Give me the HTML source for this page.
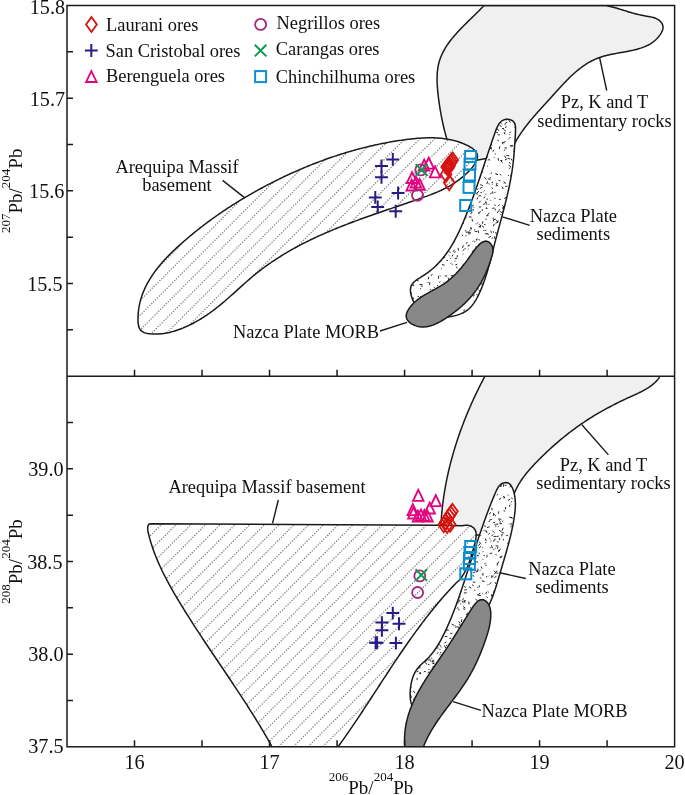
<!DOCTYPE html><html><head><meta charset="utf-8"><style>html,body{margin:0;padding:0;background:#fff;width:685px;height:795px;overflow:hidden}svg{display:block;will-change:transform}</style></head><body><svg width="685" height="795" viewBox="0 0 685 795">
<defs>
<clipPath id="cpT"><rect x="67.0" y="5.5" width="607.6" height="370.7"/></clipPath>
<clipPath id="cpB"><rect x="67.0" y="376.2" width="607.6" height="370.59999999999997"/></clipPath>
<clipPath id="cnt"><path d="M506.18,119.34 L507.75,119.32 L509.36,119.53 L510.93,119.98 L512.36,120.66 L513.54,121.59 L514.41,122.76 L514.98,124.14 L515.31,125.65 L515.47,127.26 L515.51,128.88 L515.51,130.47 L515.47,132.02 L515.41,133.55 L515.33,135.05 L515.24,136.53 L515.15,138.01 L515.05,139.50 L514.96,140.99 L514.86,142.48 L514.77,143.97 L514.67,145.47 L514.57,146.97 L514.46,148.47 L514.35,149.98 L514.24,151.48 L514.12,152.99 L513.99,154.50 L513.86,156.00 L513.72,157.51 L513.58,159.02 L513.42,160.52 L513.26,162.02 L513.08,163.53 L512.90,165.02 L512.70,166.52 L512.50,168.02 L512.28,169.51 L512.06,171.00 L511.83,172.49 L511.59,173.97 L511.34,175.46 L511.08,176.94 L510.81,178.42 L510.54,179.90 L510.26,181.38 L509.97,182.86 L509.67,184.33 L509.37,185.81 L509.06,187.28 L508.74,188.75 L508.42,190.22 L508.10,191.69 L507.76,193.16 L507.43,194.62 L507.08,196.09 L506.73,197.55 L506.38,199.02 L506.03,200.48 L505.66,201.94 L505.30,203.40 L504.93,204.86 L504.56,206.32 L504.18,207.77 L503.81,209.23 L503.43,210.69 L503.04,212.14 L502.66,213.60 L502.27,215.06 L501.89,216.51 L501.50,217.96 L501.10,219.42 L500.71,220.87 L500.32,222.33 L499.93,223.78 L499.54,225.23 L499.14,226.69 L498.75,228.14 L498.36,229.59 L497.97,231.05 L497.58,232.50 L497.19,233.95 L496.80,235.41 L496.42,236.86 L496.04,238.32 L495.66,239.77 L495.28,241.23 L494.90,242.68 L494.53,244.14 L494.16,245.60 L493.79,247.05 L493.43,248.51 L493.06,249.97 L492.70,251.43 L492.33,252.88 L491.97,254.34 L491.60,255.80 L491.23,257.25 L490.85,258.71 L490.48,260.16 L490.09,261.62 L489.71,263.07 L489.32,264.52 L488.92,265.97 L488.52,267.42 L488.10,268.86 L487.69,270.31 L487.26,271.75 L486.82,273.19 L486.38,274.63 L485.92,276.06 L485.46,277.50 L484.98,278.93 L484.49,280.35 L483.98,281.78 L483.47,283.20 L482.94,284.62 L482.39,286.04 L481.84,287.45 L481.26,288.86 L480.67,290.26 L480.06,291.66 L479.44,293.06 L478.79,294.45 L478.12,295.82 L477.43,297.18 L476.71,298.52 L475.96,299.83 L475.18,301.11 L474.37,302.37 L473.52,303.58 L472.64,304.76 L471.72,305.90 L470.75,306.99 L469.74,308.03 L468.69,309.01 L467.59,309.94 L466.43,310.80 L465.23,311.60 L463.97,312.33 L462.67,313.00 L461.32,313.61 L459.93,314.16 L458.50,314.66 L457.04,315.11 L455.55,315.52 L454.04,315.89 L452.51,316.22 L450.96,316.52 L449.39,316.79 L447.82,317.04 L446.24,317.26 L444.66,317.47 L443.08,317.66 L441.51,317.83 L439.95,317.97 L438.40,318.08 L436.87,318.14 L435.36,318.15 L433.88,318.11 L432.42,318.00 L431.00,317.81 L429.60,317.55 L428.25,317.20 L426.94,316.75 L425.68,316.21 L424.47,315.55 L423.30,314.78 L422.19,313.91 L421.12,312.95 L420.09,311.90 L419.11,310.77 L418.18,309.56 L417.28,308.29 L416.42,306.95 L415.60,305.57 L414.82,304.13 L414.06,302.66 L413.35,301.16 L412.69,299.63 L412.09,298.09 L411.56,296.55 L411.12,295.02 L410.78,293.51 L410.54,292.02 L410.43,290.57 L410.45,289.17 L410.62,287.83 L410.95,286.55 L411.44,285.35 L412.10,284.23 L412.91,283.17 L413.84,282.18 L414.89,281.23 L416.04,280.32 L417.26,279.45 L418.54,278.60 L419.86,277.76 L421.21,276.93 L422.57,276.09 L423.91,275.25 L425.23,274.38 L426.52,273.49 L427.79,272.58 L429.03,271.66 L430.24,270.71 L431.43,269.74 L432.60,268.76 L433.74,267.75 L434.86,266.73 L435.95,265.69 L437.02,264.64 L438.07,263.57 L439.10,262.48 L440.11,261.38 L441.10,260.26 L442.06,259.12 L443.01,257.97 L443.94,256.81 L444.85,255.64 L445.74,254.45 L446.61,253.24 L447.47,252.03 L448.31,250.80 L449.13,249.56 L449.94,248.31 L450.73,247.05 L451.51,245.78 L452.27,244.49 L453.02,243.20 L453.75,241.90 L454.47,240.59 L455.18,239.27 L455.88,237.95 L456.57,236.61 L457.24,235.27 L457.91,233.92 L458.56,232.56 L459.21,231.20 L459.84,229.84 L460.47,228.46 L461.09,227.09 L461.70,225.70 L462.30,224.32 L462.90,222.93 L463.49,221.53 L464.08,220.14 L464.66,218.74 L465.23,217.34 L465.80,215.94 L466.37,214.53 L466.93,213.13 L467.49,211.72 L468.04,210.31 L468.59,208.90 L469.13,207.49 L469.67,206.07 L470.21,204.66 L470.75,203.24 L471.28,201.83 L471.80,200.41 L472.33,198.99 L472.85,197.57 L473.36,196.15 L473.88,194.73 L474.39,193.31 L474.89,191.89 L475.40,190.46 L475.90,189.04 L476.40,187.62 L476.90,186.20 L477.39,184.77 L477.88,183.35 L478.37,181.93 L478.86,180.51 L479.35,179.08 L479.83,177.66 L480.31,176.24 L480.79,174.82 L481.27,173.40 L481.75,171.98 L482.22,170.56 L482.70,169.15 L483.17,167.73 L483.64,166.31 L484.11,164.90 L484.58,163.49 L485.05,162.07 L485.52,160.66 L485.98,159.25 L486.45,157.85 L486.92,156.44 L487.38,155.03 L487.85,153.63 L488.32,152.22 L488.79,150.81 L489.26,149.40 L489.73,147.98 L490.21,146.56 L490.69,145.13 L491.18,143.69 L491.67,142.25 L492.17,140.80 L492.67,139.34 L493.18,137.87 L493.69,136.39 L494.22,134.90 L494.75,133.39 L495.29,131.87 L495.85,130.36 L496.44,128.88 L497.06,127.43 L497.74,126.05 L498.48,124.74 L499.29,123.54 L500.18,122.44 L501.16,121.48 L502.24,120.68 L503.43,120.04 L504.74,119.59 L506.18,119.34 Z"/></clipPath>
<clipPath id="cnb"><path d="M507.38,482.76 L508.54,483.23 L509.58,483.94 L510.51,484.88 L511.34,486.00 L512.07,487.28 L512.72,488.69 L513.28,490.20 L513.76,491.77 L514.16,493.38 L514.51,494.99 L514.79,496.58 L515.01,498.16 L515.17,499.73 L515.29,501.28 L515.36,502.81 L515.38,504.34 L515.36,505.85 L515.31,507.35 L515.22,508.85 L515.10,510.34 L514.96,511.82 L514.79,513.30 L514.61,514.77 L514.40,516.24 L514.19,517.71 L513.96,519.18 L513.72,520.65 L513.46,522.11 L513.20,523.58 L512.92,525.04 L512.63,526.51 L512.34,527.97 L512.03,529.43 L511.71,530.89 L511.39,532.34 L511.05,533.80 L510.71,535.26 L510.36,536.71 L510.00,538.17 L509.63,539.62 L509.26,541.07 L508.88,542.53 L508.49,543.98 L508.10,545.43 L507.70,546.88 L507.30,548.33 L506.89,549.78 L506.48,551.23 L506.07,552.68 L505.65,554.13 L505.23,555.58 L504.81,557.03 L504.38,558.48 L503.95,559.92 L503.53,561.37 L503.10,562.82 L502.67,564.27 L502.24,565.72 L501.81,567.17 L501.38,568.62 L500.95,570.07 L500.53,571.52 L500.10,572.97 L499.68,574.42 L499.26,575.87 L498.84,577.32 L498.41,578.77 L497.99,580.22 L497.56,581.66 L497.13,583.11 L496.69,584.55 L496.24,585.99 L495.79,587.43 L495.33,588.86 L494.86,590.29 L494.37,591.71 L493.88,593.13 L493.37,594.55 L492.84,595.95 L492.30,597.36 L491.74,598.75 L491.16,600.14 L490.57,601.53 L489.95,602.90 L489.31,604.27 L488.66,605.62 L487.98,606.97 L487.28,608.30 L486.57,609.63 L485.83,610.94 L485.08,612.24 L484.30,613.52 L483.51,614.79 L482.70,616.04 L481.87,617.27 L481.02,618.49 L480.15,619.69 L479.26,620.87 L478.36,622.03 L477.44,623.17 L476.49,624.29 L475.54,625.39 L474.56,626.46 L473.57,627.51 L472.55,628.53 L471.52,629.53 L470.48,630.50 L469.42,631.44 L468.34,632.36 L467.25,633.27 L466.14,634.15 L465.03,635.03 L463.90,635.89 L462.77,636.75 L461.63,637.61 L460.49,638.47 L459.35,639.34 L458.20,640.22 L457.05,641.11 L455.90,642.01 L454.76,642.94 L453.62,643.88 L452.49,644.86 L451.36,645.86 L450.25,646.90 L449.14,647.98 L448.05,649.10 L446.96,650.26 L445.90,651.48 L444.85,652.74 L443.82,654.06 L442.80,655.44 L441.81,656.88 L440.84,658.39 L439.90,659.96 L438.98,661.61 L438.09,663.33 L437.21,665.10 L436.36,666.92 L435.53,668.79 L434.73,670.69 L433.94,672.63 L433.16,674.58 L432.41,676.55 L431.67,678.52 L430.94,680.49 L430.23,682.46 L429.53,684.41 L428.84,686.33 L428.16,688.23 L427.49,690.09 L426.83,691.90 L426.17,693.66 L425.52,695.36 L424.88,696.99 L424.24,698.55 L423.60,700.02 L422.96,701.41 L422.32,702.69 L421.68,703.88 L421.04,704.95 L420.39,705.90 L419.74,706.72 L419.09,707.41 L418.43,707.96 L417.76,708.36 L417.08,708.60 L416.39,708.67 L415.69,708.58 L414.98,708.31 L414.25,707.85 L413.52,707.20 L412.82,706.38 L412.17,705.40 L411.62,704.29 L411.16,703.05 L410.80,701.71 L410.52,700.28 L410.32,698.77 L410.19,697.20 L410.13,695.58 L410.13,693.93 L410.18,692.26 L410.27,690.60 L410.41,688.95 L410.59,687.32 L410.81,685.72 L411.07,684.14 L411.37,682.59 L411.72,681.07 L412.12,679.58 L412.56,678.12 L413.06,676.70 L413.61,675.30 L414.21,673.95 L414.87,672.63 L415.59,671.35 L416.37,670.11 L417.21,668.90 L418.11,667.74 L419.08,666.63 L420.11,665.55 L421.18,664.50 L422.29,663.47 L423.41,662.45 L424.54,661.44 L425.67,660.41 L426.77,659.37 L427.84,658.31 L428.89,657.22 L429.90,656.11 L430.88,654.98 L431.84,653.82 L432.77,652.65 L433.68,651.46 L434.56,650.25 L435.41,649.02 L436.25,647.78 L437.06,646.52 L437.86,645.25 L438.63,643.97 L439.39,642.67 L440.13,641.36 L440.86,640.04 L441.57,638.72 L442.26,637.38 L442.95,636.04 L443.62,634.69 L444.28,633.34 L444.93,631.98 L445.57,630.62 L446.21,629.26 L446.83,627.89 L447.45,626.52 L448.06,625.15 L448.67,623.77 L449.26,622.39 L449.85,621.01 L450.43,619.63 L451.01,618.24 L451.58,616.85 L452.14,615.46 L452.69,614.06 L453.24,612.66 L453.79,611.27 L454.33,609.86 L454.86,608.46 L455.39,607.05 L455.91,605.64 L456.43,604.23 L456.94,602.82 L457.45,601.41 L457.96,599.99 L458.46,598.58 L458.96,597.16 L459.45,595.74 L459.95,594.32 L460.43,592.89 L460.92,591.47 L461.40,590.04 L461.88,588.62 L462.36,587.19 L462.84,585.76 L463.31,584.33 L463.78,582.90 L464.25,581.47 L464.72,580.03 L465.19,578.60 L465.66,577.17 L466.13,575.73 L466.59,574.30 L467.06,572.86 L467.53,571.43 L467.99,569.99 L468.46,568.56 L468.92,567.12 L469.39,565.69 L469.86,564.25 L470.32,562.82 L470.79,561.38 L471.26,559.95 L471.72,558.51 L472.19,557.08 L472.66,555.64 L473.13,554.21 L473.60,552.77 L474.07,551.34 L474.54,549.91 L475.01,548.48 L475.49,547.05 L475.96,545.62 L476.43,544.19 L476.91,542.76 L477.39,541.33 L477.87,539.91 L478.35,538.48 L478.83,537.06 L479.31,535.63 L479.80,534.21 L480.28,532.79 L480.77,531.37 L481.26,529.96 L481.75,528.54 L482.25,527.13 L482.74,525.71 L483.24,524.30 L483.74,522.89 L484.24,521.48 L484.74,520.08 L485.25,518.68 L485.76,517.27 L486.27,515.87 L486.78,514.48 L487.30,513.08 L487.82,511.69 L488.34,510.29 L488.87,508.90 L489.41,507.50 L489.95,506.10 L490.50,504.70 L491.05,503.29 L491.62,501.88 L492.19,500.46 L492.77,499.03 L493.36,497.60 L493.97,496.15 L494.58,494.70 L495.21,493.24 L495.85,491.77 L496.52,490.31 L497.24,488.90 L498.02,487.55 L498.89,486.31 L499.85,485.21 L500.93,484.26 L502.14,483.50 L503.44,482.96 L504.79,482.64 L506.12,482.57 L507.38,482.76 Z"/></clipPath>
</defs>
<rect width="685" height="795" fill="#fff"/>
<g clip-path="url(#cpT)" stroke-linejoin="round">
<path d="M483.80,5.50 L605.70,5.50 L605.70,5.50 L607.32,5.82 L608.91,6.17 L610.45,6.53 L611.97,6.90 L613.46,7.29 L614.92,7.69 L616.36,8.09 L617.79,8.51 L619.19,8.93 L620.58,9.35 L621.96,9.78 L623.34,10.21 L624.71,10.64 L626.08,11.07 L627.45,11.49 L628.82,11.91 L630.20,12.33 L631.60,12.74 L633.01,13.14 L634.43,13.54 L635.88,13.92 L637.34,14.29 L638.84,14.64 L640.36,14.98 L641.92,15.31 L643.51,15.61 L645.14,15.90 L646.79,16.18 L648.46,16.47 L650.11,16.78 L651.75,17.14 L653.34,17.56 L654.88,18.05 L656.34,18.64 L657.71,19.34 L658.97,20.17 L660.10,21.11 L661.09,22.17 L661.90,23.33 L662.51,24.56 L662.90,25.86 L663.06,27.21 L662.95,28.59 L662.59,30.00 L662.02,31.40 L661.31,32.78 L660.51,34.10 L659.65,35.36 L658.75,36.56 L657.80,37.69 L656.81,38.76 L655.78,39.77 L654.71,40.73 L653.60,41.63 L652.45,42.48 L651.27,43.28 L650.06,44.03 L648.81,44.73 L647.53,45.39 L646.23,46.01 L644.89,46.60 L643.54,47.14 L642.15,47.65 L640.75,48.14 L639.32,48.59 L637.87,49.01 L636.41,49.41 L634.92,49.79 L633.43,50.14 L631.92,50.48 L630.39,50.80 L628.86,51.11 L627.32,51.41 L625.77,51.70 L624.21,51.98 L622.65,52.26 L621.09,52.53 L619.52,52.81 L617.96,53.09 L616.39,53.37 L614.84,53.66 L613.28,53.96 L611.73,54.27 L610.19,54.59 L608.66,54.94 L607.14,55.29 L605.63,55.67 L604.14,56.08 L602.66,56.51 L601.20,56.96 L599.75,57.45 L598.33,57.96 L596.93,58.51 L595.54,59.10 L594.18,59.71 L592.83,60.35 L591.51,61.02 L590.20,61.72 L588.91,62.45 L587.63,63.20 L586.37,63.98 L585.13,64.79 L583.90,65.61 L582.68,66.46 L581.48,67.34 L580.29,68.23 L579.12,69.14 L577.96,70.08 L576.81,71.03 L575.67,72.00 L574.54,72.98 L573.42,73.98 L572.31,75.00 L571.21,76.03 L570.12,77.08 L569.04,78.13 L567.96,79.20 L566.90,80.28 L565.83,81.37 L564.78,82.47 L563.73,83.57 L562.68,84.68 L561.64,85.80 L560.60,86.93 L559.56,88.06 L558.53,89.19 L557.50,90.32 L556.47,91.46 L555.44,92.60 L554.42,93.74 L553.39,94.87 L552.36,96.01 L551.33,97.14 L550.30,98.27 L549.27,99.40 L548.24,100.53 L547.21,101.66 L546.18,102.78 L545.15,103.90 L544.12,105.03 L543.10,106.15 L542.08,107.28 L541.06,108.40 L540.04,109.53 L539.03,110.65 L538.02,111.78 L537.02,112.92 L536.02,114.05 L535.03,115.19 L534.04,116.33 L533.07,117.48 L532.09,118.63 L531.13,119.78 L530.17,120.94 L529.22,122.10 L528.28,123.27 L527.35,124.45 L526.43,125.63 L525.52,126.82 L524.62,128.02 L523.73,129.22 L522.86,130.43 L521.99,131.65 L521.14,132.88 L520.30,134.12 L519.47,135.37 L518.66,136.63 L517.86,137.89 L517.07,139.17 L516.31,140.46 L515.55,141.76 L514.81,143.07 L514.09,144.40 L514.00,146.00 L500.00,152.00 L486.00,158.40 L476.80,160.30 L460.00,150.00 L447.00,139.50 L446.51,137.98 L446.10,136.53 L445.70,135.07 L445.31,133.61 L444.93,132.14 L444.56,130.68 L444.20,129.21 L443.84,127.74 L443.50,126.27 L443.16,124.79 L442.83,123.31 L442.51,121.83 L442.20,120.34 L441.89,118.85 L441.59,117.36 L441.30,115.86 L441.02,114.36 L440.75,112.86 L440.49,111.35 L440.23,109.84 L439.98,108.32 L439.74,106.80 L439.50,105.27 L439.28,103.74 L439.06,102.21 L438.84,100.67 L438.64,99.12 L438.44,97.57 L438.25,96.02 L438.07,94.46 L437.90,92.89 L437.74,91.32 L437.59,89.75 L437.46,88.18 L437.34,86.61 L437.24,85.05 L437.16,83.48 L437.10,81.92 L437.07,80.36 L437.06,78.80 L437.07,77.25 L437.12,75.71 L437.19,74.17 L437.30,72.65 L437.43,71.13 L437.61,69.63 L437.81,68.14 L438.06,66.66 L438.34,65.19 L438.67,63.74 L439.04,62.30 L439.45,60.88 L439.90,59.48 L440.40,58.09 L440.93,56.71 L441.50,55.35 L442.11,54.01 L442.75,52.68 L443.43,51.36 L444.14,50.05 L444.88,48.76 L445.65,47.48 L446.45,46.21 L447.28,44.96 L448.14,43.71 L449.02,42.48 L449.93,41.26 L450.85,40.05 L451.80,38.84 L452.77,37.65 L453.76,36.47 L454.76,35.29 L455.79,34.13 L456.82,32.97 L457.87,31.82 L458.94,30.67 L460.01,29.54 L461.10,28.41 L462.19,27.29 L463.29,26.17 L464.40,25.06 L465.51,23.95 L466.62,22.85 L467.74,21.75 L468.86,20.66 L469.97,19.57 L471.09,18.48 L472.20,17.40 L473.31,16.32 L474.41,15.24 L475.51,14.17 L476.60,13.09 L477.68,12.02 L478.75,10.95 L479.81,9.87 L480.85,8.80 L481.88,7.73 L482.90,6.66 L483.80,5.50 Z" fill="#f0f0f0" stroke="#1a1a1a" stroke-width="1.5"/>
<path d="M137.98,318.18 L138.02,316.61 L138.09,315.06 L138.20,313.52 L138.34,311.99 L138.51,310.48 L138.71,308.98 L138.94,307.49 L139.20,306.01 L139.49,304.54 L139.81,303.09 L140.16,301.65 L140.54,300.22 L140.95,298.80 L141.38,297.39 L141.84,295.99 L142.33,294.61 L142.84,293.23 L143.37,291.87 L143.94,290.52 L144.52,289.17 L145.13,287.84 L145.77,286.52 L146.42,285.21 L147.10,283.91 L147.80,282.61 L148.52,281.33 L149.27,280.06 L150.03,278.80 L150.81,277.55 L151.61,276.30 L152.43,275.07 L153.27,273.84 L154.13,272.63 L155.01,271.42 L155.90,270.22 L156.81,269.03 L157.73,267.85 L158.67,266.68 L159.62,265.52 L160.59,264.36 L161.57,263.21 L162.57,262.07 L163.58,260.94 L164.60,259.81 L165.63,258.70 L166.68,257.59 L167.73,256.48 L168.80,255.39 L169.88,254.30 L170.96,253.22 L172.06,252.15 L173.16,251.08 L174.27,250.02 L175.39,248.96 L176.51,247.91 L177.64,246.87 L178.78,245.84 L179.93,244.81 L181.07,243.78 L182.23,242.76 L183.38,241.75 L184.54,240.74 L185.71,239.74 L186.87,238.74 L188.04,237.75 L189.22,236.77 L190.39,235.79 L191.57,234.81 L192.75,233.84 L193.94,232.88 L195.12,231.92 L196.31,230.96 L197.51,230.01 L198.70,229.07 L199.90,228.13 L201.10,227.19 L202.30,226.27 L203.51,225.34 L204.72,224.42 L205.93,223.51 L207.15,222.60 L208.36,221.70 L209.58,220.80 L210.81,219.90 L212.03,219.01 L213.26,218.13 L214.49,217.25 L215.72,216.38 L216.96,215.51 L218.20,214.64 L219.44,213.78 L220.68,212.93 L221.93,212.08 L223.18,211.23 L224.43,210.39 L225.68,209.56 L226.94,208.73 L228.20,207.90 L229.46,207.08 L230.72,206.26 L231.99,205.45 L233.25,204.64 L234.52,203.84 L235.80,203.04 L237.07,202.25 L238.35,201.46 L239.63,200.67 L240.91,199.89 L242.19,199.12 L243.48,198.34 L244.77,197.58 L246.06,196.82 L247.35,196.06 L248.65,195.30 L249.95,194.55 L251.25,193.81 L252.55,193.07 L253.85,192.33 L255.16,191.60 L256.47,190.87 L257.78,190.15 L259.09,189.43 L260.41,188.72 L261.72,188.01 L263.04,187.30 L264.36,186.60 L265.68,185.90 L267.01,185.20 L268.33,184.51 L269.66,183.83 L270.99,183.15 L272.33,182.47 L273.66,181.80 L275.00,181.13 L276.33,180.46 L277.67,179.80 L279.02,179.14 L280.36,178.49 L281.71,177.84 L283.05,177.19 L284.40,176.55 L285.75,175.91 L287.11,175.28 L288.46,174.65 L289.82,174.03 L291.18,173.40 L292.54,172.79 L293.90,172.18 L295.26,171.57 L296.63,170.96 L298.00,170.36 L299.37,169.77 L300.74,169.18 L302.11,168.59 L303.49,168.01 L304.86,167.43 L306.24,166.86 L307.63,166.29 L309.01,165.72 L310.39,165.16 L311.78,164.61 L313.17,164.06 L314.56,163.51 L315.96,162.97 L317.35,162.43 L318.75,161.90 L320.15,161.38 L321.55,160.85 L322.95,160.33 L324.36,159.82 L325.77,159.31 L327.17,158.81 L328.59,158.31 L330.00,157.82 L331.41,157.33 L332.83,156.85 L334.25,156.37 L335.67,155.89 L337.10,155.42 L338.52,154.96 L339.95,154.50 L341.38,154.05 L342.81,153.60 L344.25,153.16 L345.68,152.72 L347.12,152.29 L348.56,151.86 L350.00,151.44 L351.45,151.02 L352.90,150.61 L354.34,150.20 L355.80,149.80 L357.25,149.40 L358.70,149.01 L360.16,148.63 L361.62,148.25 L363.08,147.87 L364.55,147.51 L366.01,147.14 L367.48,146.79 L368.95,146.43 L370.43,146.09 L371.90,145.75 L373.38,145.41 L374.86,145.08 L376.34,144.76 L377.82,144.44 L379.31,144.13 L380.80,143.82 L382.29,143.52 L383.78,143.23 L385.28,142.94 L386.77,142.66 L388.27,142.38 L389.77,142.11 L391.28,141.85 L392.78,141.59 L394.29,141.33 L395.80,141.09 L397.32,140.85 L398.83,140.61 L400.35,140.38 L401.87,140.16 L403.39,139.94 L404.92,139.73 L406.44,139.53 L407.97,139.34 L409.50,139.15 L411.03,138.97 L412.57,138.80 L414.10,138.65 L415.63,138.50 L417.16,138.36 L418.70,138.24 L420.23,138.13 L421.76,138.04 L423.29,137.95 L424.82,137.89 L426.35,137.84 L427.88,137.80 L429.40,137.78 L430.92,137.78 L432.44,137.80 L433.96,137.84 L435.47,137.90 L436.98,137.98 L438.49,138.07 L439.99,138.19 L441.49,138.34 L442.98,138.50 L444.47,138.69 L445.95,138.90 L447.43,139.14 L448.90,139.41 L450.37,139.70 L451.83,140.02 L453.29,140.36 L454.73,140.73 L456.18,141.14 L457.61,141.57 L459.04,142.03 L460.45,142.53 L461.86,143.05 L463.27,143.61 L464.66,144.20 L466.05,144.82 L467.42,145.48 L468.76,146.18 L470.06,146.91 L471.30,147.67 L472.47,148.48 L473.55,149.32 L474.53,150.20 L475.39,151.12 L476.12,152.09 L476.70,153.09 L477.12,154.14 L477.36,155.22 L477.44,156.35 L477.35,157.51 L477.12,158.70 L476.75,159.91 L476.26,161.15 L475.64,162.40 L474.92,163.65 L474.10,164.92 L473.19,166.18 L472.21,167.45 L471.15,168.70 L470.04,169.94 L468.89,171.16 L467.69,172.36 L466.47,173.53 L465.23,174.67 L463.99,175.78 L462.73,176.85 L461.47,177.88 L460.20,178.88 L458.93,179.85 L457.65,180.79 L456.36,181.69 L455.07,182.57 L453.77,183.42 L452.46,184.25 L451.15,185.04 L449.83,185.82 L448.51,186.56 L447.19,187.29 L445.85,187.99 L444.52,188.68 L443.18,189.34 L441.83,189.99 L440.48,190.61 L439.13,191.22 L437.77,191.82 L436.40,192.40 L435.04,192.97 L433.67,193.53 L432.29,194.07 L430.92,194.60 L429.54,195.13 L428.15,195.65 L426.77,196.16 L425.38,196.66 L423.99,197.16 L422.59,197.66 L421.20,198.15 L419.80,198.64 L418.40,199.14 L417.00,199.63 L415.60,200.11 L414.19,200.60 L412.78,201.09 L411.38,201.58 L409.96,202.06 L408.55,202.55 L407.14,203.03 L405.73,203.52 L404.31,204.00 L402.89,204.48 L401.47,204.97 L400.06,205.45 L398.63,205.93 L397.21,206.42 L395.79,206.90 L394.37,207.39 L392.94,207.87 L391.52,208.36 L390.09,208.84 L388.67,209.33 L387.24,209.82 L385.82,210.30 L384.39,210.79 L382.96,211.28 L381.53,211.77 L380.11,212.27 L378.68,212.76 L377.25,213.25 L375.82,213.75 L374.39,214.25 L372.97,214.75 L371.54,215.25 L370.11,215.75 L368.68,216.25 L367.26,216.76 L365.83,217.27 L364.40,217.78 L362.98,218.29 L361.56,218.80 L360.13,219.32 L358.71,219.84 L357.29,220.36 L355.87,220.88 L354.45,221.41 L353.03,221.94 L351.61,222.47 L350.19,223.01 L348.78,223.55 L347.36,224.09 L345.95,224.63 L344.54,225.18 L343.13,225.73 L341.72,226.28 L340.31,226.84 L338.91,227.40 L337.51,227.97 L336.11,228.54 L334.71,229.11 L333.31,229.68 L331.91,230.26 L330.52,230.85 L329.13,231.44 L327.74,232.03 L326.35,232.63 L324.97,233.23 L323.59,233.83 L322.21,234.44 L320.83,235.06 L319.46,235.68 L318.09,236.30 L316.72,236.93 L315.35,237.57 L313.99,238.21 L312.63,238.85 L311.27,239.50 L309.92,240.16 L308.57,240.82 L307.22,241.48 L305.88,242.15 L304.54,242.83 L303.20,243.51 L301.87,244.20 L300.54,244.90 L299.21,245.59 L297.89,246.30 L296.57,247.01 L295.26,247.73 L293.95,248.45 L292.64,249.18 L291.34,249.92 L290.04,250.66 L288.74,251.40 L287.45,252.15 L286.17,252.91 L284.89,253.68 L283.61,254.45 L282.34,255.23 L281.08,256.01 L279.81,256.80 L278.56,257.59 L277.31,258.39 L276.06,259.20 L274.82,260.02 L273.58,260.84 L272.35,261.66 L271.13,262.50 L269.91,263.34 L268.69,264.18 L267.49,265.04 L266.28,265.89 L265.09,266.76 L263.90,267.63 L262.71,268.51 L261.53,269.40 L260.36,270.29 L259.19,271.19 L258.03,272.09 L256.88,273.00 L255.73,273.92 L254.59,274.85 L253.46,275.78 L252.33,276.72 L251.21,277.67 L250.09,278.62 L248.98,279.57 L247.88,280.54 L246.77,281.50 L245.67,282.47 L244.57,283.45 L243.48,284.43 L242.38,285.41 L241.29,286.39 L240.20,287.38 L239.11,288.37 L238.01,289.36 L236.92,290.35 L235.82,291.34 L234.73,292.33 L233.63,293.33 L232.52,294.32 L231.42,295.31 L230.30,296.30 L229.19,297.29 L228.07,298.28 L226.94,299.26 L225.81,300.24 L224.67,301.22 L223.52,302.20 L222.36,303.17 L221.20,304.14 L220.03,305.10 L218.85,306.06 L217.65,307.02 L216.45,307.96 L215.24,308.91 L214.01,309.84 L212.78,310.77 L211.53,311.69 L210.26,312.60 L208.99,313.51 L207.70,314.41 L206.39,315.29 L205.08,316.17 L203.75,317.04 L202.41,317.89 L201.05,318.74 L199.69,319.56 L198.32,320.38 L196.94,321.18 L195.55,321.96 L194.15,322.73 L192.74,323.47 L191.32,324.21 L189.90,324.92 L188.47,325.61 L187.04,326.28 L185.60,326.93 L184.15,327.55 L182.70,328.16 L181.25,328.73 L179.79,329.29 L178.33,329.82 L176.86,330.32 L175.40,330.79 L173.93,331.24 L172.47,331.65 L171.00,332.04 L169.53,332.40 L168.06,332.72 L166.60,333.01 L165.13,333.27 L163.67,333.50 L162.21,333.69 L160.76,333.84 L159.31,333.96 L157.86,334.04 L156.41,334.09 L154.98,334.09 L153.54,334.05 L152.12,333.98 L150.70,333.86 L149.29,333.70 L147.89,333.50 L146.52,333.23 L145.20,332.89 L143.96,332.45 L142.80,331.90 L141.75,331.23 L140.84,330.43 L140.07,329.46 L139.44,328.35 L138.95,327.12 L138.58,325.78 L138.31,324.35 L138.13,322.86 L138.02,321.32 L137.98,319.75 L137.98,318.18 Z" fill="#fff" stroke="none"/>
<clipPath id="cat"><path d="M137.98,318.18 L138.02,316.61 L138.09,315.06 L138.20,313.52 L138.34,311.99 L138.51,310.48 L138.71,308.98 L138.94,307.49 L139.20,306.01 L139.49,304.54 L139.81,303.09 L140.16,301.65 L140.54,300.22 L140.95,298.80 L141.38,297.39 L141.84,295.99 L142.33,294.61 L142.84,293.23 L143.37,291.87 L143.94,290.52 L144.52,289.17 L145.13,287.84 L145.77,286.52 L146.42,285.21 L147.10,283.91 L147.80,282.61 L148.52,281.33 L149.27,280.06 L150.03,278.80 L150.81,277.55 L151.61,276.30 L152.43,275.07 L153.27,273.84 L154.13,272.63 L155.01,271.42 L155.90,270.22 L156.81,269.03 L157.73,267.85 L158.67,266.68 L159.62,265.52 L160.59,264.36 L161.57,263.21 L162.57,262.07 L163.58,260.94 L164.60,259.81 L165.63,258.70 L166.68,257.59 L167.73,256.48 L168.80,255.39 L169.88,254.30 L170.96,253.22 L172.06,252.15 L173.16,251.08 L174.27,250.02 L175.39,248.96 L176.51,247.91 L177.64,246.87 L178.78,245.84 L179.93,244.81 L181.07,243.78 L182.23,242.76 L183.38,241.75 L184.54,240.74 L185.71,239.74 L186.87,238.74 L188.04,237.75 L189.22,236.77 L190.39,235.79 L191.57,234.81 L192.75,233.84 L193.94,232.88 L195.12,231.92 L196.31,230.96 L197.51,230.01 L198.70,229.07 L199.90,228.13 L201.10,227.19 L202.30,226.27 L203.51,225.34 L204.72,224.42 L205.93,223.51 L207.15,222.60 L208.36,221.70 L209.58,220.80 L210.81,219.90 L212.03,219.01 L213.26,218.13 L214.49,217.25 L215.72,216.38 L216.96,215.51 L218.20,214.64 L219.44,213.78 L220.68,212.93 L221.93,212.08 L223.18,211.23 L224.43,210.39 L225.68,209.56 L226.94,208.73 L228.20,207.90 L229.46,207.08 L230.72,206.26 L231.99,205.45 L233.25,204.64 L234.52,203.84 L235.80,203.04 L237.07,202.25 L238.35,201.46 L239.63,200.67 L240.91,199.89 L242.19,199.12 L243.48,198.34 L244.77,197.58 L246.06,196.82 L247.35,196.06 L248.65,195.30 L249.95,194.55 L251.25,193.81 L252.55,193.07 L253.85,192.33 L255.16,191.60 L256.47,190.87 L257.78,190.15 L259.09,189.43 L260.41,188.72 L261.72,188.01 L263.04,187.30 L264.36,186.60 L265.68,185.90 L267.01,185.20 L268.33,184.51 L269.66,183.83 L270.99,183.15 L272.33,182.47 L273.66,181.80 L275.00,181.13 L276.33,180.46 L277.67,179.80 L279.02,179.14 L280.36,178.49 L281.71,177.84 L283.05,177.19 L284.40,176.55 L285.75,175.91 L287.11,175.28 L288.46,174.65 L289.82,174.03 L291.18,173.40 L292.54,172.79 L293.90,172.18 L295.26,171.57 L296.63,170.96 L298.00,170.36 L299.37,169.77 L300.74,169.18 L302.11,168.59 L303.49,168.01 L304.86,167.43 L306.24,166.86 L307.63,166.29 L309.01,165.72 L310.39,165.16 L311.78,164.61 L313.17,164.06 L314.56,163.51 L315.96,162.97 L317.35,162.43 L318.75,161.90 L320.15,161.38 L321.55,160.85 L322.95,160.33 L324.36,159.82 L325.77,159.31 L327.17,158.81 L328.59,158.31 L330.00,157.82 L331.41,157.33 L332.83,156.85 L334.25,156.37 L335.67,155.89 L337.10,155.42 L338.52,154.96 L339.95,154.50 L341.38,154.05 L342.81,153.60 L344.25,153.16 L345.68,152.72 L347.12,152.29 L348.56,151.86 L350.00,151.44 L351.45,151.02 L352.90,150.61 L354.34,150.20 L355.80,149.80 L357.25,149.40 L358.70,149.01 L360.16,148.63 L361.62,148.25 L363.08,147.87 L364.55,147.51 L366.01,147.14 L367.48,146.79 L368.95,146.43 L370.43,146.09 L371.90,145.75 L373.38,145.41 L374.86,145.08 L376.34,144.76 L377.82,144.44 L379.31,144.13 L380.80,143.82 L382.29,143.52 L383.78,143.23 L385.28,142.94 L386.77,142.66 L388.27,142.38 L389.77,142.11 L391.28,141.85 L392.78,141.59 L394.29,141.33 L395.80,141.09 L397.32,140.85 L398.83,140.61 L400.35,140.38 L401.87,140.16 L403.39,139.94 L404.92,139.73 L406.44,139.53 L407.97,139.34 L409.50,139.15 L411.03,138.97 L412.57,138.80 L414.10,138.65 L415.63,138.50 L417.16,138.36 L418.70,138.24 L420.23,138.13 L421.76,138.04 L423.29,137.95 L424.82,137.89 L426.35,137.84 L427.88,137.80 L429.40,137.78 L430.92,137.78 L432.44,137.80 L433.96,137.84 L435.47,137.90 L436.98,137.98 L438.49,138.07 L439.99,138.19 L441.49,138.34 L442.98,138.50 L444.47,138.69 L445.95,138.90 L447.43,139.14 L448.90,139.41 L450.37,139.70 L451.83,140.02 L453.29,140.36 L454.73,140.73 L456.18,141.14 L457.61,141.57 L459.04,142.03 L460.45,142.53 L461.86,143.05 L463.27,143.61 L464.66,144.20 L466.05,144.82 L467.42,145.48 L468.76,146.18 L470.06,146.91 L471.30,147.67 L472.47,148.48 L473.55,149.32 L474.53,150.20 L475.39,151.12 L476.12,152.09 L476.70,153.09 L477.12,154.14 L477.36,155.22 L477.44,156.35 L477.35,157.51 L477.12,158.70 L476.75,159.91 L476.26,161.15 L475.64,162.40 L474.92,163.65 L474.10,164.92 L473.19,166.18 L472.21,167.45 L471.15,168.70 L470.04,169.94 L468.89,171.16 L467.69,172.36 L466.47,173.53 L465.23,174.67 L463.99,175.78 L462.73,176.85 L461.47,177.88 L460.20,178.88 L458.93,179.85 L457.65,180.79 L456.36,181.69 L455.07,182.57 L453.77,183.42 L452.46,184.25 L451.15,185.04 L449.83,185.82 L448.51,186.56 L447.19,187.29 L445.85,187.99 L444.52,188.68 L443.18,189.34 L441.83,189.99 L440.48,190.61 L439.13,191.22 L437.77,191.82 L436.40,192.40 L435.04,192.97 L433.67,193.53 L432.29,194.07 L430.92,194.60 L429.54,195.13 L428.15,195.65 L426.77,196.16 L425.38,196.66 L423.99,197.16 L422.59,197.66 L421.20,198.15 L419.80,198.64 L418.40,199.14 L417.00,199.63 L415.60,200.11 L414.19,200.60 L412.78,201.09 L411.38,201.58 L409.96,202.06 L408.55,202.55 L407.14,203.03 L405.73,203.52 L404.31,204.00 L402.89,204.48 L401.47,204.97 L400.06,205.45 L398.63,205.93 L397.21,206.42 L395.79,206.90 L394.37,207.39 L392.94,207.87 L391.52,208.36 L390.09,208.84 L388.67,209.33 L387.24,209.82 L385.82,210.30 L384.39,210.79 L382.96,211.28 L381.53,211.77 L380.11,212.27 L378.68,212.76 L377.25,213.25 L375.82,213.75 L374.39,214.25 L372.97,214.75 L371.54,215.25 L370.11,215.75 L368.68,216.25 L367.26,216.76 L365.83,217.27 L364.40,217.78 L362.98,218.29 L361.56,218.80 L360.13,219.32 L358.71,219.84 L357.29,220.36 L355.87,220.88 L354.45,221.41 L353.03,221.94 L351.61,222.47 L350.19,223.01 L348.78,223.55 L347.36,224.09 L345.95,224.63 L344.54,225.18 L343.13,225.73 L341.72,226.28 L340.31,226.84 L338.91,227.40 L337.51,227.97 L336.11,228.54 L334.71,229.11 L333.31,229.68 L331.91,230.26 L330.52,230.85 L329.13,231.44 L327.74,232.03 L326.35,232.63 L324.97,233.23 L323.59,233.83 L322.21,234.44 L320.83,235.06 L319.46,235.68 L318.09,236.30 L316.72,236.93 L315.35,237.57 L313.99,238.21 L312.63,238.85 L311.27,239.50 L309.92,240.16 L308.57,240.82 L307.22,241.48 L305.88,242.15 L304.54,242.83 L303.20,243.51 L301.87,244.20 L300.54,244.90 L299.21,245.59 L297.89,246.30 L296.57,247.01 L295.26,247.73 L293.95,248.45 L292.64,249.18 L291.34,249.92 L290.04,250.66 L288.74,251.40 L287.45,252.15 L286.17,252.91 L284.89,253.68 L283.61,254.45 L282.34,255.23 L281.08,256.01 L279.81,256.80 L278.56,257.59 L277.31,258.39 L276.06,259.20 L274.82,260.02 L273.58,260.84 L272.35,261.66 L271.13,262.50 L269.91,263.34 L268.69,264.18 L267.49,265.04 L266.28,265.89 L265.09,266.76 L263.90,267.63 L262.71,268.51 L261.53,269.40 L260.36,270.29 L259.19,271.19 L258.03,272.09 L256.88,273.00 L255.73,273.92 L254.59,274.85 L253.46,275.78 L252.33,276.72 L251.21,277.67 L250.09,278.62 L248.98,279.57 L247.88,280.54 L246.77,281.50 L245.67,282.47 L244.57,283.45 L243.48,284.43 L242.38,285.41 L241.29,286.39 L240.20,287.38 L239.11,288.37 L238.01,289.36 L236.92,290.35 L235.82,291.34 L234.73,292.33 L233.63,293.33 L232.52,294.32 L231.42,295.31 L230.30,296.30 L229.19,297.29 L228.07,298.28 L226.94,299.26 L225.81,300.24 L224.67,301.22 L223.52,302.20 L222.36,303.17 L221.20,304.14 L220.03,305.10 L218.85,306.06 L217.65,307.02 L216.45,307.96 L215.24,308.91 L214.01,309.84 L212.78,310.77 L211.53,311.69 L210.26,312.60 L208.99,313.51 L207.70,314.41 L206.39,315.29 L205.08,316.17 L203.75,317.04 L202.41,317.89 L201.05,318.74 L199.69,319.56 L198.32,320.38 L196.94,321.18 L195.55,321.96 L194.15,322.73 L192.74,323.47 L191.32,324.21 L189.90,324.92 L188.47,325.61 L187.04,326.28 L185.60,326.93 L184.15,327.55 L182.70,328.16 L181.25,328.73 L179.79,329.29 L178.33,329.82 L176.86,330.32 L175.40,330.79 L173.93,331.24 L172.47,331.65 L171.00,332.04 L169.53,332.40 L168.06,332.72 L166.60,333.01 L165.13,333.27 L163.67,333.50 L162.21,333.69 L160.76,333.84 L159.31,333.96 L157.86,334.04 L156.41,334.09 L154.98,334.09 L153.54,334.05 L152.12,333.98 L150.70,333.86 L149.29,333.70 L147.89,333.50 L146.52,333.23 L145.20,332.89 L143.96,332.45 L142.80,331.90 L141.75,331.23 L140.84,330.43 L140.07,329.46 L139.44,328.35 L138.95,327.12 L138.58,325.78 L138.31,324.35 L138.13,322.86 L138.02,321.32 L137.98,319.75 L137.98,318.18 Z"/></clipPath>
<path d="M-91.20,340.00L113.80,135.00M-76.45,340.00L128.55,135.00M-61.70,340.00L143.30,135.00M-46.95,340.00L158.05,135.00M-32.20,340.00L172.80,135.00M-17.45,340.00L187.55,135.00M-2.70,340.00L202.30,135.00M12.05,340.00L217.05,135.00M26.80,340.00L231.80,135.00M41.55,340.00L246.55,135.00M56.30,340.00L261.30,135.00M71.05,340.00L276.05,135.00M85.80,340.00L290.80,135.00M100.55,340.00L305.55,135.00M115.30,340.00L320.30,135.00M130.05,340.00L335.05,135.00M144.80,340.00L349.80,135.00M159.55,340.00L364.55,135.00M174.30,340.00L379.30,135.00M189.05,340.00L394.05,135.00M203.80,340.00L408.80,135.00M218.55,340.00L423.55,135.00M233.30,340.00L438.30,135.00M248.05,340.00L453.05,135.00M262.80,340.00L467.80,135.00M277.55,340.00L482.55,135.00M292.30,340.00L497.30,135.00M307.05,340.00L512.05,135.00M321.80,340.00L526.80,135.00M336.55,340.00L541.55,135.00M351.30,340.00L556.30,135.00M366.05,340.00L571.05,135.00M380.80,340.00L585.80,135.00M395.55,340.00L600.55,135.00M410.30,340.00L615.30,135.00M425.05,340.00L630.05,135.00M439.80,340.00L644.80,135.00M454.55,340.00L659.55,135.00M469.30,340.00L674.30,135.00M484.05,340.00L689.05,135.00M498.80,340.00L703.80,135.00" stroke="#868686" stroke-width="1.45" stroke-linecap="round" stroke-dasharray="0.01 2.7" clip-path="url(#cat)"/>
<path d="M137.98,318.18 L138.02,316.61 L138.09,315.06 L138.20,313.52 L138.34,311.99 L138.51,310.48 L138.71,308.98 L138.94,307.49 L139.20,306.01 L139.49,304.54 L139.81,303.09 L140.16,301.65 L140.54,300.22 L140.95,298.80 L141.38,297.39 L141.84,295.99 L142.33,294.61 L142.84,293.23 L143.37,291.87 L143.94,290.52 L144.52,289.17 L145.13,287.84 L145.77,286.52 L146.42,285.21 L147.10,283.91 L147.80,282.61 L148.52,281.33 L149.27,280.06 L150.03,278.80 L150.81,277.55 L151.61,276.30 L152.43,275.07 L153.27,273.84 L154.13,272.63 L155.01,271.42 L155.90,270.22 L156.81,269.03 L157.73,267.85 L158.67,266.68 L159.62,265.52 L160.59,264.36 L161.57,263.21 L162.57,262.07 L163.58,260.94 L164.60,259.81 L165.63,258.70 L166.68,257.59 L167.73,256.48 L168.80,255.39 L169.88,254.30 L170.96,253.22 L172.06,252.15 L173.16,251.08 L174.27,250.02 L175.39,248.96 L176.51,247.91 L177.64,246.87 L178.78,245.84 L179.93,244.81 L181.07,243.78 L182.23,242.76 L183.38,241.75 L184.54,240.74 L185.71,239.74 L186.87,238.74 L188.04,237.75 L189.22,236.77 L190.39,235.79 L191.57,234.81 L192.75,233.84 L193.94,232.88 L195.12,231.92 L196.31,230.96 L197.51,230.01 L198.70,229.07 L199.90,228.13 L201.10,227.19 L202.30,226.27 L203.51,225.34 L204.72,224.42 L205.93,223.51 L207.15,222.60 L208.36,221.70 L209.58,220.80 L210.81,219.90 L212.03,219.01 L213.26,218.13 L214.49,217.25 L215.72,216.38 L216.96,215.51 L218.20,214.64 L219.44,213.78 L220.68,212.93 L221.93,212.08 L223.18,211.23 L224.43,210.39 L225.68,209.56 L226.94,208.73 L228.20,207.90 L229.46,207.08 L230.72,206.26 L231.99,205.45 L233.25,204.64 L234.52,203.84 L235.80,203.04 L237.07,202.25 L238.35,201.46 L239.63,200.67 L240.91,199.89 L242.19,199.12 L243.48,198.34 L244.77,197.58 L246.06,196.82 L247.35,196.06 L248.65,195.30 L249.95,194.55 L251.25,193.81 L252.55,193.07 L253.85,192.33 L255.16,191.60 L256.47,190.87 L257.78,190.15 L259.09,189.43 L260.41,188.72 L261.72,188.01 L263.04,187.30 L264.36,186.60 L265.68,185.90 L267.01,185.20 L268.33,184.51 L269.66,183.83 L270.99,183.15 L272.33,182.47 L273.66,181.80 L275.00,181.13 L276.33,180.46 L277.67,179.80 L279.02,179.14 L280.36,178.49 L281.71,177.84 L283.05,177.19 L284.40,176.55 L285.75,175.91 L287.11,175.28 L288.46,174.65 L289.82,174.03 L291.18,173.40 L292.54,172.79 L293.90,172.18 L295.26,171.57 L296.63,170.96 L298.00,170.36 L299.37,169.77 L300.74,169.18 L302.11,168.59 L303.49,168.01 L304.86,167.43 L306.24,166.86 L307.63,166.29 L309.01,165.72 L310.39,165.16 L311.78,164.61 L313.17,164.06 L314.56,163.51 L315.96,162.97 L317.35,162.43 L318.75,161.90 L320.15,161.38 L321.55,160.85 L322.95,160.33 L324.36,159.82 L325.77,159.31 L327.17,158.81 L328.59,158.31 L330.00,157.82 L331.41,157.33 L332.83,156.85 L334.25,156.37 L335.67,155.89 L337.10,155.42 L338.52,154.96 L339.95,154.50 L341.38,154.05 L342.81,153.60 L344.25,153.16 L345.68,152.72 L347.12,152.29 L348.56,151.86 L350.00,151.44 L351.45,151.02 L352.90,150.61 L354.34,150.20 L355.80,149.80 L357.25,149.40 L358.70,149.01 L360.16,148.63 L361.62,148.25 L363.08,147.87 L364.55,147.51 L366.01,147.14 L367.48,146.79 L368.95,146.43 L370.43,146.09 L371.90,145.75 L373.38,145.41 L374.86,145.08 L376.34,144.76 L377.82,144.44 L379.31,144.13 L380.80,143.82 L382.29,143.52 L383.78,143.23 L385.28,142.94 L386.77,142.66 L388.27,142.38 L389.77,142.11 L391.28,141.85 L392.78,141.59 L394.29,141.33 L395.80,141.09 L397.32,140.85 L398.83,140.61 L400.35,140.38 L401.87,140.16 L403.39,139.94 L404.92,139.73 L406.44,139.53 L407.97,139.34 L409.50,139.15 L411.03,138.97 L412.57,138.80 L414.10,138.65 L415.63,138.50 L417.16,138.36 L418.70,138.24 L420.23,138.13 L421.76,138.04 L423.29,137.95 L424.82,137.89 L426.35,137.84 L427.88,137.80 L429.40,137.78 L430.92,137.78 L432.44,137.80 L433.96,137.84 L435.47,137.90 L436.98,137.98 L438.49,138.07 L439.99,138.19 L441.49,138.34 L442.98,138.50 L444.47,138.69 L445.95,138.90 L447.43,139.14 L448.90,139.41 L450.37,139.70 L451.83,140.02 L453.29,140.36 L454.73,140.73 L456.18,141.14 L457.61,141.57 L459.04,142.03 L460.45,142.53 L461.86,143.05 L463.27,143.61 L464.66,144.20 L466.05,144.82 L467.42,145.48 L468.76,146.18 L470.06,146.91 L471.30,147.67 L472.47,148.48 L473.55,149.32 L474.53,150.20 L475.39,151.12 L476.12,152.09 L476.70,153.09 L477.12,154.14 L477.36,155.22 L477.44,156.35 L477.35,157.51 L477.12,158.70 L476.75,159.91 L476.26,161.15 L475.64,162.40 L474.92,163.65 L474.10,164.92 L473.19,166.18 L472.21,167.45 L471.15,168.70 L470.04,169.94 L468.89,171.16 L467.69,172.36 L466.47,173.53 L465.23,174.67 L463.99,175.78 L462.73,176.85 L461.47,177.88 L460.20,178.88 L458.93,179.85 L457.65,180.79 L456.36,181.69 L455.07,182.57 L453.77,183.42 L452.46,184.25 L451.15,185.04 L449.83,185.82 L448.51,186.56 L447.19,187.29 L445.85,187.99 L444.52,188.68 L443.18,189.34 L441.83,189.99 L440.48,190.61 L439.13,191.22 L437.77,191.82 L436.40,192.40 L435.04,192.97 L433.67,193.53 L432.29,194.07 L430.92,194.60 L429.54,195.13 L428.15,195.65 L426.77,196.16 L425.38,196.66 L423.99,197.16 L422.59,197.66 L421.20,198.15 L419.80,198.64 L418.40,199.14 L417.00,199.63 L415.60,200.11 L414.19,200.60 L412.78,201.09 L411.38,201.58 L409.96,202.06 L408.55,202.55 L407.14,203.03 L405.73,203.52 L404.31,204.00 L402.89,204.48 L401.47,204.97 L400.06,205.45 L398.63,205.93 L397.21,206.42 L395.79,206.90 L394.37,207.39 L392.94,207.87 L391.52,208.36 L390.09,208.84 L388.67,209.33 L387.24,209.82 L385.82,210.30 L384.39,210.79 L382.96,211.28 L381.53,211.77 L380.11,212.27 L378.68,212.76 L377.25,213.25 L375.82,213.75 L374.39,214.25 L372.97,214.75 L371.54,215.25 L370.11,215.75 L368.68,216.25 L367.26,216.76 L365.83,217.27 L364.40,217.78 L362.98,218.29 L361.56,218.80 L360.13,219.32 L358.71,219.84 L357.29,220.36 L355.87,220.88 L354.45,221.41 L353.03,221.94 L351.61,222.47 L350.19,223.01 L348.78,223.55 L347.36,224.09 L345.95,224.63 L344.54,225.18 L343.13,225.73 L341.72,226.28 L340.31,226.84 L338.91,227.40 L337.51,227.97 L336.11,228.54 L334.71,229.11 L333.31,229.68 L331.91,230.26 L330.52,230.85 L329.13,231.44 L327.74,232.03 L326.35,232.63 L324.97,233.23 L323.59,233.83 L322.21,234.44 L320.83,235.06 L319.46,235.68 L318.09,236.30 L316.72,236.93 L315.35,237.57 L313.99,238.21 L312.63,238.85 L311.27,239.50 L309.92,240.16 L308.57,240.82 L307.22,241.48 L305.88,242.15 L304.54,242.83 L303.20,243.51 L301.87,244.20 L300.54,244.90 L299.21,245.59 L297.89,246.30 L296.57,247.01 L295.26,247.73 L293.95,248.45 L292.64,249.18 L291.34,249.92 L290.04,250.66 L288.74,251.40 L287.45,252.15 L286.17,252.91 L284.89,253.68 L283.61,254.45 L282.34,255.23 L281.08,256.01 L279.81,256.80 L278.56,257.59 L277.31,258.39 L276.06,259.20 L274.82,260.02 L273.58,260.84 L272.35,261.66 L271.13,262.50 L269.91,263.34 L268.69,264.18 L267.49,265.04 L266.28,265.89 L265.09,266.76 L263.90,267.63 L262.71,268.51 L261.53,269.40 L260.36,270.29 L259.19,271.19 L258.03,272.09 L256.88,273.00 L255.73,273.92 L254.59,274.85 L253.46,275.78 L252.33,276.72 L251.21,277.67 L250.09,278.62 L248.98,279.57 L247.88,280.54 L246.77,281.50 L245.67,282.47 L244.57,283.45 L243.48,284.43 L242.38,285.41 L241.29,286.39 L240.20,287.38 L239.11,288.37 L238.01,289.36 L236.92,290.35 L235.82,291.34 L234.73,292.33 L233.63,293.33 L232.52,294.32 L231.42,295.31 L230.30,296.30 L229.19,297.29 L228.07,298.28 L226.94,299.26 L225.81,300.24 L224.67,301.22 L223.52,302.20 L222.36,303.17 L221.20,304.14 L220.03,305.10 L218.85,306.06 L217.65,307.02 L216.45,307.96 L215.24,308.91 L214.01,309.84 L212.78,310.77 L211.53,311.69 L210.26,312.60 L208.99,313.51 L207.70,314.41 L206.39,315.29 L205.08,316.17 L203.75,317.04 L202.41,317.89 L201.05,318.74 L199.69,319.56 L198.32,320.38 L196.94,321.18 L195.55,321.96 L194.15,322.73 L192.74,323.47 L191.32,324.21 L189.90,324.92 L188.47,325.61 L187.04,326.28 L185.60,326.93 L184.15,327.55 L182.70,328.16 L181.25,328.73 L179.79,329.29 L178.33,329.82 L176.86,330.32 L175.40,330.79 L173.93,331.24 L172.47,331.65 L171.00,332.04 L169.53,332.40 L168.06,332.72 L166.60,333.01 L165.13,333.27 L163.67,333.50 L162.21,333.69 L160.76,333.84 L159.31,333.96 L157.86,334.04 L156.41,334.09 L154.98,334.09 L153.54,334.05 L152.12,333.98 L150.70,333.86 L149.29,333.70 L147.89,333.50 L146.52,333.23 L145.20,332.89 L143.96,332.45 L142.80,331.90 L141.75,331.23 L140.84,330.43 L140.07,329.46 L139.44,328.35 L138.95,327.12 L138.58,325.78 L138.31,324.35 L138.13,322.86 L138.02,321.32 L137.98,319.75 L137.98,318.18 Z" fill="none" stroke="#1a1a1a" stroke-width="1.5"/>
<path d="M506.18,119.34 L507.75,119.32 L509.36,119.53 L510.93,119.98 L512.36,120.66 L513.54,121.59 L514.41,122.76 L514.98,124.14 L515.31,125.65 L515.47,127.26 L515.51,128.88 L515.51,130.47 L515.47,132.02 L515.41,133.55 L515.33,135.05 L515.24,136.53 L515.15,138.01 L515.05,139.50 L514.96,140.99 L514.86,142.48 L514.77,143.97 L514.67,145.47 L514.57,146.97 L514.46,148.47 L514.35,149.98 L514.24,151.48 L514.12,152.99 L513.99,154.50 L513.86,156.00 L513.72,157.51 L513.58,159.02 L513.42,160.52 L513.26,162.02 L513.08,163.53 L512.90,165.02 L512.70,166.52 L512.50,168.02 L512.28,169.51 L512.06,171.00 L511.83,172.49 L511.59,173.97 L511.34,175.46 L511.08,176.94 L510.81,178.42 L510.54,179.90 L510.26,181.38 L509.97,182.86 L509.67,184.33 L509.37,185.81 L509.06,187.28 L508.74,188.75 L508.42,190.22 L508.10,191.69 L507.76,193.16 L507.43,194.62 L507.08,196.09 L506.73,197.55 L506.38,199.02 L506.03,200.48 L505.66,201.94 L505.30,203.40 L504.93,204.86 L504.56,206.32 L504.18,207.77 L503.81,209.23 L503.43,210.69 L503.04,212.14 L502.66,213.60 L502.27,215.06 L501.89,216.51 L501.50,217.96 L501.10,219.42 L500.71,220.87 L500.32,222.33 L499.93,223.78 L499.54,225.23 L499.14,226.69 L498.75,228.14 L498.36,229.59 L497.97,231.05 L497.58,232.50 L497.19,233.95 L496.80,235.41 L496.42,236.86 L496.04,238.32 L495.66,239.77 L495.28,241.23 L494.90,242.68 L494.53,244.14 L494.16,245.60 L493.79,247.05 L493.43,248.51 L493.06,249.97 L492.70,251.43 L492.33,252.88 L491.97,254.34 L491.60,255.80 L491.23,257.25 L490.85,258.71 L490.48,260.16 L490.09,261.62 L489.71,263.07 L489.32,264.52 L488.92,265.97 L488.52,267.42 L488.10,268.86 L487.69,270.31 L487.26,271.75 L486.82,273.19 L486.38,274.63 L485.92,276.06 L485.46,277.50 L484.98,278.93 L484.49,280.35 L483.98,281.78 L483.47,283.20 L482.94,284.62 L482.39,286.04 L481.84,287.45 L481.26,288.86 L480.67,290.26 L480.06,291.66 L479.44,293.06 L478.79,294.45 L478.12,295.82 L477.43,297.18 L476.71,298.52 L475.96,299.83 L475.18,301.11 L474.37,302.37 L473.52,303.58 L472.64,304.76 L471.72,305.90 L470.75,306.99 L469.74,308.03 L468.69,309.01 L467.59,309.94 L466.43,310.80 L465.23,311.60 L463.97,312.33 L462.67,313.00 L461.32,313.61 L459.93,314.16 L458.50,314.66 L457.04,315.11 L455.55,315.52 L454.04,315.89 L452.51,316.22 L450.96,316.52 L449.39,316.79 L447.82,317.04 L446.24,317.26 L444.66,317.47 L443.08,317.66 L441.51,317.83 L439.95,317.97 L438.40,318.08 L436.87,318.14 L435.36,318.15 L433.88,318.11 L432.42,318.00 L431.00,317.81 L429.60,317.55 L428.25,317.20 L426.94,316.75 L425.68,316.21 L424.47,315.55 L423.30,314.78 L422.19,313.91 L421.12,312.95 L420.09,311.90 L419.11,310.77 L418.18,309.56 L417.28,308.29 L416.42,306.95 L415.60,305.57 L414.82,304.13 L414.06,302.66 L413.35,301.16 L412.69,299.63 L412.09,298.09 L411.56,296.55 L411.12,295.02 L410.78,293.51 L410.54,292.02 L410.43,290.57 L410.45,289.17 L410.62,287.83 L410.95,286.55 L411.44,285.35 L412.10,284.23 L412.91,283.17 L413.84,282.18 L414.89,281.23 L416.04,280.32 L417.26,279.45 L418.54,278.60 L419.86,277.76 L421.21,276.93 L422.57,276.09 L423.91,275.25 L425.23,274.38 L426.52,273.49 L427.79,272.58 L429.03,271.66 L430.24,270.71 L431.43,269.74 L432.60,268.76 L433.74,267.75 L434.86,266.73 L435.95,265.69 L437.02,264.64 L438.07,263.57 L439.10,262.48 L440.11,261.38 L441.10,260.26 L442.06,259.12 L443.01,257.97 L443.94,256.81 L444.85,255.64 L445.74,254.45 L446.61,253.24 L447.47,252.03 L448.31,250.80 L449.13,249.56 L449.94,248.31 L450.73,247.05 L451.51,245.78 L452.27,244.49 L453.02,243.20 L453.75,241.90 L454.47,240.59 L455.18,239.27 L455.88,237.95 L456.57,236.61 L457.24,235.27 L457.91,233.92 L458.56,232.56 L459.21,231.20 L459.84,229.84 L460.47,228.46 L461.09,227.09 L461.70,225.70 L462.30,224.32 L462.90,222.93 L463.49,221.53 L464.08,220.14 L464.66,218.74 L465.23,217.34 L465.80,215.94 L466.37,214.53 L466.93,213.13 L467.49,211.72 L468.04,210.31 L468.59,208.90 L469.13,207.49 L469.67,206.07 L470.21,204.66 L470.75,203.24 L471.28,201.83 L471.80,200.41 L472.33,198.99 L472.85,197.57 L473.36,196.15 L473.88,194.73 L474.39,193.31 L474.89,191.89 L475.40,190.46 L475.90,189.04 L476.40,187.62 L476.90,186.20 L477.39,184.77 L477.88,183.35 L478.37,181.93 L478.86,180.51 L479.35,179.08 L479.83,177.66 L480.31,176.24 L480.79,174.82 L481.27,173.40 L481.75,171.98 L482.22,170.56 L482.70,169.15 L483.17,167.73 L483.64,166.31 L484.11,164.90 L484.58,163.49 L485.05,162.07 L485.52,160.66 L485.98,159.25 L486.45,157.85 L486.92,156.44 L487.38,155.03 L487.85,153.63 L488.32,152.22 L488.79,150.81 L489.26,149.40 L489.73,147.98 L490.21,146.56 L490.69,145.13 L491.18,143.69 L491.67,142.25 L492.17,140.80 L492.67,139.34 L493.18,137.87 L493.69,136.39 L494.22,134.90 L494.75,133.39 L495.29,131.87 L495.85,130.36 L496.44,128.88 L497.06,127.43 L497.74,126.05 L498.48,124.74 L499.29,123.54 L500.18,122.44 L501.16,121.48 L502.24,120.68 L503.43,120.04 L504.74,119.59 L506.18,119.34 Z" fill="#fff" stroke="none"/>
<path d="M421.0,288.3L420.0,289.2M462.6,206.0L461.4,208.3M416.6,120.4L415.0,121.2M492.5,114.3L492.9,116.6M431.7,308.6L430.9,308.9M408.7,225.8L407.1,226.1M429.3,201.5L430.6,201.6M454.9,216.2L455.8,217.1M429.9,208.9L430.4,209.6M501.6,228.5L501.1,229.6M518.4,291.0L519.9,291.6M488.8,260.6L487.1,261.0M499.8,251.6L501.1,253.3M506.5,287.4L506.5,289.5M409.7,164.3L408.3,165.3M425.6,226.6L424.2,228.4M448.1,203.7L448.1,206.2M464.9,195.2L464.9,196.0M411.1,259.1L409.0,259.2M450.3,148.4L450.3,151.4M494.2,225.3L493.0,225.9M464.3,309.4L463.9,311.1M436.4,227.3L435.6,227.4M496.3,282.8L494.0,283.6M498.2,220.5L497.9,222.2M411.6,292.7L411.3,294.0M462.7,213.7L463.4,215.1M467.2,242.0L466.6,243.7M407.3,161.5L409.1,162.6M505.1,277.9L503.0,279.5M434.6,287.1L434.1,288.0M407.4,117.5L406.4,118.5M417.4,242.7L417.8,243.5M422.8,222.8L424.0,223.5M486.3,207.4L487.3,209.0M407.6,193.7L407.9,194.8M417.5,298.8L417.5,300.1M474.2,282.5L475.1,282.5M420.8,261.8L422.9,262.9M481.9,225.7L484.1,227.6M495.9,220.2L497.6,221.6M449.8,232.1L451.0,234.0M413.1,176.1L410.4,176.4M439.4,289.8L441.0,292.2M490.3,200.0L490.8,200.6M507.3,122.0L504.8,123.6M471.9,149.6L469.2,150.8M485.7,218.6L486.3,220.0M428.5,252.6L428.8,253.8M416.4,250.8L417.6,252.3M442.8,293.6L442.0,293.8M429.4,182.1L426.8,182.2M444.7,157.5L443.3,159.8M513.3,185.1L511.1,185.9M459.8,316.2L461.6,317.8M415.3,149.6L414.1,150.0M493.0,237.7L491.6,238.4M445.1,174.3L443.2,175.1M513.8,296.5L515.7,297.3M415.7,122.7L418.3,123.3M495.1,283.9L496.1,285.8M495.1,191.9L494.8,193.1M415.4,169.3L413.4,170.0M510.6,207.9L512.2,209.8M500.4,117.1L499.9,118.0M417.6,296.4L418.9,296.5M518.1,201.1L519.2,201.5M431.4,267.1L434.1,268.0M449.2,313.7L447.8,314.1M433.1,212.4L435.2,213.1M410.3,117.1L408.8,117.2M473.3,206.8L473.9,207.6M510.6,313.8L509.5,313.9M430.7,241.6L428.8,241.7M483.5,250.0L484.8,251.4M439.7,165.3L441.0,165.7M518.6,205.8L517.6,207.8M512.8,194.4L513.6,195.7M442.1,288.4L440.7,288.9M443.7,225.5L443.2,227.6M432.8,118.8L433.5,119.5M467.3,129.3L469.5,129.8M438.4,276.0L438.5,278.7M423.1,217.5L422.3,218.1M515.3,149.6L513.0,151.5M498.6,180.2L500.4,180.9M511.3,175.0L510.2,175.3M508.9,120.3L510.5,122.7M498.5,300.4L496.4,301.6M484.2,151.0L484.4,152.1M486.9,251.6L487.5,252.2M515.9,279.7L515.6,281.7M502.7,207.2L503.1,208.7M435.0,119.2L434.3,120.8M470.4,127.3L470.9,128.3M420.1,167.7L418.7,168.5M450.8,240.3L451.4,240.8M466.2,216.9L465.4,218.5M483.3,264.3L484.6,265.6M459.8,160.2L460.3,162.1M508.6,302.3L510.0,304.0M410.6,128.3L410.5,131.0M424.0,271.8L422.6,272.3M484.2,288.0L485.1,290.1M490.9,236.3L488.4,237.5M514.8,231.7L516.0,232.5M430.4,231.4L429.7,232.1M482.9,261.2L483.8,262.9M422.5,264.4L425.4,264.8M497.0,242.8L498.9,244.9M516.3,142.7L514.3,144.4M480.6,257.2L481.1,260.0M517.4,192.9L516.0,193.9M422.7,181.2L425.2,182.3M515.6,138.6L515.1,140.2M417.7,174.7L419.5,176.4M405.4,153.5L405.5,154.3M477.7,238.8L476.6,239.5M437.1,225.4L438.4,227.0M434.9,254.3L432.8,255.9M516.9,225.5L517.0,228.1M493.2,231.3L493.7,232.6M416.3,280.1L418.6,281.0M468.8,311.8L466.6,313.8M420.9,216.9L420.5,218.3M462.9,187.7L462.8,188.5M455.4,206.5L456.3,207.8M495.0,254.0L495.1,256.2M447.7,156.8L449.1,156.8M474.6,295.2L473.0,296.2M519.2,209.2L517.8,210.0M490.3,317.0L491.0,317.9M476.1,223.5L476.5,224.2M449.4,201.0L450.1,203.6M473.4,265.0L471.0,265.8M462.1,266.9L461.2,268.9M477.8,197.4L477.0,199.4M513.9,274.8L511.7,276.0M498.4,238.5L499.1,239.7M486.5,293.6L486.3,294.7M500.7,213.9L500.8,214.8M463.5,266.9L463.9,268.4M480.6,117.6L480.5,120.5M485.0,196.5L483.8,198.3M429.7,157.3L428.4,157.8M413.7,284.5L413.6,286.1M462.9,265.5L464.8,266.6M486.3,281.3L487.8,282.9M430.6,229.4L432.8,230.7M503.6,181.6L505.8,183.5M484.9,287.8L487.7,288.1M476.3,178.7L476.8,181.1M495.5,153.4L495.1,154.5M518.1,205.6L515.7,206.3M474.8,168.2L474.7,169.3M420.4,260.6L421.4,262.8M433.1,261.7L432.2,262.8M417.2,195.9L417.2,196.9M426.9,125.0L426.1,127.7M430.7,121.1L429.1,123.2M515.2,239.5L516.5,241.9M417.8,256.7L419.4,257.2M461.4,192.1L462.5,192.8M499.5,209.2L499.2,210.4M487.6,181.3L486.8,184.0M520.4,123.7L518.3,125.3M442.1,192.2L441.4,194.9M451.4,295.0L450.6,295.8M509.1,117.6L511.1,118.6M410.7,192.4L412.4,193.2M501.1,300.7L502.1,300.8M501.3,123.4L502.0,124.2M416.0,119.6L415.0,121.8M484.4,287.6L483.6,289.1M477.9,313.2L477.3,314.4M412.1,306.0L411.7,307.5M474.6,229.4L474.6,230.3M444.5,198.8L446.7,200.4M454.5,249.8L453.0,251.7M486.9,268.2L489.0,270.3M423.6,302.7L421.2,303.9M411.8,133.2L410.3,134.2M446.6,316.7L448.6,317.0M455.6,140.2L456.4,142.4M506.5,119.5L506.4,120.5M496.2,132.5L497.9,132.7M488.1,178.7L490.4,179.7M497.3,289.7L498.3,291.2M432.8,228.6L433.6,229.9M495.3,310.5L495.0,311.5M481.2,206.9L478.9,207.0M501.2,257.4L500.8,260.1M499.9,174.3L501.3,175.1M464.4,134.0L465.4,135.9M410.4,281.4L409.7,282.7M438.7,186.2L439.9,188.3M461.4,222.2L463.9,223.5M441.0,181.8L443.9,182.5M461.6,301.8L458.7,302.5M500.0,304.4L497.6,305.0M420.8,220.9L420.1,223.8M495.7,258.5L494.6,259.7M513.1,246.0L513.6,247.8M517.2,223.8L518.2,224.4M484.6,230.2L483.5,230.5M451.8,264.2L452.8,264.3M467.1,169.2L468.4,169.7M477.2,222.8L478.2,223.0M501.7,246.2L504.0,247.6M408.6,189.9L406.5,191.0M438.0,296.4L437.2,299.0M508.2,201.4L507.1,203.1M514.5,277.6L512.8,279.6M518.8,166.9L520.8,168.3M493.6,219.6L493.6,221.3M506.6,277.8L506.4,278.7M502.3,208.6L503.5,209.4M483.8,115.9L485.2,116.4M508.0,268.0L506.0,268.2M470.9,227.0L470.7,229.0M498.8,309.4L499.4,311.5M440.4,175.8L440.4,177.9M467.3,314.7L469.2,315.7M519.5,265.1L519.2,266.7M452.3,306.6L450.2,307.4M509.1,304.3L507.6,305.0M457.9,277.0L458.9,279.3M460.3,183.5L460.4,184.5M445.2,200.1L446.4,200.1M435.1,290.2L434.7,291.6M519.8,166.7L519.7,169.1M485.2,203.3L483.8,204.5M488.5,215.6L486.1,215.8M416.2,141.5L414.9,141.6M407.9,165.5L408.1,168.4M451.3,263.1L450.5,263.6M475.5,318.2L475.2,320.1M445.4,308.9L444.4,309.0M468.8,200.6L468.3,201.5M435.4,170.9L435.6,173.4M503.9,275.8L503.4,276.6M449.2,251.3L450.4,252.8M509.5,138.6L508.6,139.0M448.6,300.0L450.2,301.2M453.6,297.0L452.2,297.0M461.7,297.8L461.5,299.1M492.3,183.7L492.4,184.5M520.2,249.4L517.3,250.1M435.5,224.6L436.0,227.0M501.1,161.0L502.6,162.7M451.5,141.1L453.2,142.3M473.9,310.8L473.7,312.9M421.4,198.9L422.9,200.7M435.3,158.1L436.1,159.8M442.8,238.4L445.1,239.9M484.1,224.5L485.6,224.8M485.5,246.5L483.2,248.0M441.0,215.7L441.5,216.7M420.2,167.3L422.1,167.8M486.2,229.9L485.5,231.0M428.7,231.0L427.1,231.7M404.9,118.2L406.1,120.0M415.5,159.8L413.9,162.3M444.2,237.8L444.2,238.7M442.1,142.7L443.8,144.5M482.2,123.1L484.5,123.7M416.6,179.6L417.2,180.3M408.1,142.1L409.0,144.9M478.8,164.0L478.0,165.2M465.0,180.8L463.5,181.1M498.3,245.9L496.5,246.9M505.7,197.1L504.5,199.0M465.8,229.9L465.6,231.5M508.4,244.3L508.2,245.2M462.8,150.4L464.2,151.5M467.1,165.6L468.4,167.1M458.7,197.4L460.2,197.9M480.4,225.2L480.1,227.9M487.4,255.3L488.9,255.4M484.0,146.8L482.9,147.1M507.3,158.7L504.9,160.0M442.4,296.5L444.7,297.8M447.9,204.8L449.9,205.5M436.9,251.1L435.2,252.3M407.0,310.0L404.9,310.5M449.5,229.9L447.8,230.5M494.3,236.3L495.0,239.1M451.1,239.0L452.9,239.3M408.9,259.3L409.7,259.3M417.8,142.8L417.8,144.4M437.2,316.3L435.1,317.0M496.3,282.1L498.2,283.9M432.3,229.8L432.8,230.8M493.6,301.7L495.1,304.0M446.1,249.8L443.6,249.8M411.1,203.5L411.7,204.8M499.5,204.5L498.2,206.3M465.4,125.3L464.0,127.7M424.8,246.0L424.8,247.5M485.3,314.8L488.1,315.0M448.1,285.3L450.1,286.6M417.6,183.7L415.3,183.9M495.1,208.6L495.3,210.5M493.2,262.8L494.6,263.8M468.6,231.8L466.0,232.4M421.8,192.0L422.6,192.2M414.4,151.7L412.7,153.3M495.5,173.5L498.1,174.8M499.2,309.0L500.8,309.1M478.8,265.6L476.9,266.2M451.1,115.2L448.7,116.9M509.0,250.2L509.6,251.3M494.7,306.7L493.5,306.8M472.0,218.9L472.6,221.4M513.3,262.6L511.9,264.5M479.3,224.2L481.1,225.9M418.3,246.0L419.0,247.9M479.4,213.1L478.1,213.2M406.0,310.2L406.8,311.4M454.0,236.9L451.6,237.0M441.5,223.7L441.8,225.6M452.8,148.6L453.3,150.1M427.8,282.0L428.3,283.0M471.0,287.5L469.4,288.9M488.5,183.6L489.7,184.2M445.1,171.7L445.2,172.8M418.9,166.1L421.0,167.6M466.5,154.3L467.1,157.0M471.2,228.0L471.6,229.1M477.3,130.5L476.6,131.1M491.4,192.6L490.3,194.3M419.2,225.2L420.5,225.5M449.6,172.3L448.2,174.9M445.1,286.1L446.9,287.7M443.7,224.4L446.2,225.1M428.2,209.0L429.8,211.0M473.6,240.6L472.7,241.6M411.0,283.8L412.4,285.9M513.7,243.6L516.3,244.4M477.1,164.8L478.6,166.0M419.8,299.7L418.2,301.8M448.1,303.8L450.2,304.7M433.7,115.5L434.9,116.0M492.7,191.4L492.8,193.6M436.5,244.7L435.1,247.1M464.1,290.2L461.6,290.5M452.2,170.4L454.7,171.2M419.8,229.3L420.0,230.1M429.8,282.3L429.5,285.1M509.7,133.9L509.2,134.7M454.7,205.4L452.6,205.7M426.9,218.9L426.8,220.1M447.6,294.8L445.1,295.0M412.2,299.4L412.6,302.0M426.0,145.1L424.6,145.5M411.3,217.7L408.6,217.8M451.6,317.8L449.5,319.4M480.2,195.6L478.4,196.1M513.4,227.9L511.6,228.5M453.8,235.2L454.4,236.2M471.9,288.4L473.6,290.5M495.1,272.6L495.9,275.5M495.0,232.6L496.9,233.4M406.3,299.3L407.0,300.7M468.6,244.8L468.1,246.6M477.8,287.7L478.1,289.6M497.5,115.3L498.9,116.1M429.1,298.4L430.1,298.9M442.7,218.5L440.2,220.1M502.5,239.8L503.4,239.9M476.5,282.0L478.5,284.2M468.5,232.2L468.1,233.1M424.3,306.6L424.9,307.3M437.1,263.4L437.9,264.3M437.4,212.9L436.4,214.0M505.9,314.8L505.0,315.3M441.8,304.6L440.8,305.0M456.2,189.3L455.6,189.9M441.7,268.6L440.9,268.9M473.5,250.7L471.9,251.4M516.4,155.3L517.4,155.7M472.1,139.6L472.9,140.6M410.6,311.0L412.1,313.6M488.6,160.0L487.8,160.1M517.2,120.9L518.6,122.3M404.8,271.4L407.3,272.1M408.5,222.8L409.6,223.7M461.0,190.1L461.8,192.2M427.9,151.6L427.1,152.8M512.3,202.0L512.3,202.8M407.8,135.4L406.9,137.5M515.0,203.0L514.0,204.3M414.3,200.1L412.8,202.2M514.7,284.6L514.3,286.6M463.2,212.0L462.1,213.8M503.5,206.0L503.7,208.6M483.0,221.3L482.4,223.8M474.3,167.2L475.4,169.0M410.9,208.6L409.7,209.0M457.2,258.1L454.9,258.7M476.8,192.6L477.2,194.8M444.8,275.9L447.2,275.9M489.6,177.8L491.1,177.9M473.3,276.1L472.2,276.6M415.5,139.5L413.3,139.6M420.8,256.5L418.7,256.7M432.1,311.8L431.4,312.8M493.3,217.6L492.9,219.1M438.9,200.3L438.7,202.1M503.5,129.4L505.8,131.0M475.2,241.0L474.6,242.2M449.1,157.4L451.7,158.8M489.4,295.2L491.7,295.2M440.6,216.7L440.1,217.4M448.5,228.2L446.7,228.9M441.7,238.1L441.3,239.5M467.3,171.6L468.8,171.6M414.9,214.5L414.9,217.2M491.7,268.6L490.3,268.6M446.9,162.0L448.8,162.6M465.2,141.2L462.4,141.9M411.7,115.4L414.0,115.9M502.0,128.5L504.0,128.6M442.6,118.8L443.9,118.9M428.1,174.9L427.9,176.2M432.5,158.0L431.2,158.4M468.4,207.1L469.3,208.5M407.4,151.8L406.3,154.1M430.6,151.0L429.6,151.3M495.2,294.4L497.6,295.6M421.8,123.2L422.7,124.4M473.7,205.0L471.9,206.4M419.1,156.1L418.3,156.9M514.0,280.9L515.1,281.8M433.7,201.4L434.3,202.0M433.5,154.1L434.4,155.7M506.0,248.9L505.1,251.5M448.5,201.4L450.4,203.3M506.1,301.2L505.7,302.2M414.2,278.1L412.4,278.8M511.5,305.2L510.3,306.4M457.2,186.3L457.8,188.0M406.1,140.6L407.9,141.6M504.4,260.4L506.0,261.2M476.1,142.4L478.2,143.0M430.9,246.5L433.2,247.9M440.8,201.5L440.4,204.2M510.6,287.8L510.1,288.6M427.7,224.5L425.3,224.7M428.0,187.9L426.1,188.1M505.9,290.2L504.2,291.6M480.2,184.6L482.9,185.7M409.3,169.2L408.2,171.9M429.8,165.3L428.5,166.0M449.9,188.5L452.8,189.0M484.7,116.2L485.8,116.6M446.8,297.2L448.0,297.8M441.8,219.4L439.9,220.0M508.6,224.8L509.2,227.4M471.8,211.6L471.8,213.2M453.8,129.5L455.8,130.9M419.7,157.3L421.1,158.1M411.1,187.8L410.3,189.9M505.0,132.3L504.5,133.4M445.4,232.3L443.4,233.5M517.8,117.9L518.8,119.5M408.8,124.8L409.6,126.7M419.9,128.0L421.2,130.0M470.7,318.0L469.8,320.6M470.8,213.1L471.0,214.1M412.6,249.8L411.9,250.2M425.0,181.0L426.5,183.2M434.0,176.3L434.1,179.2M438.0,244.8L439.7,245.0M511.1,158.6L512.1,160.6M470.4,232.0L469.7,234.2M441.8,186.2L442.4,188.0M469.9,293.3L470.5,295.0M499.9,313.2L501.6,314.9M432.5,266.8L434.4,267.0M471.8,258.1L469.3,258.7M468.7,216.9L470.8,217.0M468.7,266.6L470.6,267.7M411.7,263.3L410.2,264.3M483.8,250.4L484.4,251.2M491.4,187.8L492.9,188.6M501.1,309.2L500.5,312.0M424.3,215.5L425.6,215.6M506.3,126.3L505.4,128.0M517.9,318.4L519.2,318.9M517.8,181.9L520.2,183.4M476.1,177.3L475.8,179.0M456.7,227.6L458.6,228.7M515.4,235.9L514.3,236.8M423.3,116.3L422.2,116.4M449.4,248.4L448.0,250.0M455.3,280.8L455.8,283.4M410.4,262.8L412.0,263.3M455.8,151.0L456.2,153.6M410.1,154.7L408.3,154.8M450.3,301.7L449.4,302.5M474.5,151.3L473.0,152.6M497.5,128.2L496.2,128.5M503.2,205.4L502.2,205.7M412.1,210.8L410.3,211.2M463.5,147.8L463.2,149.5M507.1,266.3L507.1,267.5M422.0,313.5L421.6,314.7M498.1,158.0L498.5,160.7M416.3,136.0L417.5,136.2M447.8,180.6L448.3,181.3M461.5,205.8L460.5,206.8M472.3,178.8L471.4,179.6M461.1,205.4L461.4,207.4M467.9,179.1L465.4,180.6M469.8,244.7L468.8,245.9M473.1,209.0L473.2,210.7M466.2,159.3L467.1,160.1M474.4,164.4L472.3,166.2M493.1,182.2L491.6,182.4M447.0,236.3L446.2,237.8M495.1,289.5L495.9,290.5M451.0,257.7L450.4,258.7M450.8,299.7L448.6,300.0M494.4,286.9L495.1,287.5M475.8,193.3L474.9,194.4M454.1,280.5L455.7,280.9M423.6,223.3L421.6,225.5M491.5,143.6L491.8,145.5M479.8,258.6L476.9,258.8M429.6,147.4L428.4,147.5M516.5,139.0L516.2,140.1M421.3,182.7L419.5,184.1M441.2,142.6L441.7,143.6M432.0,215.5L432.1,218.3M415.4,223.7L415.2,224.8M447.2,143.0L445.7,143.5M412.6,211.0L412.3,213.8M488.1,157.1L487.3,157.4M485.7,123.3L484.7,124.0M497.1,281.4L496.3,282.1M452.0,135.3L450.1,137.6M465.4,248.2L464.8,249.1M448.3,185.9L447.1,187.1M446.9,227.3L447.7,227.8M432.8,118.5L431.9,120.1M474.6,231.2L477.2,231.6M498.9,115.3L499.4,117.8M453.4,290.3L452.1,292.2M509.3,274.3L509.0,275.1M457.3,255.2L457.2,257.2M444.4,286.7L446.0,288.2M454.7,145.5L455.8,145.5M437.7,211.8L438.6,211.9M496.4,315.1L496.8,316.8M474.4,133.7L474.2,136.0M513.7,246.0L513.5,247.7M509.8,221.1L509.9,223.5M455.7,127.5L455.0,130.1M446.2,134.3L448.8,135.2M416.8,248.8L418.7,249.4M509.2,162.2L510.4,163.9M470.8,229.5L471.1,230.3M473.8,170.9L473.1,172.6M435.1,317.9L436.7,320.4M459.5,224.0L460.3,224.9M486.4,207.8L486.0,209.0M464.5,249.3L462.8,250.8M452.9,254.6L452.3,256.4M476.9,177.7L478.0,177.9M517.4,297.7L516.3,298.4M501.6,276.1L501.4,277.6M418.6,319.5L415.9,319.6M457.2,264.3L455.3,264.9M419.5,313.9L419.2,316.4M476.5,127.9L476.6,128.7M436.2,311.3L435.0,313.0M418.2,254.4L417.5,256.5M484.0,304.2L484.3,306.3M466.2,235.2L465.6,236.3M410.4,138.7L412.4,139.0M439.6,275.6L440.6,276.1M504.0,132.3L505.1,134.4M468.8,169.3L470.7,170.1M432.6,289.4L434.5,291.6M406.9,239.5L408.1,241.0M454.2,280.2L456.2,281.6M409.7,245.1L408.2,246.0M502.0,186.5L503.3,189.0M517.8,275.8L520.0,277.7M446.7,292.3L447.4,293.4M435.6,256.6L433.7,256.7M418.5,255.0L416.1,255.8M406.1,178.2L404.3,179.8M520.5,298.4L518.6,299.8M449.4,121.6L448.1,122.8M505.5,141.5L503.5,142.5M506.7,257.8L507.1,259.7M416.5,164.1L416.2,165.3M446.6,245.5L445.8,248.2M454.5,227.3L455.1,229.7M476.5,308.6L477.4,309.0M438.9,240.8L438.4,241.9M435.3,236.1L437.1,238.0M416.2,274.9L418.3,276.0M495.3,308.3L494.5,308.5M481.7,301.0L480.3,302.2M492.0,172.7L490.6,173.7M516.8,120.2L516.5,121.2M493.1,312.6L493.1,315.3M432.5,120.3L431.1,121.3M415.1,252.8L414.2,253.1M474.8,186.2L475.7,186.3M409.7,177.1L410.8,178.7M476.9,289.1L475.9,289.6M476.4,294.0L477.9,295.5M519.1,244.5L518.2,245.6M518.8,284.8L519.5,286.1M406.7,213.1L404.4,214.1M421.4,164.2L422.6,164.9M428.5,147.4L428.1,150.2M502.5,241.2L504.0,243.5M428.3,122.1L430.3,123.7M484.7,178.0L486.4,179.4M463.7,277.3L463.9,278.3M413.2,161.2L413.0,163.5M469.8,116.9L468.1,117.1M466.7,154.0L467.6,154.8M474.2,300.7L475.3,301.9M436.8,120.9L439.3,121.0M516.5,123.5L518.3,123.9M440.5,165.3L439.4,165.8M427.8,299.7L427.0,301.8M482.3,120.3L481.4,120.3M432.4,211.7L429.9,213.1M405.5,143.3L406.6,143.4M510.2,131.8L510.0,133.0M405.2,171.6L406.6,173.1M505.6,223.0L505.4,224.4M425.2,211.9L426.1,214.6M428.2,120.1L429.7,120.4M431.3,195.9L429.1,196.8M473.7,285.4L472.8,285.7M484.0,141.1L484.5,142.7M435.3,123.4L437.2,124.8M514.1,301.4L516.1,301.5M427.0,221.2L426.9,222.4M413.8,213.3L416.4,213.7M508.3,117.3L506.1,118.8M409.5,234.8L409.6,236.0M500.3,230.3L498.0,231.9M517.0,250.7L516.1,251.0M443.9,211.5L443.8,213.1M499.7,234.0L498.2,234.8M514.3,187.9L512.3,188.0M447.3,241.9L449.5,242.6M473.1,279.9L474.8,280.3M473.4,126.5L471.4,128.4M477.8,271.5L476.1,271.8M464.2,296.5L463.5,297.7M473.3,272.1L472.3,272.6M425.0,255.0L423.5,256.9M461.9,193.6L460.6,193.7M436.9,119.8L439.0,120.4M481.6,159.4L480.8,160.3M448.5,245.0L447.1,246.1M498.6,210.6L497.3,212.9M470.1,230.2L469.3,230.4M406.6,121.6L407.7,123.3M474.7,254.6L477.4,254.8M431.7,312.1L432.9,314.5M487.0,118.9L486.9,120.5M519.0,162.0L519.4,163.1M405.8,224.8L405.3,225.9M502.4,160.3L500.2,160.8M517.6,204.2L515.8,205.3M487.2,198.5L487.2,199.9M442.5,304.4L445.0,305.1M491.0,146.9L491.5,149.5M463.5,218.5L463.5,219.7M518.4,267.8L519.4,269.0M486.5,292.7L486.3,294.1M447.4,226.3L445.2,227.1M431.3,118.5L430.6,119.7M507.1,147.9L504.5,147.9M434.5,117.9L433.6,118.5M422.1,193.5L422.9,194.1M468.5,248.9L467.8,249.5M411.3,211.4L410.5,212.3M474.8,137.2L472.2,138.1M511.4,194.4L513.9,195.1M455.5,185.5L456.0,187.8M488.3,203.9L489.1,204.8M411.5,312.2L410.6,312.3M473.5,313.1L472.8,315.9M422.2,262.2L421.2,262.7M427.7,308.3L429.3,309.8M510.4,260.3L509.3,261.3M502.4,142.5L503.0,144.2M485.2,121.8L486.7,122.2M422.7,300.4L423.1,302.5M455.4,290.8L452.7,291.5M415.4,239.3L413.3,241.1M468.6,211.1L469.3,211.5M408.3,171.5L407.2,172.8M468.7,170.5L465.9,170.7M434.6,193.5L436.2,194.1M432.1,263.0L433.4,264.9M408.4,259.2L407.8,260.5M494.8,291.8L492.6,292.5M456.0,234.4L455.0,235.4M507.3,275.3L505.9,277.3M410.7,280.5L411.1,282.8M480.7,200.8L478.9,202.8M520.6,118.3L518.2,118.9M473.1,270.5L473.9,272.0M410.5,304.8L408.9,305.9M474.6,283.4L476.3,284.4M488.8,234.4L487.5,234.5M482.6,273.4L483.6,276.1M451.7,144.6L453.1,145.4M519.6,302.2L517.4,302.9M463.4,245.3L462.4,248.1M451.0,194.4L449.3,196.3M490.3,147.1L489.7,148.4M436.0,167.4L437.1,167.4M480.9,277.7L483.6,278.6M458.1,275.3L459.1,275.5M497.6,134.7L499.8,134.9M410.5,199.8L409.6,200.4M503.0,301.5L500.8,301.7M499.8,146.3L499.1,149.0M505.3,149.7L503.8,150.6M464.3,277.8L463.6,279.1M503.8,305.6L503.1,306.1M406.3,232.8L407.2,233.1M504.7,124.2L505.7,125.3M512.9,308.5L511.5,309.6M417.6,311.9L419.3,313.3M495.9,219.0L493.2,220.0M446.3,260.2L447.9,260.7M481.8,170.2L482.8,172.5M428.7,303.8L429.9,304.4M476.4,161.8L475.0,162.5M419.4,251.1L419.9,253.2M417.3,125.1L418.5,126.6M428.5,157.4L427.3,158.0M446.2,293.6L443.7,293.6M419.9,271.4L422.4,272.1M436.6,159.4L436.9,160.5M482.3,282.6L481.1,284.8M424.2,170.5L422.9,171.2M490.3,230.9L491.5,231.5M511.3,299.5L511.1,300.3M407.9,306.5L406.0,307.9M433.7,301.0L436.0,301.5M484.6,190.6L483.6,191.3M515.3,305.6L516.0,306.9M496.7,184.2L496.1,186.4M513.2,269.0L514.2,270.2M414.2,279.6L413.1,280.2M459.0,185.6L459.6,186.3M472.3,309.2L474.4,310.5M494.7,224.4L493.1,225.2M475.5,128.5L477.4,129.4M502.8,212.0L500.9,212.4M453.5,275.3L450.8,276.0M480.3,158.2L481.4,159.9M409.7,175.8L408.6,176.7M478.8,177.0L480.2,177.6M441.1,170.8L442.7,173.1M470.6,216.4L471.6,217.5M496.2,183.1L497.7,183.8M483.3,307.4L481.6,308.3M423.3,296.5L425.4,296.8M516.8,179.2L516.7,180.7M453.2,136.2L452.4,138.4M419.3,116.6L420.4,117.7M455.0,260.6L454.9,261.5M406.1,205.3L408.3,206.6M491.0,279.3L490.6,280.4M495.7,174.1L496.5,174.5M450.5,309.8L449.3,311.7M450.1,204.0L447.3,204.8M443.3,234.9L443.4,236.1M464.5,132.7L463.1,133.7M479.2,274.0L481.3,275.9M517.4,214.2L519.6,214.7M483.6,159.3L482.5,160.2M435.4,131.3L434.5,133.6M484.6,177.3L485.1,178.0M424.8,166.9L425.5,167.4M450.9,116.6L450.9,117.4M447.9,134.3L449.9,135.4M413.9,274.1L412.8,275.9M465.4,262.5L466.7,263.6M406.8,114.8L407.3,116.9M514.6,286.7L517.4,287.2M450.1,199.7L451.0,200.2M458.0,226.1L456.0,227.1M427.6,236.8L426.5,237.5M439.2,167.8L438.1,167.9M478.3,188.4L477.1,189.9M430.2,290.8L430.1,291.7M429.8,149.1L430.4,150.1M479.0,239.1L479.4,240.4M479.1,191.1L477.0,192.9M487.0,306.4L488.5,308.6M451.9,290.2L451.4,291.5M437.2,290.1L437.3,291.3M471.0,143.9L472.4,144.1M494.5,157.5L493.7,157.9M444.4,115.0L443.2,116.8M496.0,282.0L494.4,282.4M447.1,239.1L447.2,240.4M455.2,195.1L454.3,195.4M489.6,259.5L487.6,260.0M486.5,140.1L485.7,140.4M474.1,137.3L475.8,138.9M448.7,255.3L449.5,256.0M446.0,217.9L443.8,219.4M448.6,307.7L448.4,308.8M463.3,254.0L462.5,254.7M516.1,229.2L517.6,229.2M500.1,125.2L501.3,127.1M419.8,261.5L419.5,262.8M497.2,129.2L499.2,130.7M473.8,158.1L474.7,160.7M424.9,127.6L424.9,128.8M482.6,164.5L484.4,165.7M516.8,227.2L513.9,227.6M491.2,232.2L491.6,233.1M465.9,150.9L465.6,152.6M469.3,231.6L468.8,234.4M469.8,138.7L467.6,139.5M447.4,205.2L447.1,206.8M480.6,319.4L483.4,319.8M518.7,290.8L519.0,293.0M458.1,191.2L459.2,191.8M459.0,172.2L460.7,173.5M436.9,285.4L438.1,285.8M454.6,158.4L453.0,159.4M412.5,156.2L411.7,157.4M438.2,158.2L440.7,158.3M441.5,164.7L443.3,165.3M490.4,309.1L489.5,309.2M462.2,213.6L461.9,215.3M511.4,235.3L512.0,238.2M465.1,115.3L464.0,118.0M480.5,155.7L479.7,156.2M502.9,142.4L501.9,142.9M421.8,165.4L421.8,167.7M465.2,129.3L462.6,129.8M446.8,121.3L447.6,124.1M513.5,148.8L515.9,150.5M445.2,257.4L442.7,258.0M498.0,240.2L497.0,241.0M507.8,158.2L510.1,159.1M519.2,270.1L518.8,271.1M465.9,150.8L465.6,152.4M422.1,225.8L420.2,227.2M421.9,306.8L420.3,307.1M517.0,152.8L517.9,155.3M414.2,195.8L415.5,195.9M446.1,285.5L445.8,286.4M496.3,270.1L496.9,271.1M488.9,306.7L490.1,307.7M442.8,313.2L443.6,313.3M426.4,209.7L425.5,209.8M498.1,222.2L495.4,223.2M488.0,166.1L487.2,166.3M517.7,198.7L519.5,200.8M461.8,193.4L462.8,194.8M433.4,220.5L433.7,221.9M406.6,145.3L404.8,146.8M512.6,145.3L509.9,145.9M446.6,310.6L443.9,310.7M468.6,293.3L469.5,293.8M421.6,257.3L420.4,257.5M421.2,296.3L420.2,296.7M408.6,171.7L409.1,172.3M420.8,286.0L422.6,286.4M487.1,260.9L487.7,261.8M453.9,188.1L454.1,189.5M459.0,314.7L460.3,314.8M503.0,217.1L502.3,217.7M519.4,115.1L518.3,115.9M487.8,278.9L485.9,281.0M430.8,289.1L430.4,290.2M430.8,133.3L429.4,133.8M445.7,139.4L444.1,140.6M428.7,276.8L428.4,279.3M485.6,202.2L486.8,204.7M426.9,135.3L424.8,136.3M512.3,240.2L510.6,240.2M411.7,250.9L412.9,252.1M447.4,180.8L447.3,183.0M412.6,297.0L413.7,299.2M444.5,138.9L445.2,140.0M440.3,251.5L439.7,252.5M485.2,240.8L487.0,241.8M410.8,249.6L412.3,251.2M513.0,258.8L512.7,260.8M432.6,210.9L434.4,211.2M517.3,217.1L515.4,219.1M471.0,141.6L469.1,141.6M455.1,126.8L453.4,128.9M466.6,152.5L465.8,153.4M445.0,162.8L444.8,165.1M468.7,148.4L469.7,149.3M464.3,311.4L463.1,313.7M415.5,119.4L415.3,120.7M441.9,264.5L444.6,265.2M452.0,236.7L452.9,236.8M482.7,122.1L482.1,123.4M440.2,310.6L438.9,311.2M447.9,174.9L450.6,175.9M479.7,260.9L480.0,262.1M478.9,165.0L476.2,165.7M515.5,158.0L517.1,160.1M458.9,229.0L458.1,229.9M456.8,132.0L459.7,132.3M487.5,242.0L488.6,242.9M511.4,317.5L510.1,320.0M450.8,287.5L450.0,288.5M510.4,117.2L511.6,118.6M511.8,186.8L514.0,187.6M482.5,138.9L481.6,140.3M454.7,307.1L452.2,308.6M485.5,193.7L486.0,194.7M411.9,219.4L413.7,220.4M430.3,217.8L428.5,218.4M510.3,176.2L512.4,177.2M455.1,251.2L454.7,252.9M447.4,159.6L446.2,159.7M459.3,297.1L456.8,298.7M477.1,173.1L476.3,173.5M514.1,205.6L512.6,207.9M465.5,282.7L463.8,283.6M508.7,165.3L510.8,166.5M498.9,199.3L500.6,199.5M430.0,129.2L431.8,130.3M447.8,277.7L449.5,279.0M434.8,172.6L436.9,173.7M438.0,251.6L436.8,253.3M480.0,254.4L482.3,255.2M464.2,281.8L465.0,282.1M480.1,178.0L478.6,178.0M457.0,184.9L456.8,186.2M516.9,170.8L514.0,171.5M444.3,282.3L443.5,282.6M516.0,192.5L517.3,194.8M424.7,120.6L423.8,120.6M478.0,230.4L478.7,232.9M499.4,118.7L498.4,121.2M449.8,140.1L449.7,140.9M448.3,216.7L449.9,218.0M500.3,211.2L500.1,212.4M405.2,211.0L406.7,212.5M416.6,206.5L416.5,209.0M409.7,296.6L412.2,297.9M498.8,297.4L497.9,297.6M446.0,235.5L447.2,237.4M504.3,155.6L505.8,157.9M443.5,131.2L442.5,132.2M472.3,127.2L471.8,129.8M456.9,189.0L455.4,190.3M460.3,149.6L458.9,151.9M405.3,177.7L404.8,178.7M503.1,141.9L504.4,143.2M420.9,299.8L420.9,301.5M475.4,267.1L475.1,269.3M483.0,204.0L483.7,204.8M481.9,192.4L480.5,192.6M494.3,204.8L495.7,205.6M476.9,252.5L477.5,253.6M423.7,235.3L422.2,237.7M462.2,182.2L460.4,183.5M489.1,127.8L487.7,128.7M481.7,130.0L482.6,130.0M414.5,132.5L412.7,133.3M411.8,318.6L412.3,320.9M482.4,187.1L479.9,188.6M451.8,186.4L452.4,188.9M461.6,135.8L463.9,135.9M422.2,271.6L421.8,272.8M411.5,251.6L414.1,253.0M465.0,181.4L463.2,182.7M480.7,276.3L480.8,277.2M423.5,317.8L423.2,318.6M421.2,136.1L422.8,137.7M511.6,230.8L511.6,233.6M420.3,298.6L419.8,299.8M493.5,150.0L493.0,151.7M416.7,306.7L418.0,307.6M477.5,170.2L478.9,170.6M448.5,279.0L448.1,281.8M422.5,284.5L419.5,284.6M440.1,135.0L438.8,136.2M479.4,135.0L477.8,135.1M515.5,115.8L516.6,117.3M448.4,157.8L446.4,158.0M513.6,220.7L511.9,222.1M421.7,257.3L420.0,259.0M462.8,124.2L460.2,125.7M412.4,122.6L412.9,124.9M457.7,282.4L455.7,283.1M475.6,246.4L476.1,247.6M510.5,167.7L508.9,168.7M491.3,276.0L488.8,276.9M443.7,285.6L441.7,286.5M428.5,316.5L427.2,317.4M440.2,281.3L439.5,282.7M510.0,316.8L508.6,319.1M474.6,176.8L472.7,178.2M507.5,186.1L505.2,186.5M491.1,286.4L491.5,289.0M507.6,313.6L507.3,314.5M432.0,155.1L433.5,155.8M471.2,317.5L474.0,318.3M468.6,278.8L467.2,279.6M485.1,266.3L486.5,268.7M507.2,116.9L505.7,117.6M516.0,126.5L514.3,127.4M437.5,215.4L436.0,216.2M458.0,295.9L456.8,296.5M463.3,196.8L464.3,197.5M417.7,148.6L418.0,149.9M487.3,133.0L489.5,135.0M471.0,152.5L470.3,152.9M439.9,142.5L440.4,144.3M511.7,216.1L509.0,217.0M410.7,136.3L409.5,137.1M458.0,247.9L458.6,250.6M407.4,168.7L408.7,168.9M518.5,120.2L518.3,121.5M490.9,147.9L489.6,149.3M515.8,129.9L515.6,132.7M466.2,202.0L463.6,202.6M494.5,197.7L495.3,198.9M516.0,130.5L518.0,131.4M507.0,314.4L506.1,317.0M447.3,220.3L446.4,221.1M485.0,201.9L486.6,202.2M490.9,277.9L489.6,279.9M447.3,177.7L447.8,179.4M442.8,296.1L442.2,297.0M420.8,211.9L419.8,214.0M454.4,232.7L453.9,234.1M497.1,185.4L498.1,185.9M480.8,211.6L478.3,212.9M432.3,274.1L431.2,275.8M519.3,149.0L519.7,150.7M436.9,241.1L435.2,241.9M414.9,168.2L413.7,169.6M410.3,166.1L410.2,167.6M427.4,192.7L430.0,193.6M442.0,210.3L441.9,212.0M511.0,146.1L511.0,147.2M411.4,258.4L412.6,260.5M460.7,122.5L461.5,122.7M470.7,197.4L471.6,198.6M455.9,291.9L453.4,292.8M490.3,138.5L491.3,140.9M427.2,263.3L429.6,264.1M435.2,167.8L434.2,167.9M508.1,175.0L508.8,175.9M411.5,191.9L411.8,193.4M406.8,297.2L404.8,298.2M420.7,145.2L420.7,146.3M438.2,159.2L436.5,160.7M429.3,308.1L428.5,310.6M482.1,209.1L482.3,210.9M412.6,307.8L413.1,308.6M417.6,192.9L416.4,194.4M442.4,300.6L443.7,300.9M506.6,210.6L506.7,211.5M474.1,264.0L473.2,264.5M471.2,282.1L470.2,282.4M421.3,299.9L421.9,301.5M488.4,159.3L490.2,160.2M475.0,306.4L477.1,307.0M419.7,233.7L418.9,235.3M451.5,199.1L449.2,200.5M456.7,266.7L457.1,268.4M476.5,238.8L476.7,240.6M504.3,182.6L503.9,183.6M517.9,123.6L517.0,124.3M480.6,115.5L481.0,116.3M452.5,241.9L454.5,242.0M451.1,293.5L451.3,294.3M432.6,293.5L432.7,295.2M440.2,173.7L442.0,174.6M420.5,143.7L421.7,144.3M506.4,155.5L509.3,155.8M462.0,313.3L460.6,314.4M454.1,114.5L454.4,115.7M449.1,289.6L448.1,292.3M492.5,289.6L494.3,290.2M500.3,273.8L498.9,274.7M420.1,220.6L419.6,223.0M448.4,298.5L446.1,299.4M489.9,317.7L491.4,318.1M456.3,200.7L455.4,202.2M447.4,120.6L449.2,120.9M441.6,162.3L442.6,162.4M425.0,211.8L426.3,213.0M490.7,129.4L489.8,131.6M508.7,318.5L509.4,319.0M480.6,226.2L478.6,226.8M499.5,116.7L499.6,117.9M426.7,129.6L425.1,129.9M497.3,273.3L496.1,274.1M494.4,208.0L492.2,208.4M507.9,309.7L508.6,311.2M405.5,285.2L405.1,286.2M478.0,307.9L475.1,308.6M443.2,166.4L444.3,166.4M433.2,243.5L436.0,243.5M478.9,290.0L480.2,291.6M509.6,137.4L510.7,137.6M427.8,151.5L428.9,151.6M455.4,179.8L455.8,181.7M487.8,233.5L484.9,233.8M507.7,221.4L509.0,222.6M462.7,220.1L460.4,220.6M512.9,145.3L512.4,146.6M406.9,115.3L407.3,116.4M442.0,123.6L443.3,123.7M489.3,212.8L487.5,214.9M461.8,234.9L463.1,235.8M490.5,275.9L491.6,276.4M458.6,205.6L457.6,208.1M432.7,134.3L434.1,134.7M448.2,139.6L446.8,140.4M434.7,172.7L432.7,173.5M497.3,140.1L498.8,141.0M458.0,142.7L458.7,143.3M412.8,146.1L413.9,147.1M474.4,318.9L474.0,320.7M449.9,136.5L449.0,138.1M480.2,195.4L481.4,196.4M422.9,169.9L421.7,170.1M473.5,304.1L474.0,305.5M418.2,142.0L416.5,142.4M442.7,123.4L442.0,124.3M463.5,268.9L461.3,270.5M433.9,146.7L435.3,147.3M443.5,155.0L445.1,155.6M453.8,142.0L452.9,142.5" stroke="#1a1a1a" stroke-width="0.95" clip-path="url(#cnt)"/>
<path d="M506.18,119.34 L507.75,119.32 L509.36,119.53 L510.93,119.98 L512.36,120.66 L513.54,121.59 L514.41,122.76 L514.98,124.14 L515.31,125.65 L515.47,127.26 L515.51,128.88 L515.51,130.47 L515.47,132.02 L515.41,133.55 L515.33,135.05 L515.24,136.53 L515.15,138.01 L515.05,139.50 L514.96,140.99 L514.86,142.48 L514.77,143.97 L514.67,145.47 L514.57,146.97 L514.46,148.47 L514.35,149.98 L514.24,151.48 L514.12,152.99 L513.99,154.50 L513.86,156.00 L513.72,157.51 L513.58,159.02 L513.42,160.52 L513.26,162.02 L513.08,163.53 L512.90,165.02 L512.70,166.52 L512.50,168.02 L512.28,169.51 L512.06,171.00 L511.83,172.49 L511.59,173.97 L511.34,175.46 L511.08,176.94 L510.81,178.42 L510.54,179.90 L510.26,181.38 L509.97,182.86 L509.67,184.33 L509.37,185.81 L509.06,187.28 L508.74,188.75 L508.42,190.22 L508.10,191.69 L507.76,193.16 L507.43,194.62 L507.08,196.09 L506.73,197.55 L506.38,199.02 L506.03,200.48 L505.66,201.94 L505.30,203.40 L504.93,204.86 L504.56,206.32 L504.18,207.77 L503.81,209.23 L503.43,210.69 L503.04,212.14 L502.66,213.60 L502.27,215.06 L501.89,216.51 L501.50,217.96 L501.10,219.42 L500.71,220.87 L500.32,222.33 L499.93,223.78 L499.54,225.23 L499.14,226.69 L498.75,228.14 L498.36,229.59 L497.97,231.05 L497.58,232.50 L497.19,233.95 L496.80,235.41 L496.42,236.86 L496.04,238.32 L495.66,239.77 L495.28,241.23 L494.90,242.68 L494.53,244.14 L494.16,245.60 L493.79,247.05 L493.43,248.51 L493.06,249.97 L492.70,251.43 L492.33,252.88 L491.97,254.34 L491.60,255.80 L491.23,257.25 L490.85,258.71 L490.48,260.16 L490.09,261.62 L489.71,263.07 L489.32,264.52 L488.92,265.97 L488.52,267.42 L488.10,268.86 L487.69,270.31 L487.26,271.75 L486.82,273.19 L486.38,274.63 L485.92,276.06 L485.46,277.50 L484.98,278.93 L484.49,280.35 L483.98,281.78 L483.47,283.20 L482.94,284.62 L482.39,286.04 L481.84,287.45 L481.26,288.86 L480.67,290.26 L480.06,291.66 L479.44,293.06 L478.79,294.45 L478.12,295.82 L477.43,297.18 L476.71,298.52 L475.96,299.83 L475.18,301.11 L474.37,302.37 L473.52,303.58 L472.64,304.76 L471.72,305.90 L470.75,306.99 L469.74,308.03 L468.69,309.01 L467.59,309.94 L466.43,310.80 L465.23,311.60 L463.97,312.33 L462.67,313.00 L461.32,313.61 L459.93,314.16 L458.50,314.66 L457.04,315.11 L455.55,315.52 L454.04,315.89 L452.51,316.22 L450.96,316.52 L449.39,316.79 L447.82,317.04 L446.24,317.26 L444.66,317.47 L443.08,317.66 L441.51,317.83 L439.95,317.97 L438.40,318.08 L436.87,318.14 L435.36,318.15 L433.88,318.11 L432.42,318.00 L431.00,317.81 L429.60,317.55 L428.25,317.20 L426.94,316.75 L425.68,316.21 L424.47,315.55 L423.30,314.78 L422.19,313.91 L421.12,312.95 L420.09,311.90 L419.11,310.77 L418.18,309.56 L417.28,308.29 L416.42,306.95 L415.60,305.57 L414.82,304.13 L414.06,302.66 L413.35,301.16 L412.69,299.63 L412.09,298.09 L411.56,296.55 L411.12,295.02 L410.78,293.51 L410.54,292.02 L410.43,290.57 L410.45,289.17 L410.62,287.83 L410.95,286.55 L411.44,285.35 L412.10,284.23 L412.91,283.17 L413.84,282.18 L414.89,281.23 L416.04,280.32 L417.26,279.45 L418.54,278.60 L419.86,277.76 L421.21,276.93 L422.57,276.09 L423.91,275.25 L425.23,274.38 L426.52,273.49 L427.79,272.58 L429.03,271.66 L430.24,270.71 L431.43,269.74 L432.60,268.76 L433.74,267.75 L434.86,266.73 L435.95,265.69 L437.02,264.64 L438.07,263.57 L439.10,262.48 L440.11,261.38 L441.10,260.26 L442.06,259.12 L443.01,257.97 L443.94,256.81 L444.85,255.64 L445.74,254.45 L446.61,253.24 L447.47,252.03 L448.31,250.80 L449.13,249.56 L449.94,248.31 L450.73,247.05 L451.51,245.78 L452.27,244.49 L453.02,243.20 L453.75,241.90 L454.47,240.59 L455.18,239.27 L455.88,237.95 L456.57,236.61 L457.24,235.27 L457.91,233.92 L458.56,232.56 L459.21,231.20 L459.84,229.84 L460.47,228.46 L461.09,227.09 L461.70,225.70 L462.30,224.32 L462.90,222.93 L463.49,221.53 L464.08,220.14 L464.66,218.74 L465.23,217.34 L465.80,215.94 L466.37,214.53 L466.93,213.13 L467.49,211.72 L468.04,210.31 L468.59,208.90 L469.13,207.49 L469.67,206.07 L470.21,204.66 L470.75,203.24 L471.28,201.83 L471.80,200.41 L472.33,198.99 L472.85,197.57 L473.36,196.15 L473.88,194.73 L474.39,193.31 L474.89,191.89 L475.40,190.46 L475.90,189.04 L476.40,187.62 L476.90,186.20 L477.39,184.77 L477.88,183.35 L478.37,181.93 L478.86,180.51 L479.35,179.08 L479.83,177.66 L480.31,176.24 L480.79,174.82 L481.27,173.40 L481.75,171.98 L482.22,170.56 L482.70,169.15 L483.17,167.73 L483.64,166.31 L484.11,164.90 L484.58,163.49 L485.05,162.07 L485.52,160.66 L485.98,159.25 L486.45,157.85 L486.92,156.44 L487.38,155.03 L487.85,153.63 L488.32,152.22 L488.79,150.81 L489.26,149.40 L489.73,147.98 L490.21,146.56 L490.69,145.13 L491.18,143.69 L491.67,142.25 L492.17,140.80 L492.67,139.34 L493.18,137.87 L493.69,136.39 L494.22,134.90 L494.75,133.39 L495.29,131.87 L495.85,130.36 L496.44,128.88 L497.06,127.43 L497.74,126.05 L498.48,124.74 L499.29,123.54 L500.18,122.44 L501.16,121.48 L502.24,120.68 L503.43,120.04 L504.74,119.59 L506.18,119.34 Z" fill="none" stroke="#1a1a1a" stroke-width="1.5"/>
<path d="M486.51,241.25 L487.71,241.53 L488.83,242.09 L489.87,242.89 L490.80,243.90 L491.59,245.08 L492.22,246.39 L492.67,247.79 L492.91,249.24 L492.94,250.73 L492.81,252.23 L492.53,253.75 L492.16,255.27 L491.73,256.79 L491.27,258.31 L490.80,259.82 L490.31,261.32 L489.81,262.82 L489.29,264.30 L488.76,265.77 L488.21,267.24 L487.64,268.69 L487.06,270.13 L486.46,271.57 L485.84,272.99 L485.20,274.39 L484.55,275.79 L483.88,277.17 L483.20,278.53 L482.50,279.89 L481.77,281.22 L481.04,282.55 L480.28,283.85 L479.51,285.14 L478.71,286.42 L477.90,287.67 L477.07,288.91 L476.23,290.13 L475.36,291.33 L474.47,292.52 L473.57,293.68 L472.65,294.83 L471.71,295.97 L470.75,297.08 L469.78,298.19 L468.79,299.27 L467.77,300.35 L466.75,301.40 L465.70,302.45 L464.64,303.48 L463.56,304.50 L462.46,305.51 L461.34,306.50 L460.21,307.48 L459.06,308.46 L457.90,309.42 L456.72,310.37 L455.52,311.31 L454.30,312.24 L453.07,313.17 L451.82,314.08 L450.56,314.99 L449.28,315.89 L447.99,316.79 L446.68,317.67 L445.35,318.55 L444.01,319.41 L442.66,320.24 L441.29,321.05 L439.91,321.83 L438.52,322.57 L437.12,323.28 L435.71,323.93 L434.29,324.54 L432.86,325.09 L431.43,325.58 L429.99,326.01 L428.54,326.36 L427.08,326.64 L425.62,326.85 L424.16,326.96 L422.70,326.99 L421.23,326.93 L419.76,326.76 L418.29,326.50 L416.82,326.12 L415.35,325.63 L413.89,325.03 L412.48,324.32 L411.14,323.52 L409.91,322.62 L408.80,321.64 L407.85,320.58 L407.09,319.45 L406.55,318.25 L406.25,317.00 L406.20,315.70 L406.38,314.36 L406.75,313.01 L407.30,311.64 L408.01,310.27 L408.83,308.92 L409.76,307.60 L410.75,306.32 L411.80,305.09 L412.88,303.92 L414.00,302.80 L415.15,301.73 L416.33,300.71 L417.53,299.73 L418.77,298.79 L420.02,297.88 L421.30,297.01 L422.59,296.17 L423.89,295.36 L425.21,294.56 L426.54,293.79 L427.88,293.04 L429.23,292.30 L430.57,291.57 L431.92,290.84 L433.26,290.12 L434.60,289.40 L435.93,288.68 L437.25,287.95 L438.56,287.21 L439.86,286.46 L441.14,285.70 L442.40,284.91 L443.64,284.11 L444.85,283.28 L446.04,282.42 L447.21,281.54 L448.36,280.64 L449.50,279.72 L450.61,278.77 L451.70,277.80 L452.78,276.81 L453.85,275.80 L454.89,274.76 L455.93,273.71 L456.95,272.63 L457.96,271.54 L458.96,270.42 L459.95,269.29 L460.94,268.14 L461.91,266.97 L462.88,265.78 L463.84,264.58 L464.80,263.35 L465.75,262.12 L466.70,260.86 L467.65,259.59 L468.60,258.30 L469.54,257.00 L470.49,255.68 L471.44,254.35 L472.40,253.00 L473.36,251.65 L474.32,250.31 L475.30,249.00 L476.30,247.73 L477.32,246.52 L478.36,245.40 L479.42,244.37 L480.52,243.45 L481.65,242.67 L482.82,242.03 L484.03,241.56 L485.27,241.28 L486.51,241.25 Z" fill="#888888" stroke="#1a1a1a" stroke-width="1.5"/>
</g>
<g clip-path="url(#cpB)" stroke-linejoin="round">
<path d="M485.00,376.20 L659.50,376.20 L659.50,376.20 L659.09,377.93 L658.14,379.13 L657.14,380.28 L656.11,381.38 L655.04,382.43 L653.94,383.44 L652.81,384.40 L651.65,385.33 L650.46,386.21 L649.24,387.07 L648.00,387.89 L646.73,388.68 L645.44,389.44 L644.14,390.18 L642.82,390.90 L641.48,391.60 L640.13,392.27 L638.77,392.94 L637.40,393.59 L636.02,394.23 L634.63,394.87 L633.24,395.50 L631.85,396.13 L630.46,396.75 L629.07,397.39 L627.68,398.02 L626.30,398.66 L624.92,399.31 L623.54,399.96 L622.16,400.61 L620.79,401.27 L619.43,401.94 L618.06,402.61 L616.70,403.29 L615.34,403.97 L613.99,404.66 L612.64,405.35 L611.29,406.05 L609.95,406.76 L608.61,407.47 L607.27,408.19 L605.94,408.91 L604.61,409.64 L603.29,410.38 L601.96,411.12 L600.65,411.87 L599.33,412.63 L598.02,413.39 L596.72,414.16 L595.42,414.94 L594.12,415.72 L592.82,416.51 L591.53,417.31 L590.25,418.12 L588.96,418.93 L587.69,419.75 L586.41,420.57 L585.14,421.41 L583.88,422.25 L582.61,423.10 L581.36,423.96 L580.10,424.83 L578.86,425.70 L577.61,426.58 L576.37,427.47 L575.14,428.37 L573.91,429.27 L572.68,430.18 L571.46,431.10 L570.24,432.02 L569.03,432.95 L567.82,433.89 L566.62,434.84 L565.42,435.79 L564.23,436.75 L563.04,437.71 L561.86,438.68 L560.68,439.66 L559.50,440.64 L558.34,441.63 L557.17,442.63 L556.01,443.63 L554.86,444.63 L553.71,445.64 L552.57,446.66 L551.44,447.68 L550.30,448.71 L549.18,449.74 L548.06,450.78 L546.94,451.82 L545.83,452.87 L544.73,453.92 L543.63,454.98 L542.54,456.04 L541.45,457.11 L540.37,458.18 L539.30,459.25 L538.23,460.33 L537.16,461.41 L536.11,462.50 L535.06,463.59 L534.01,464.68 L532.98,465.79 L531.95,466.89 L530.94,468.01 L529.94,469.14 L528.95,470.27 L527.97,471.41 L527.01,472.57 L526.06,473.74 L525.13,474.92 L524.21,476.11 L523.32,477.32 L522.44,478.55 L521.58,479.79 L520.75,481.04 L519.93,482.32 L519.14,483.61 L518.37,484.92 L517.63,486.26 L516.92,487.61 L516.23,488.99 L515.56,490.39 L514.93,491.81 L514.40,493.30 L505.00,500.00 L490.00,535.00 L460.00,535.00 L441.00,524.00 L441.00,524.00 L441.09,522.48 L441.19,520.96 L441.29,519.43 L441.40,517.91 L441.51,516.39 L441.64,514.86 L441.77,513.34 L441.91,511.82 L442.06,510.31 L442.22,508.79 L442.38,507.27 L442.56,505.76 L442.73,504.24 L442.92,502.73 L443.12,501.22 L443.32,499.71 L443.53,498.20 L443.75,496.69 L443.97,495.19 L444.20,493.68 L444.44,492.18 L444.69,490.67 L444.95,489.17 L445.21,487.67 L445.48,486.17 L445.75,484.67 L446.03,483.18 L446.33,481.68 L446.62,480.19 L446.93,478.70 L447.24,477.21 L447.56,475.72 L447.88,474.23 L448.21,472.74 L448.55,471.26 L448.90,469.78 L449.25,468.29 L449.61,466.81 L449.98,465.34 L450.35,463.86 L450.73,462.38 L451.11,460.91 L451.51,459.44 L451.91,457.97 L452.31,456.50 L452.72,455.03 L453.14,453.57 L453.57,452.10 L454.00,450.64 L454.44,449.18 L454.88,447.73 L455.33,446.27 L455.78,444.81 L456.25,443.36 L456.72,441.91 L457.19,440.46 L457.67,439.02 L458.16,437.57 L458.65,436.13 L459.15,434.69 L459.65,433.25 L460.16,431.81 L460.68,430.38 L461.20,428.94 L461.73,427.51 L462.26,426.08 L462.80,424.66 L463.34,423.23 L463.89,421.81 L464.45,420.39 L465.01,418.97 L465.57,417.56 L466.15,416.14 L466.72,414.73 L467.31,413.32 L467.89,411.91 L468.49,410.51 L469.09,409.11 L469.69,407.71 L470.30,406.31 L470.91,404.91 L471.53,403.52 L472.16,402.13 L472.78,400.74 L473.42,399.35 L474.06,397.97 L474.70,396.59 L475.35,395.21 L476.01,393.83 L476.66,392.46 L477.33,391.09 L478.00,389.72 L478.67,388.35 L479.35,386.99 L480.03,385.63 L480.71,384.27 L481.41,382.92 L482.10,381.56 L482.80,380.21 L483.51,378.86 L484.22,377.52 L485.00,376.20 Z" fill="#f0f0f0" stroke="#1a1a1a" stroke-width="1.5"/>
<path d="M151.00,523.80 L290.00,524.40 L440.00,525.20 L462.00,525.70 L463.59,525.46 L465.49,525.28 L467.26,525.32 L468.90,525.55 L470.39,525.97 L471.73,526.55 L472.90,527.29 L473.90,528.17 L474.71,529.16 L475.32,530.27 L475.76,531.47 L476.04,532.75 L476.17,534.12 L476.17,535.54 L476.06,537.02 L475.86,538.54 L475.58,540.10 L475.23,541.68 L474.85,543.27 L474.43,544.86 L474.01,546.44 L473.58,548.01 L473.15,549.56 L472.72,551.09 L472.29,552.61 L471.85,554.11 L471.40,555.60 L470.94,557.07 L470.46,558.52 L469.97,559.97 L469.47,561.39 L468.94,562.81 L468.40,564.21 L467.83,565.59 L467.24,566.97 L466.62,568.33 L465.97,569.67 L465.29,571.01 L464.58,572.33 L463.84,573.64 L463.05,574.94 L462.23,576.23 L461.37,577.51 L460.47,578.77 L459.52,580.03 L458.30,581.00 L458.30,581.00 L457.14,581.96 L456.08,583.06 L455.02,584.15 L453.97,585.26 L452.92,586.36 L451.88,587.47 L450.84,588.59 L449.80,589.70 L448.78,590.83 L447.75,591.95 L446.74,593.08 L445.72,594.21 L444.71,595.35 L443.71,596.49 L442.71,597.63 L441.71,598.78 L440.72,599.93 L439.73,601.09 L438.75,602.24 L437.77,603.41 L436.80,604.57 L435.83,605.74 L434.87,606.91 L433.90,608.08 L432.95,609.26 L431.99,610.44 L431.04,611.62 L430.10,612.81 L429.15,614.00 L428.22,615.19 L427.28,616.38 L426.35,617.58 L425.42,618.78 L424.50,619.98 L423.57,621.19 L422.66,622.39 L421.74,623.61 L420.83,624.82 L419.92,626.03 L419.02,627.25 L418.11,628.47 L417.21,629.69 L416.32,630.92 L415.42,632.14 L414.53,633.37 L413.64,634.60 L412.76,635.84 L411.87,637.07 L410.99,638.31 L410.12,639.55 L409.24,640.79 L408.37,642.03 L407.49,643.27 L406.63,644.52 L405.76,645.77 L404.89,647.01 L404.03,648.27 L403.17,649.52 L402.31,650.77 L401.45,652.03 L400.60,653.28 L399.75,654.54 L398.89,655.80 L398.04,657.06 L397.20,658.32 L396.35,659.58 L395.50,660.85 L394.66,662.11 L393.82,663.38 L392.97,664.64 L392.13,665.91 L391.29,667.18 L390.46,668.45 L389.62,669.72 L388.78,670.99 L387.95,672.26 L387.11,673.53 L386.28,674.81 L385.45,676.08 L384.61,677.35 L383.78,678.63 L382.95,679.90 L382.12,681.18 L381.29,682.45 L380.46,683.73 L379.63,685.00 L378.80,686.28 L377.97,687.55 L377.14,688.83 L376.31,690.11 L375.48,691.38 L374.65,692.66 L373.82,693.93 L372.99,695.21 L372.16,696.48 L371.33,697.76 L370.50,699.03 L369.67,700.31 L368.84,701.58 L368.01,702.85 L367.18,704.13 L366.34,705.40 L365.51,706.67 L364.68,707.94 L363.84,709.21 L363.00,710.48 L362.17,711.75 L361.33,713.02 L360.49,714.29 L359.65,715.55 L358.81,716.82 L357.96,718.08 L357.12,719.34 L356.27,720.61 L355.43,721.87 L354.58,723.13 L353.73,724.38 L352.87,725.64 L352.02,726.90 L351.17,728.15 L350.31,729.40 L349.45,730.65 L348.59,731.90 L347.73,733.15 L346.86,734.40 L345.99,735.64 L345.12,736.88 L344.25,738.13 L343.38,739.37 L342.50,740.60 L341.62,741.84 L340.74,743.07 L339.86,744.30 L338.97,745.53 L338.10,746.80 L271.60,746.80 L271.60,746.80 L271.26,745.34 L270.52,744.02 L269.77,742.69 L269.02,741.37 L268.27,740.06 L267.52,738.74 L266.76,737.43 L266.00,736.11 L265.23,734.81 L264.47,733.50 L263.70,732.19 L262.93,730.89 L262.15,729.59 L261.38,728.29 L260.60,727.00 L259.82,725.70 L259.03,724.41 L258.25,723.12 L257.46,721.83 L256.67,720.54 L255.88,719.25 L255.08,717.97 L254.28,716.69 L253.48,715.41 L252.68,714.13 L251.88,712.85 L251.07,711.57 L250.27,710.30 L249.46,709.03 L248.65,707.75 L247.83,706.48 L247.02,705.21 L246.20,703.95 L245.39,702.68 L244.57,701.41 L243.75,700.15 L242.93,698.88 L242.10,697.62 L241.28,696.36 L240.45,695.10 L239.63,693.84 L238.80,692.58 L237.97,691.32 L237.14,690.07 L236.31,688.81 L235.47,687.55 L234.64,686.30 L233.81,685.04 L232.97,683.79 L232.13,682.54 L231.30,681.29 L230.46,680.03 L229.62,678.78 L228.78,677.53 L227.94,676.28 L227.10,675.03 L226.26,673.78 L225.42,672.53 L224.58,671.28 L223.74,670.03 L222.90,668.78 L222.06,667.53 L221.21,666.28 L220.37,665.03 L219.53,663.78 L218.69,662.53 L217.84,661.28 L217.00,660.03 L216.16,658.78 L215.32,657.53 L214.48,656.28 L213.63,655.03 L212.79,653.78 L211.95,652.53 L211.11,651.27 L210.27,650.02 L209.43,648.77 L208.59,647.51 L207.75,646.26 L206.92,645.01 L206.08,643.75 L205.24,642.49 L204.41,641.24 L203.57,639.98 L202.74,638.72 L201.91,637.46 L201.07,636.20 L200.24,634.94 L199.41,633.68 L198.59,632.41 L197.76,631.15 L196.93,629.88 L196.11,628.61 L195.28,627.35 L194.46,626.08 L193.64,624.81 L192.82,623.54 L192.00,622.26 L191.19,620.99 L190.37,619.71 L189.56,618.43 L188.75,617.15 L187.94,615.87 L187.13,614.59 L186.32,613.31 L185.52,612.02 L184.72,610.73 L183.92,609.45 L183.12,608.15 L182.32,606.86 L181.53,605.57 L180.74,604.27 L179.95,602.97 L179.16,601.67 L178.38,600.37 L177.60,599.06 L176.82,597.76 L176.04,596.45 L175.27,595.14 L174.51,593.82 L173.74,592.51 L172.98,591.19 L172.23,589.87 L171.48,588.55 L170.74,587.22 L170.00,585.89 L169.27,584.56 L168.54,583.23 L167.82,581.89 L167.10,580.55 L166.39,579.21 L165.69,577.87 L165.00,576.52 L164.31,575.17 L163.63,573.81 L162.96,572.46 L162.30,571.10 L161.64,569.73 L161.00,568.37 L160.36,567.00 L159.73,565.63 L159.11,564.25 L158.50,562.87 L157.90,561.49 L157.31,560.10 L156.73,558.71 L156.16,557.32 L155.60,555.92 L155.05,554.52 L154.51,553.11 L153.99,551.71 L153.48,550.29 L152.97,548.88 L152.48,547.46 L152.01,546.03 L151.54,544.61 L151.09,543.17 L150.65,541.74 L150.23,540.30 L149.82,538.85 L149.42,537.40 L149.04,535.95 L148.67,534.49 L148.32,533.03 L148.02,531.59 L147.80,530.17 L147.68,528.79 L147.71,527.47 L147.91,526.23 L148.32,525.08 L148.96,524.03 L151.00,523.80 Z" fill="#fff" stroke="none"/>
<clipPath id="cab"><path d="M151.00,523.80 L290.00,524.40 L440.00,525.20 L462.00,525.70 L463.59,525.46 L465.49,525.28 L467.26,525.32 L468.90,525.55 L470.39,525.97 L471.73,526.55 L472.90,527.29 L473.90,528.17 L474.71,529.16 L475.32,530.27 L475.76,531.47 L476.04,532.75 L476.17,534.12 L476.17,535.54 L476.06,537.02 L475.86,538.54 L475.58,540.10 L475.23,541.68 L474.85,543.27 L474.43,544.86 L474.01,546.44 L473.58,548.01 L473.15,549.56 L472.72,551.09 L472.29,552.61 L471.85,554.11 L471.40,555.60 L470.94,557.07 L470.46,558.52 L469.97,559.97 L469.47,561.39 L468.94,562.81 L468.40,564.21 L467.83,565.59 L467.24,566.97 L466.62,568.33 L465.97,569.67 L465.29,571.01 L464.58,572.33 L463.84,573.64 L463.05,574.94 L462.23,576.23 L461.37,577.51 L460.47,578.77 L459.52,580.03 L458.30,581.00 L458.30,581.00 L457.14,581.96 L456.08,583.06 L455.02,584.15 L453.97,585.26 L452.92,586.36 L451.88,587.47 L450.84,588.59 L449.80,589.70 L448.78,590.83 L447.75,591.95 L446.74,593.08 L445.72,594.21 L444.71,595.35 L443.71,596.49 L442.71,597.63 L441.71,598.78 L440.72,599.93 L439.73,601.09 L438.75,602.24 L437.77,603.41 L436.80,604.57 L435.83,605.74 L434.87,606.91 L433.90,608.08 L432.95,609.26 L431.99,610.44 L431.04,611.62 L430.10,612.81 L429.15,614.00 L428.22,615.19 L427.28,616.38 L426.35,617.58 L425.42,618.78 L424.50,619.98 L423.57,621.19 L422.66,622.39 L421.74,623.61 L420.83,624.82 L419.92,626.03 L419.02,627.25 L418.11,628.47 L417.21,629.69 L416.32,630.92 L415.42,632.14 L414.53,633.37 L413.64,634.60 L412.76,635.84 L411.87,637.07 L410.99,638.31 L410.12,639.55 L409.24,640.79 L408.37,642.03 L407.49,643.27 L406.63,644.52 L405.76,645.77 L404.89,647.01 L404.03,648.27 L403.17,649.52 L402.31,650.77 L401.45,652.03 L400.60,653.28 L399.75,654.54 L398.89,655.80 L398.04,657.06 L397.20,658.32 L396.35,659.58 L395.50,660.85 L394.66,662.11 L393.82,663.38 L392.97,664.64 L392.13,665.91 L391.29,667.18 L390.46,668.45 L389.62,669.72 L388.78,670.99 L387.95,672.26 L387.11,673.53 L386.28,674.81 L385.45,676.08 L384.61,677.35 L383.78,678.63 L382.95,679.90 L382.12,681.18 L381.29,682.45 L380.46,683.73 L379.63,685.00 L378.80,686.28 L377.97,687.55 L377.14,688.83 L376.31,690.11 L375.48,691.38 L374.65,692.66 L373.82,693.93 L372.99,695.21 L372.16,696.48 L371.33,697.76 L370.50,699.03 L369.67,700.31 L368.84,701.58 L368.01,702.85 L367.18,704.13 L366.34,705.40 L365.51,706.67 L364.68,707.94 L363.84,709.21 L363.00,710.48 L362.17,711.75 L361.33,713.02 L360.49,714.29 L359.65,715.55 L358.81,716.82 L357.96,718.08 L357.12,719.34 L356.27,720.61 L355.43,721.87 L354.58,723.13 L353.73,724.38 L352.87,725.64 L352.02,726.90 L351.17,728.15 L350.31,729.40 L349.45,730.65 L348.59,731.90 L347.73,733.15 L346.86,734.40 L345.99,735.64 L345.12,736.88 L344.25,738.13 L343.38,739.37 L342.50,740.60 L341.62,741.84 L340.74,743.07 L339.86,744.30 L338.97,745.53 L338.10,746.80 L271.60,746.80 L271.60,746.80 L271.26,745.34 L270.52,744.02 L269.77,742.69 L269.02,741.37 L268.27,740.06 L267.52,738.74 L266.76,737.43 L266.00,736.11 L265.23,734.81 L264.47,733.50 L263.70,732.19 L262.93,730.89 L262.15,729.59 L261.38,728.29 L260.60,727.00 L259.82,725.70 L259.03,724.41 L258.25,723.12 L257.46,721.83 L256.67,720.54 L255.88,719.25 L255.08,717.97 L254.28,716.69 L253.48,715.41 L252.68,714.13 L251.88,712.85 L251.07,711.57 L250.27,710.30 L249.46,709.03 L248.65,707.75 L247.83,706.48 L247.02,705.21 L246.20,703.95 L245.39,702.68 L244.57,701.41 L243.75,700.15 L242.93,698.88 L242.10,697.62 L241.28,696.36 L240.45,695.10 L239.63,693.84 L238.80,692.58 L237.97,691.32 L237.14,690.07 L236.31,688.81 L235.47,687.55 L234.64,686.30 L233.81,685.04 L232.97,683.79 L232.13,682.54 L231.30,681.29 L230.46,680.03 L229.62,678.78 L228.78,677.53 L227.94,676.28 L227.10,675.03 L226.26,673.78 L225.42,672.53 L224.58,671.28 L223.74,670.03 L222.90,668.78 L222.06,667.53 L221.21,666.28 L220.37,665.03 L219.53,663.78 L218.69,662.53 L217.84,661.28 L217.00,660.03 L216.16,658.78 L215.32,657.53 L214.48,656.28 L213.63,655.03 L212.79,653.78 L211.95,652.53 L211.11,651.27 L210.27,650.02 L209.43,648.77 L208.59,647.51 L207.75,646.26 L206.92,645.01 L206.08,643.75 L205.24,642.49 L204.41,641.24 L203.57,639.98 L202.74,638.72 L201.91,637.46 L201.07,636.20 L200.24,634.94 L199.41,633.68 L198.59,632.41 L197.76,631.15 L196.93,629.88 L196.11,628.61 L195.28,627.35 L194.46,626.08 L193.64,624.81 L192.82,623.54 L192.00,622.26 L191.19,620.99 L190.37,619.71 L189.56,618.43 L188.75,617.15 L187.94,615.87 L187.13,614.59 L186.32,613.31 L185.52,612.02 L184.72,610.73 L183.92,609.45 L183.12,608.15 L182.32,606.86 L181.53,605.57 L180.74,604.27 L179.95,602.97 L179.16,601.67 L178.38,600.37 L177.60,599.06 L176.82,597.76 L176.04,596.45 L175.27,595.14 L174.51,593.82 L173.74,592.51 L172.98,591.19 L172.23,589.87 L171.48,588.55 L170.74,587.22 L170.00,585.89 L169.27,584.56 L168.54,583.23 L167.82,581.89 L167.10,580.55 L166.39,579.21 L165.69,577.87 L165.00,576.52 L164.31,575.17 L163.63,573.81 L162.96,572.46 L162.30,571.10 L161.64,569.73 L161.00,568.37 L160.36,567.00 L159.73,565.63 L159.11,564.25 L158.50,562.87 L157.90,561.49 L157.31,560.10 L156.73,558.71 L156.16,557.32 L155.60,555.92 L155.05,554.52 L154.51,553.11 L153.99,551.71 L153.48,550.29 L152.97,548.88 L152.48,547.46 L152.01,546.03 L151.54,544.61 L151.09,543.17 L150.65,541.74 L150.23,540.30 L149.82,538.85 L149.42,537.40 L149.04,535.95 L148.67,534.49 L148.32,533.03 L148.02,531.59 L147.80,530.17 L147.68,528.79 L147.71,527.47 L147.91,526.23 L148.32,525.08 L148.96,524.03 L151.00,523.80 Z"/></clipPath>
<path d="M-108.25,750.00L121.75,520.00M-93.50,750.00L136.50,520.00M-78.75,750.00L151.25,520.00M-64.00,750.00L166.00,520.00M-49.25,750.00L180.75,520.00M-34.50,750.00L195.50,520.00M-19.75,750.00L210.25,520.00M-5.00,750.00L225.00,520.00M9.75,750.00L239.75,520.00M24.50,750.00L254.50,520.00M39.25,750.00L269.25,520.00M54.00,750.00L284.00,520.00M68.75,750.00L298.75,520.00M83.50,750.00L313.50,520.00M98.25,750.00L328.25,520.00M113.00,750.00L343.00,520.00M127.75,750.00L357.75,520.00M142.50,750.00L372.50,520.00M157.25,750.00L387.25,520.00M172.00,750.00L402.00,520.00M186.75,750.00L416.75,520.00M201.50,750.00L431.50,520.00M216.25,750.00L446.25,520.00M231.00,750.00L461.00,520.00M245.75,750.00L475.75,520.00M260.50,750.00L490.50,520.00M275.25,750.00L505.25,520.00M290.00,750.00L520.00,520.00M304.75,750.00L534.75,520.00M319.50,750.00L549.50,520.00M334.25,750.00L564.25,520.00M349.00,750.00L579.00,520.00M363.75,750.00L593.75,520.00M378.50,750.00L608.50,520.00M393.25,750.00L623.25,520.00M408.00,750.00L638.00,520.00M422.75,750.00L652.75,520.00M437.50,750.00L667.50,520.00M452.25,750.00L682.25,520.00M467.00,750.00L697.00,520.00M481.75,750.00L711.75,520.00M496.50,750.00L726.50,520.00" stroke="#868686" stroke-width="1.45" stroke-linecap="round" stroke-dasharray="0.01 2.7" clip-path="url(#cab)"/>
<path d="M151.00,523.80 L290.00,524.40 L440.00,525.20 L462.00,525.70 L463.59,525.46 L465.49,525.28 L467.26,525.32 L468.90,525.55 L470.39,525.97 L471.73,526.55 L472.90,527.29 L473.90,528.17 L474.71,529.16 L475.32,530.27 L475.76,531.47 L476.04,532.75 L476.17,534.12 L476.17,535.54 L476.06,537.02 L475.86,538.54 L475.58,540.10 L475.23,541.68 L474.85,543.27 L474.43,544.86 L474.01,546.44 L473.58,548.01 L473.15,549.56 L472.72,551.09 L472.29,552.61 L471.85,554.11 L471.40,555.60 L470.94,557.07 L470.46,558.52 L469.97,559.97 L469.47,561.39 L468.94,562.81 L468.40,564.21 L467.83,565.59 L467.24,566.97 L466.62,568.33 L465.97,569.67 L465.29,571.01 L464.58,572.33 L463.84,573.64 L463.05,574.94 L462.23,576.23 L461.37,577.51 L460.47,578.77 L459.52,580.03 L458.30,581.00 L458.30,581.00 L457.14,581.96 L456.08,583.06 L455.02,584.15 L453.97,585.26 L452.92,586.36 L451.88,587.47 L450.84,588.59 L449.80,589.70 L448.78,590.83 L447.75,591.95 L446.74,593.08 L445.72,594.21 L444.71,595.35 L443.71,596.49 L442.71,597.63 L441.71,598.78 L440.72,599.93 L439.73,601.09 L438.75,602.24 L437.77,603.41 L436.80,604.57 L435.83,605.74 L434.87,606.91 L433.90,608.08 L432.95,609.26 L431.99,610.44 L431.04,611.62 L430.10,612.81 L429.15,614.00 L428.22,615.19 L427.28,616.38 L426.35,617.58 L425.42,618.78 L424.50,619.98 L423.57,621.19 L422.66,622.39 L421.74,623.61 L420.83,624.82 L419.92,626.03 L419.02,627.25 L418.11,628.47 L417.21,629.69 L416.32,630.92 L415.42,632.14 L414.53,633.37 L413.64,634.60 L412.76,635.84 L411.87,637.07 L410.99,638.31 L410.12,639.55 L409.24,640.79 L408.37,642.03 L407.49,643.27 L406.63,644.52 L405.76,645.77 L404.89,647.01 L404.03,648.27 L403.17,649.52 L402.31,650.77 L401.45,652.03 L400.60,653.28 L399.75,654.54 L398.89,655.80 L398.04,657.06 L397.20,658.32 L396.35,659.58 L395.50,660.85 L394.66,662.11 L393.82,663.38 L392.97,664.64 L392.13,665.91 L391.29,667.18 L390.46,668.45 L389.62,669.72 L388.78,670.99 L387.95,672.26 L387.11,673.53 L386.28,674.81 L385.45,676.08 L384.61,677.35 L383.78,678.63 L382.95,679.90 L382.12,681.18 L381.29,682.45 L380.46,683.73 L379.63,685.00 L378.80,686.28 L377.97,687.55 L377.14,688.83 L376.31,690.11 L375.48,691.38 L374.65,692.66 L373.82,693.93 L372.99,695.21 L372.16,696.48 L371.33,697.76 L370.50,699.03 L369.67,700.31 L368.84,701.58 L368.01,702.85 L367.18,704.13 L366.34,705.40 L365.51,706.67 L364.68,707.94 L363.84,709.21 L363.00,710.48 L362.17,711.75 L361.33,713.02 L360.49,714.29 L359.65,715.55 L358.81,716.82 L357.96,718.08 L357.12,719.34 L356.27,720.61 L355.43,721.87 L354.58,723.13 L353.73,724.38 L352.87,725.64 L352.02,726.90 L351.17,728.15 L350.31,729.40 L349.45,730.65 L348.59,731.90 L347.73,733.15 L346.86,734.40 L345.99,735.64 L345.12,736.88 L344.25,738.13 L343.38,739.37 L342.50,740.60 L341.62,741.84 L340.74,743.07 L339.86,744.30 L338.97,745.53 L338.10,746.80 L271.60,746.80 L271.60,746.80 L271.26,745.34 L270.52,744.02 L269.77,742.69 L269.02,741.37 L268.27,740.06 L267.52,738.74 L266.76,737.43 L266.00,736.11 L265.23,734.81 L264.47,733.50 L263.70,732.19 L262.93,730.89 L262.15,729.59 L261.38,728.29 L260.60,727.00 L259.82,725.70 L259.03,724.41 L258.25,723.12 L257.46,721.83 L256.67,720.54 L255.88,719.25 L255.08,717.97 L254.28,716.69 L253.48,715.41 L252.68,714.13 L251.88,712.85 L251.07,711.57 L250.27,710.30 L249.46,709.03 L248.65,707.75 L247.83,706.48 L247.02,705.21 L246.20,703.95 L245.39,702.68 L244.57,701.41 L243.75,700.15 L242.93,698.88 L242.10,697.62 L241.28,696.36 L240.45,695.10 L239.63,693.84 L238.80,692.58 L237.97,691.32 L237.14,690.07 L236.31,688.81 L235.47,687.55 L234.64,686.30 L233.81,685.04 L232.97,683.79 L232.13,682.54 L231.30,681.29 L230.46,680.03 L229.62,678.78 L228.78,677.53 L227.94,676.28 L227.10,675.03 L226.26,673.78 L225.42,672.53 L224.58,671.28 L223.74,670.03 L222.90,668.78 L222.06,667.53 L221.21,666.28 L220.37,665.03 L219.53,663.78 L218.69,662.53 L217.84,661.28 L217.00,660.03 L216.16,658.78 L215.32,657.53 L214.48,656.28 L213.63,655.03 L212.79,653.78 L211.95,652.53 L211.11,651.27 L210.27,650.02 L209.43,648.77 L208.59,647.51 L207.75,646.26 L206.92,645.01 L206.08,643.75 L205.24,642.49 L204.41,641.24 L203.57,639.98 L202.74,638.72 L201.91,637.46 L201.07,636.20 L200.24,634.94 L199.41,633.68 L198.59,632.41 L197.76,631.15 L196.93,629.88 L196.11,628.61 L195.28,627.35 L194.46,626.08 L193.64,624.81 L192.82,623.54 L192.00,622.26 L191.19,620.99 L190.37,619.71 L189.56,618.43 L188.75,617.15 L187.94,615.87 L187.13,614.59 L186.32,613.31 L185.52,612.02 L184.72,610.73 L183.92,609.45 L183.12,608.15 L182.32,606.86 L181.53,605.57 L180.74,604.27 L179.95,602.97 L179.16,601.67 L178.38,600.37 L177.60,599.06 L176.82,597.76 L176.04,596.45 L175.27,595.14 L174.51,593.82 L173.74,592.51 L172.98,591.19 L172.23,589.87 L171.48,588.55 L170.74,587.22 L170.00,585.89 L169.27,584.56 L168.54,583.23 L167.82,581.89 L167.10,580.55 L166.39,579.21 L165.69,577.87 L165.00,576.52 L164.31,575.17 L163.63,573.81 L162.96,572.46 L162.30,571.10 L161.64,569.73 L161.00,568.37 L160.36,567.00 L159.73,565.63 L159.11,564.25 L158.50,562.87 L157.90,561.49 L157.31,560.10 L156.73,558.71 L156.16,557.32 L155.60,555.92 L155.05,554.52 L154.51,553.11 L153.99,551.71 L153.48,550.29 L152.97,548.88 L152.48,547.46 L152.01,546.03 L151.54,544.61 L151.09,543.17 L150.65,541.74 L150.23,540.30 L149.82,538.85 L149.42,537.40 L149.04,535.95 L148.67,534.49 L148.32,533.03 L148.02,531.59 L147.80,530.17 L147.68,528.79 L147.71,527.47 L147.91,526.23 L148.32,525.08 L148.96,524.03 L151.00,523.80 Z" fill="none" stroke="#1a1a1a" stroke-width="1.5"/>
<path d="M507.38,482.76 L508.54,483.23 L509.58,483.94 L510.51,484.88 L511.34,486.00 L512.07,487.28 L512.72,488.69 L513.28,490.20 L513.76,491.77 L514.16,493.38 L514.51,494.99 L514.79,496.58 L515.01,498.16 L515.17,499.73 L515.29,501.28 L515.36,502.81 L515.38,504.34 L515.36,505.85 L515.31,507.35 L515.22,508.85 L515.10,510.34 L514.96,511.82 L514.79,513.30 L514.61,514.77 L514.40,516.24 L514.19,517.71 L513.96,519.18 L513.72,520.65 L513.46,522.11 L513.20,523.58 L512.92,525.04 L512.63,526.51 L512.34,527.97 L512.03,529.43 L511.71,530.89 L511.39,532.34 L511.05,533.80 L510.71,535.26 L510.36,536.71 L510.00,538.17 L509.63,539.62 L509.26,541.07 L508.88,542.53 L508.49,543.98 L508.10,545.43 L507.70,546.88 L507.30,548.33 L506.89,549.78 L506.48,551.23 L506.07,552.68 L505.65,554.13 L505.23,555.58 L504.81,557.03 L504.38,558.48 L503.95,559.92 L503.53,561.37 L503.10,562.82 L502.67,564.27 L502.24,565.72 L501.81,567.17 L501.38,568.62 L500.95,570.07 L500.53,571.52 L500.10,572.97 L499.68,574.42 L499.26,575.87 L498.84,577.32 L498.41,578.77 L497.99,580.22 L497.56,581.66 L497.13,583.11 L496.69,584.55 L496.24,585.99 L495.79,587.43 L495.33,588.86 L494.86,590.29 L494.37,591.71 L493.88,593.13 L493.37,594.55 L492.84,595.95 L492.30,597.36 L491.74,598.75 L491.16,600.14 L490.57,601.53 L489.95,602.90 L489.31,604.27 L488.66,605.62 L487.98,606.97 L487.28,608.30 L486.57,609.63 L485.83,610.94 L485.08,612.24 L484.30,613.52 L483.51,614.79 L482.70,616.04 L481.87,617.27 L481.02,618.49 L480.15,619.69 L479.26,620.87 L478.36,622.03 L477.44,623.17 L476.49,624.29 L475.54,625.39 L474.56,626.46 L473.57,627.51 L472.55,628.53 L471.52,629.53 L470.48,630.50 L469.42,631.44 L468.34,632.36 L467.25,633.27 L466.14,634.15 L465.03,635.03 L463.90,635.89 L462.77,636.75 L461.63,637.61 L460.49,638.47 L459.35,639.34 L458.20,640.22 L457.05,641.11 L455.90,642.01 L454.76,642.94 L453.62,643.88 L452.49,644.86 L451.36,645.86 L450.25,646.90 L449.14,647.98 L448.05,649.10 L446.96,650.26 L445.90,651.48 L444.85,652.74 L443.82,654.06 L442.80,655.44 L441.81,656.88 L440.84,658.39 L439.90,659.96 L438.98,661.61 L438.09,663.33 L437.21,665.10 L436.36,666.92 L435.53,668.79 L434.73,670.69 L433.94,672.63 L433.16,674.58 L432.41,676.55 L431.67,678.52 L430.94,680.49 L430.23,682.46 L429.53,684.41 L428.84,686.33 L428.16,688.23 L427.49,690.09 L426.83,691.90 L426.17,693.66 L425.52,695.36 L424.88,696.99 L424.24,698.55 L423.60,700.02 L422.96,701.41 L422.32,702.69 L421.68,703.88 L421.04,704.95 L420.39,705.90 L419.74,706.72 L419.09,707.41 L418.43,707.96 L417.76,708.36 L417.08,708.60 L416.39,708.67 L415.69,708.58 L414.98,708.31 L414.25,707.85 L413.52,707.20 L412.82,706.38 L412.17,705.40 L411.62,704.29 L411.16,703.05 L410.80,701.71 L410.52,700.28 L410.32,698.77 L410.19,697.20 L410.13,695.58 L410.13,693.93 L410.18,692.26 L410.27,690.60 L410.41,688.95 L410.59,687.32 L410.81,685.72 L411.07,684.14 L411.37,682.59 L411.72,681.07 L412.12,679.58 L412.56,678.12 L413.06,676.70 L413.61,675.30 L414.21,673.95 L414.87,672.63 L415.59,671.35 L416.37,670.11 L417.21,668.90 L418.11,667.74 L419.08,666.63 L420.11,665.55 L421.18,664.50 L422.29,663.47 L423.41,662.45 L424.54,661.44 L425.67,660.41 L426.77,659.37 L427.84,658.31 L428.89,657.22 L429.90,656.11 L430.88,654.98 L431.84,653.82 L432.77,652.65 L433.68,651.46 L434.56,650.25 L435.41,649.02 L436.25,647.78 L437.06,646.52 L437.86,645.25 L438.63,643.97 L439.39,642.67 L440.13,641.36 L440.86,640.04 L441.57,638.72 L442.26,637.38 L442.95,636.04 L443.62,634.69 L444.28,633.34 L444.93,631.98 L445.57,630.62 L446.21,629.26 L446.83,627.89 L447.45,626.52 L448.06,625.15 L448.67,623.77 L449.26,622.39 L449.85,621.01 L450.43,619.63 L451.01,618.24 L451.58,616.85 L452.14,615.46 L452.69,614.06 L453.24,612.66 L453.79,611.27 L454.33,609.86 L454.86,608.46 L455.39,607.05 L455.91,605.64 L456.43,604.23 L456.94,602.82 L457.45,601.41 L457.96,599.99 L458.46,598.58 L458.96,597.16 L459.45,595.74 L459.95,594.32 L460.43,592.89 L460.92,591.47 L461.40,590.04 L461.88,588.62 L462.36,587.19 L462.84,585.76 L463.31,584.33 L463.78,582.90 L464.25,581.47 L464.72,580.03 L465.19,578.60 L465.66,577.17 L466.13,575.73 L466.59,574.30 L467.06,572.86 L467.53,571.43 L467.99,569.99 L468.46,568.56 L468.92,567.12 L469.39,565.69 L469.86,564.25 L470.32,562.82 L470.79,561.38 L471.26,559.95 L471.72,558.51 L472.19,557.08 L472.66,555.64 L473.13,554.21 L473.60,552.77 L474.07,551.34 L474.54,549.91 L475.01,548.48 L475.49,547.05 L475.96,545.62 L476.43,544.19 L476.91,542.76 L477.39,541.33 L477.87,539.91 L478.35,538.48 L478.83,537.06 L479.31,535.63 L479.80,534.21 L480.28,532.79 L480.77,531.37 L481.26,529.96 L481.75,528.54 L482.25,527.13 L482.74,525.71 L483.24,524.30 L483.74,522.89 L484.24,521.48 L484.74,520.08 L485.25,518.68 L485.76,517.27 L486.27,515.87 L486.78,514.48 L487.30,513.08 L487.82,511.69 L488.34,510.29 L488.87,508.90 L489.41,507.50 L489.95,506.10 L490.50,504.70 L491.05,503.29 L491.62,501.88 L492.19,500.46 L492.77,499.03 L493.36,497.60 L493.97,496.15 L494.58,494.70 L495.21,493.24 L495.85,491.77 L496.52,490.31 L497.24,488.90 L498.02,487.55 L498.89,486.31 L499.85,485.21 L500.93,484.26 L502.14,483.50 L503.44,482.96 L504.79,482.64 L506.12,482.57 L507.38,482.76 Z" fill="#fff" stroke="none"/>
<path d="M514.5,697.9L515.4,698.1M501.5,648.6L500.7,649.9M474.8,619.0L474.5,620.1M455.5,569.4L453.6,571.7M514.1,604.5L514.3,605.8M409.0,485.6L409.2,487.1M448.8,684.1L448.6,686.1M431.9,485.0L432.4,486.0M464.0,709.2L463.4,710.2M508.7,662.2L506.8,664.3M492.1,660.3L493.4,663.0M516.5,516.2L514.8,517.9M458.0,600.6L458.1,603.4M462.0,670.0L463.2,672.5M508.8,584.7L508.2,587.4M487.7,591.4L488.8,592.4M486.1,518.0L484.8,518.4M511.0,551.0L508.6,551.4M463.5,598.2L462.5,600.0M440.9,526.4L440.8,529.2M477.7,496.7L475.7,498.0M509.7,523.7L509.1,524.4M479.1,541.9L481.1,543.7M417.8,599.8L416.6,600.4M428.9,681.4L429.5,683.7M407.7,562.8L409.6,563.9M413.3,699.5L415.7,699.6M407.9,538.5L407.0,539.1M426.0,638.6L426.3,639.5M518.1,514.7L519.6,514.9M475.0,650.5L476.5,651.0M409.4,582.4L407.6,584.0M509.8,653.3L507.7,654.3M459.7,531.2L459.0,532.5M417.2,582.8L416.2,583.2M472.3,569.8L472.2,570.9M515.7,538.8L515.1,540.4M406.7,608.1L407.5,608.5M407.8,516.7L409.9,517.4M464.9,705.9L462.0,706.5M431.0,581.5L432.5,583.0M477.2,663.5L476.4,664.6M453.2,601.0L454.1,601.0M452.4,505.1L451.6,506.1M416.0,521.4L417.0,522.2M464.3,585.9L465.5,587.7M430.6,688.4L428.2,688.6M455.0,597.2L454.8,598.1M452.6,600.5L453.5,601.0M497.4,562.8L497.2,565.6M476.0,546.6L474.4,546.6M406.5,637.4L407.9,637.9M500.8,634.6L502.6,634.7M451.4,591.1L453.1,592.4M412.9,544.1L414.0,546.7M413.0,653.1L414.6,654.2M450.7,586.0L449.5,587.1M417.7,507.7L420.3,508.3M479.0,700.4L478.5,701.1M481.4,658.0L480.2,659.5M446.7,584.7L445.6,585.5M466.8,589.7L464.3,590.0M511.8,671.8L512.6,672.8M461.0,538.5L461.5,540.8M511.1,614.5L510.2,615.0M445.2,709.1L446.7,709.9M414.1,499.3L411.3,500.3M479.1,509.0L479.9,510.1M481.9,635.7L482.3,637.6M419.1,604.2L416.7,604.6M416.5,598.3L415.6,599.3M508.4,585.3L507.4,586.7M519.6,659.5L519.3,660.6M456.1,485.4L455.3,488.1M425.7,596.5L425.8,598.2M487.3,694.7L486.1,696.2M516.4,555.3L514.8,556.9M491.8,675.3L493.4,676.7M452.4,633.3L450.2,633.5M407.2,585.8L405.5,587.9M478.3,667.6L481.2,667.8M490.2,619.1L487.6,619.9M417.0,667.2L416.1,668.0M489.5,614.1L491.6,615.6M420.7,620.2L421.0,621.5M468.9,586.6L471.3,588.3M413.3,479.4L413.4,482.0M480.7,652.4L480.8,654.7M443.5,541.0L443.5,541.8M413.1,652.8L415.2,654.0M495.9,572.0L494.5,574.1M503.6,510.6L505.1,511.4M457.4,547.8L459.4,547.8M516.3,563.5L516.1,565.1M455.3,679.3L456.6,681.1M461.1,603.7L460.2,604.0M500.4,548.8L499.2,551.1M480.6,570.1L479.7,570.6M478.0,568.6L477.7,571.3M496.4,624.1L497.1,625.2M456.7,532.3L458.6,534.5M417.6,667.5L418.2,669.0M441.5,497.2L441.7,498.4M457.2,546.7L454.5,547.6M456.6,626.9L455.1,627.3M415.5,534.1L417.4,535.3M448.5,561.5L447.5,562.3M497.6,624.3L498.4,626.8M445.3,681.9L443.4,682.3M485.2,697.3L483.5,699.1M506.0,694.1L503.9,696.2M438.9,622.5L438.1,623.9M451.2,520.1L449.7,520.3M458.6,684.7L461.0,686.3M419.3,485.7L420.0,487.2M511.2,682.5L509.9,683.7M468.1,534.0L466.7,534.9M437.1,626.4L438.4,627.0M510.9,501.6L512.1,502.1M433.3,576.1L434.4,577.2M433.6,534.5L433.1,535.9M447.3,656.5L448.4,656.7M503.3,578.5L502.4,579.2M464.5,673.3L465.8,675.5M476.0,570.7L474.4,570.8M458.8,621.4L460.2,623.6M473.9,613.8L473.5,616.7M518.6,672.5L518.8,674.2M463.9,490.1L466.8,491.1M420.5,694.4L419.0,696.8M414.2,550.1L413.6,550.6M416.7,560.4L417.7,560.9M483.1,501.0L480.9,501.2M410.0,686.1L411.4,687.3M469.3,511.4L469.3,512.4M428.8,690.8L427.1,691.8M482.6,681.0L484.3,681.8M419.6,506.6L420.7,507.0M410.7,528.5L411.5,530.5M504.3,687.2L503.1,688.7M509.2,517.1L511.7,517.9M476.8,527.7L477.4,529.0M454.1,577.2L455.0,579.6M498.3,608.7L498.4,610.1M492.1,706.2L493.9,707.8M484.4,631.3L486.4,631.5M428.5,523.6L428.0,525.8M477.5,650.0L476.4,651.4M411.6,656.9L409.4,658.3M473.4,488.5L474.2,489.1M476.9,604.4L479.3,606.0M517.4,686.1L517.5,687.5M429.4,669.0L428.6,670.1M508.6,610.0L509.0,611.7M488.1,584.3L487.6,585.2M486.4,542.4L485.2,542.8M443.0,602.8L443.6,604.7M512.1,525.5L510.4,527.0M495.3,582.2L495.5,583.7M458.7,538.0L460.2,539.1M427.3,587.2L426.9,588.7M425.2,618.9L424.0,619.4M476.9,631.1L474.7,631.9M441.0,527.3L439.8,528.0M405.8,679.8L407.1,680.6M442.2,538.3L441.2,539.4M456.0,576.2L455.3,576.7M470.7,509.8L472.6,510.8M448.6,493.6L447.8,496.3M480.3,593.1L478.0,594.8M423.8,548.7L421.0,549.0M429.3,641.4L427.4,642.2M485.3,600.1L486.2,600.9M411.1,632.6L413.1,633.6M450.8,580.2L449.2,580.4M459.1,567.0L460.1,567.8M464.9,667.6L467.6,668.4M483.1,491.7L482.1,493.0M464.2,502.3L464.2,504.2M495.7,612.6L494.3,614.6M430.4,485.2L430.5,486.2M421.4,552.9L421.2,555.1M478.4,696.5L480.3,697.1M414.9,633.6L415.1,634.6M440.6,630.5L440.8,633.4M446.9,558.0L444.8,558.5M416.7,659.1L417.9,661.7M479.0,664.8L477.2,665.4M515.6,484.7L516.9,487.0M407.1,634.7L404.8,634.7M504.3,496.6L504.0,498.7M455.5,576.1L454.6,576.8M411.5,616.3L408.9,616.5M482.8,547.7L482.0,547.9M434.2,661.0L432.6,661.5M509.7,505.0L509.4,506.0M431.0,523.7L432.7,523.7M462.7,544.2L462.3,545.0M464.1,600.0L464.9,602.7M419.5,577.4L419.7,579.0M517.0,610.6L516.9,612.4M456.2,698.1L454.4,699.4M423.0,616.4L424.4,617.0M408.7,642.1L406.5,642.3M470.4,536.7L470.7,538.5M452.7,541.2L454.6,542.7M514.7,668.5L514.4,669.3M440.8,673.1L438.8,673.3M469.6,637.0L471.3,638.7M446.8,673.7L447.1,675.9M468.8,601.5L469.1,604.4M491.8,575.2L491.8,577.9M491.4,630.1L490.4,630.3M473.6,622.1L474.0,625.0M516.7,568.7L515.8,571.0M485.7,563.0L484.4,563.9M422.3,632.1L421.5,633.6M463.1,706.7L461.7,707.7M509.5,610.1L510.2,612.2M495.7,685.2L494.5,687.1M451.0,488.7L451.2,489.8M513.8,562.2L513.0,564.5M425.3,671.3L425.8,672.1M474.8,572.3L473.1,572.8M414.9,484.2L416.8,484.3M486.7,491.0L487.6,492.6M509.2,702.8L507.2,703.7M471.3,530.7L470.9,531.8M440.1,669.8L439.6,672.1M458.5,543.2L458.5,545.3M433.4,674.4L432.2,674.5M433.3,666.1L432.4,667.1M473.3,534.3L471.4,535.2M463.5,516.3L464.0,518.1M445.7,520.7L447.6,522.1M511.8,672.9L510.9,675.3M420.6,528.0L420.1,528.6M414.2,658.8L415.1,659.5M449.1,672.4L451.8,672.5M440.0,610.8L440.1,611.9M516.3,519.7L514.1,521.2M456.6,700.7L457.8,701.0M461.4,496.6L459.8,497.7M495.5,545.8L498.2,546.0M428.0,575.5L429.9,576.3M457.6,525.5L459.1,525.7M494.3,514.7L495.9,516.1M478.6,663.8L477.4,666.2M422.3,692.0L423.4,692.1M416.9,656.8L416.9,659.7M517.4,698.3L516.8,699.8M514.2,647.9L515.9,649.1M407.8,482.9L406.8,485.1M502.9,652.7L505.1,653.7M517.8,634.9L517.9,636.4M412.8,623.8L411.8,623.9M498.8,685.3L500.0,687.7M423.2,547.8L422.6,550.5M467.6,500.3L465.6,500.8M494.3,532.4L494.8,533.3M426.2,579.4L426.8,581.6M501.9,556.6L499.8,557.1M445.8,522.3L443.5,522.7M409.6,636.7L410.3,638.3M492.4,530.6L493.7,532.1M510.1,499.2L508.0,500.4M425.8,631.1L425.0,633.3M466.8,551.5L466.8,552.8M456.7,573.2L458.0,573.6M444.8,569.3L444.4,571.7M434.5,607.0L435.1,608.1M422.4,700.5L419.8,701.0M424.0,514.5L425.4,515.0M453.7,480.6L454.3,482.8M499.6,523.7L502.2,523.7M448.1,551.8L449.3,552.5M434.9,538.4L436.3,539.7M498.3,550.2L498.8,552.0M502.5,656.3L501.3,656.3M497.9,546.8L497.4,548.7M470.7,553.9L471.5,554.1M511.6,683.4L511.7,684.4M501.3,594.3L501.5,596.5M424.1,529.6L422.1,530.9M519.5,579.5L516.8,579.8M463.0,685.0L463.8,685.4M498.7,511.3L498.6,513.7M483.5,530.3L482.8,530.9M469.7,685.7L469.5,687.2M520.8,646.3L518.6,648.0M513.3,611.5L511.7,612.5M434.0,543.7L434.6,544.3M476.7,571.9L475.9,572.2M494.7,524.2L495.4,525.5M515.0,628.0L515.2,629.2M411.4,564.4L409.6,564.6M481.9,682.4L483.4,682.6M452.6,530.9L453.5,533.1M419.8,638.8L421.2,640.6M424.6,660.3L425.3,662.8M515.5,613.6L517.1,613.7M517.9,629.3L516.6,630.6M513.5,687.6L512.8,689.6M415.9,481.0L417.8,482.4M502.8,656.9L502.0,657.2M407.2,538.7L409.3,538.8M510.8,686.4L513.0,687.1M482.0,630.6L482.4,631.8M507.5,687.1L506.3,688.6M408.3,543.2L409.3,544.1M430.2,633.1L429.5,634.2M509.7,480.0L507.7,480.3M480.0,543.6L478.4,545.9M429.1,509.9L428.1,510.7M416.6,592.8L417.7,593.5M438.5,498.9L436.8,500.0M481.2,546.2L479.0,548.1M519.7,489.4L520.2,490.2M459.9,630.5L459.3,632.0M516.7,623.5L514.9,623.5M479.3,501.7L479.0,503.9M431.0,623.2L432.6,623.9M474.3,590.1L475.4,590.6M448.0,629.4L448.3,630.6M442.9,550.5L444.8,551.4M457.8,554.9L460.6,554.9M409.4,505.5L411.0,507.5M511.6,653.8L513.8,655.4M407.8,505.5L409.7,506.2M474.5,623.9L472.1,624.3M491.9,519.4L489.2,520.2M500.9,497.8L499.6,499.3M467.7,540.8L465.8,542.4M493.8,549.1L493.2,549.8M482.8,487.0L483.8,487.0M480.0,705.2L480.2,707.4M473.7,673.4L471.1,673.6M443.8,496.3L442.5,496.8M491.7,678.6L492.8,679.3M454.9,673.5L452.3,674.8M437.2,622.9L435.7,623.6M473.3,531.3L471.7,532.0M460.2,629.8L461.6,632.0M458.6,577.9L457.1,579.7M487.3,680.8L485.9,681.7M477.9,678.5L480.1,678.9M465.0,572.5L466.3,573.0M492.5,683.3L490.0,683.4M505.2,669.4L507.2,670.6M504.2,652.1L505.7,653.9M450.6,578.6L449.1,580.4M420.0,627.3L421.3,627.5M499.0,689.1L500.7,690.9M425.8,594.1L426.2,595.0M455.3,606.7L454.4,607.2M437.5,480.5L438.6,481.4M498.6,695.3L500.0,696.5M466.7,592.7L463.8,593.1M409.5,572.7L409.3,575.0M465.1,668.4L466.9,668.9M499.6,518.7L501.4,519.8M421.1,605.2L422.2,605.7M443.8,659.1L443.1,661.1M478.2,571.2L476.1,571.3M476.6,494.7L478.0,496.2M513.7,641.6L516.2,642.0M429.0,616.7L429.8,617.2M494.2,590.6L493.5,592.9M472.8,575.0L473.8,576.6M433.9,539.9L432.6,540.8M487.8,635.0L488.1,637.5M444.1,480.3L441.9,481.4M489.7,690.8L490.2,692.4M474.7,679.6L476.2,681.6M514.5,538.5L515.6,538.5M479.7,529.6L478.7,529.8M508.7,561.2L507.2,561.6M416.9,634.2L418.6,636.5M499.6,537.9L499.6,540.0M494.1,539.8L493.7,541.7M472.4,607.0L472.8,608.6M450.5,708.2L450.4,709.2M450.5,655.8L450.0,656.6M453.1,583.6L451.9,584.3M509.4,667.1L511.3,667.2M466.8,624.9L465.7,625.3M500.9,481.7L499.7,482.4M409.1,666.9L406.9,667.1M493.7,570.5L495.3,572.1M497.7,541.1L498.3,542.4M435.0,679.2L435.9,679.2M426.4,659.3L425.9,661.7M485.1,683.9L484.9,684.7M416.1,574.4L417.5,575.0M437.7,706.1L435.5,706.3M452.6,574.8L454.3,575.2M422.2,601.9L420.8,602.8M487.1,667.1L485.4,667.6M432.3,683.9L432.3,685.3M484.4,678.5L482.8,678.6M435.1,537.0L435.8,538.1M510.3,625.8L511.2,626.0M425.7,701.6L426.9,703.9M431.3,524.9L430.4,525.1M462.0,600.7L463.2,602.8M502.7,532.0L503.8,533.5M460.7,624.9L459.6,625.9M512.3,584.9L514.0,585.0M466.9,521.7L464.9,522.5M464.2,545.1L465.5,545.7M479.0,636.7L478.5,637.4M495.0,639.0L493.9,640.7M503.4,700.5L503.0,702.2M467.9,663.2L466.6,665.3M439.8,617.8L441.3,619.2M407.6,601.7L405.8,603.8M460.5,680.5L461.1,680.9M468.3,558.0L468.9,560.0M491.4,677.4L492.5,679.2M477.7,636.7L477.2,638.5M498.5,484.2L497.6,484.9M425.8,633.7L426.1,635.3M413.7,491.4L414.3,492.2M484.8,525.4L485.4,527.0M486.3,667.2L485.8,668.4M420.3,607.6L421.3,609.8M429.5,638.2L430.1,639.5M425.8,652.5L425.8,654.5M500.8,485.4L500.6,486.9M432.4,670.0L433.6,671.1M454.7,511.4L455.1,512.1M464.0,624.4L461.1,624.4M442.6,701.4L443.7,701.7M466.1,636.6L465.8,637.4M451.5,592.1L452.3,594.4M490.5,498.7L490.7,501.0M496.9,632.4L494.4,632.6M450.6,671.1L449.9,673.0M473.8,652.4L472.7,653.8M496.5,575.8L494.6,577.9M466.5,513.9L465.3,514.2M429.1,489.7L429.5,491.3M498.6,518.4L499.6,520.7M406.6,574.4L408.8,575.5M438.8,512.2L440.0,512.7M485.2,506.6L486.5,506.7M410.5,647.4L409.1,648.8M443.8,488.5L443.0,489.5M467.3,706.4L469.0,708.0M455.0,601.6L455.7,603.9M465.4,487.1L464.3,487.8M445.7,589.1L445.0,591.4M419.0,567.2L418.3,568.9M434.1,662.9L431.9,663.2M466.4,514.3L466.6,516.8M441.2,579.9L441.4,581.4M477.2,547.8L474.6,548.5M439.1,495.2L441.7,495.4M452.4,507.4L454.9,507.8M428.2,690.8L429.2,692.7M444.2,630.4L445.5,631.0M419.4,493.1L418.8,496.0M405.4,681.6L406.1,682.5M407.7,560.2L409.5,560.8M458.7,518.1L456.8,518.8M493.1,534.4L491.6,536.2M494.9,522.5L493.1,522.8M413.4,690.9L415.0,693.2M428.9,495.7L428.8,497.7M482.0,626.3L483.0,628.5M464.4,512.5L464.0,514.0M467.2,515.9L468.2,516.9M481.1,484.6L481.5,486.2M505.5,507.0L505.4,509.5M451.3,699.2L452.6,700.6M438.9,544.5L441.3,545.0M480.2,671.8L480.3,673.0M481.1,694.2L480.8,695.6M466.0,675.8L464.2,676.9M489.9,487.2L490.7,487.5M455.5,592.6L458.1,592.7M469.2,648.1L466.7,648.4M491.0,625.6L490.8,628.0M495.5,548.3L494.5,549.0M465.1,690.8L467.3,692.5M460.3,647.6L461.1,648.0M434.8,616.6L432.9,617.3M465.1,566.2L465.1,568.5M505.1,559.0L504.3,560.3M433.8,491.6L434.4,493.7M464.2,582.5L462.9,583.7M485.2,607.7L483.7,608.0M455.1,655.6L456.6,657.6M442.4,514.4L442.2,516.4M441.1,542.8L439.2,542.8M486.8,575.9L486.6,577.3M424.8,671.0L424.0,672.2M450.7,608.5L452.8,609.0M519.4,637.0L519.5,638.1M467.8,612.6L466.2,614.9M436.9,504.0L435.0,504.2M508.1,618.7L506.1,619.3M489.7,625.7L487.3,626.1M516.5,575.3L517.5,576.1M458.0,607.2L457.0,608.7M515.0,573.2L516.9,573.2M481.0,535.2L480.2,536.1M510.0,582.4L507.9,582.7M489.6,526.7L486.9,527.8M421.0,612.6L423.4,613.9M505.1,689.1L503.8,690.2M476.7,493.2L478.6,493.8M489.8,547.6L490.7,547.6M444.1,565.3L441.8,565.9M507.2,652.8L505.7,654.8M430.8,653.3L430.2,655.5M463.1,582.3L460.9,583.5M427.2,677.2L427.1,678.2M495.7,681.6L496.0,683.3M436.2,523.8L436.0,525.5M479.1,630.6L481.2,632.0M456.0,573.1L457.8,574.3M483.8,659.5L482.5,660.3M467.7,621.0L468.0,621.7M488.7,685.4L488.9,688.3M410.6,613.3L411.3,615.4M445.9,644.9L447.0,645.8M452.0,574.7L452.7,577.5M463.2,608.7L465.0,609.4M493.6,641.5L491.5,641.8M449.2,680.2L446.2,680.4M417.6,635.2L418.8,635.9M494.5,680.2L494.1,681.7M460.4,550.4L461.3,551.3M513.0,693.7L515.3,695.2M490.4,646.0L491.8,647.4M499.2,641.1L498.3,641.3M442.7,563.8L443.5,566.7M516.9,670.2L515.7,672.4M503.2,527.8L502.0,530.6M423.6,581.2L424.7,583.6M457.8,510.7L458.7,512.8M468.3,485.9L467.1,486.7M409.6,622.9L408.5,624.7M416.2,484.0L415.0,485.5M405.4,608.6L407.2,609.0M486.3,530.7L487.0,533.0M435.6,622.6L437.9,623.0M433.4,579.4L430.9,579.5M425.9,662.7L426.5,664.4M438.0,519.9L436.4,520.0M427.9,664.3L429.5,664.8M419.2,487.9L417.3,488.0M479.9,513.4L480.3,514.3M503.3,481.5L500.5,482.1M427.5,545.8L428.2,546.3M460.5,600.6L458.8,601.2M424.7,578.5L425.4,578.9M448.2,671.1L451.0,671.8M501.9,707.9L501.5,709.3M493.7,512.9L493.5,515.5M465.6,655.2L467.9,656.7M422.7,555.3L421.9,558.0M419.3,543.8L418.3,544.7M451.5,521.5L449.0,521.5M449.3,708.5L447.9,709.0M413.9,644.2L413.4,645.5M407.1,545.6L404.9,546.1M481.0,639.3L482.8,641.4M459.7,692.1L458.9,694.3M506.2,704.6L504.4,706.8M451.9,552.0L453.0,553.1M507.6,554.8L508.3,555.5M487.6,693.9L487.9,695.0M492.4,674.3L493.0,676.1M448.7,601.9L447.3,604.4M443.7,700.6L443.1,702.3M502.2,533.6L501.8,536.4M501.0,676.8L500.8,679.1M496.1,536.3L493.5,536.6M461.5,617.6L460.7,617.7M435.3,681.7L437.6,682.1M438.6,536.1L440.0,536.3M448.0,629.6L446.2,630.8M423.3,600.5L422.0,600.8M484.7,529.9L485.8,531.6M499.9,603.2L501.6,604.4M411.2,647.7L410.9,649.2M477.1,561.0L477.1,563.1M498.3,524.0L495.6,524.3M425.8,688.5L427.6,690.5M430.5,677.8L428.6,678.6M483.5,652.9L482.8,654.3M493.7,686.4L493.4,689.1M447.0,582.4L446.2,583.7M495.1,662.6L496.4,663.6M505.1,598.5L507.7,598.8M427.2,587.3L424.8,588.0M490.3,483.5L491.0,484.3M516.7,528.7L518.8,529.8M495.0,643.5L494.7,646.2M474.4,488.4L473.7,488.8M519.5,612.9L519.0,614.1M504.2,562.7L504.0,563.6M482.9,672.5L482.0,674.9M471.0,607.5L470.0,608.1M451.1,663.9L449.2,665.9M489.1,633.8L488.6,635.0M493.4,667.6L494.6,668.6M454.2,648.8L455.2,649.0M511.0,656.2L511.4,657.3M405.9,514.9L405.0,515.2M503.3,520.9L502.2,521.7M486.1,656.5L486.0,657.9M462.9,536.2L461.1,536.4M470.6,552.5L471.2,555.2M508.6,670.5L505.6,671.0M405.4,546.2L408.0,546.9M421.2,662.0L422.2,662.7M441.9,685.0L442.7,685.9M495.2,538.6L494.7,540.4M485.9,593.3L486.7,594.0M501.0,531.3L502.4,532.8M513.6,562.6L514.4,563.9M457.7,689.5L457.2,691.4M441.0,556.9L441.4,559.5M507.7,666.5L509.9,668.3M439.8,554.6L439.9,555.6M463.0,697.2L465.7,698.3M452.1,537.3L452.0,538.3M442.7,654.3L444.1,656.3M438.2,652.3L436.8,653.9M457.1,531.5L458.9,532.2M444.2,673.9L445.1,674.3M444.2,605.2L442.7,606.8M434.7,497.7L434.2,498.6M496.1,623.4L494.5,623.9M456.6,626.7L459.1,627.5M472.6,638.5L474.0,638.9M421.8,553.6L422.8,556.3M458.7,608.7L459.1,610.4M412.9,635.4L413.0,636.6M492.6,484.2L490.8,485.0M500.3,594.6L502.0,595.4M428.8,606.4L431.1,606.5M495.9,608.0L496.9,610.0M451.1,702.1L449.4,702.6M498.7,536.1L496.4,536.6M404.7,626.8L405.5,628.9M419.4,559.0L417.4,559.4M462.9,635.0L463.9,635.4M451.4,560.7L451.6,562.7M415.5,545.5L413.4,546.9M477.8,491.0L477.3,491.9M429.7,538.2L428.2,538.3M440.5,501.5L441.2,504.0M443.9,576.9L445.0,577.3M418.5,671.1L416.8,671.9M471.3,569.5L470.5,570.5M444.4,645.4L445.8,648.1M458.5,478.7L458.6,481.4M425.7,580.2L425.2,582.9M405.5,645.1L407.8,645.7M512.2,626.1L513.6,626.2M459.2,685.8L459.4,687.1M492.0,648.8L489.8,648.9M493.0,682.3L493.7,682.8M500.5,623.0L498.1,624.0M419.9,542.2L418.1,543.1M494.8,688.5L496.1,688.6M413.0,530.9L413.9,533.5M429.7,591.5L430.4,594.4M482.2,574.8L483.5,575.2M418.9,707.7L419.6,708.7M408.9,514.7L408.3,516.5M471.1,645.1L472.9,646.3M472.4,704.3L472.8,705.5M431.6,642.7L430.4,643.5M499.7,693.8L500.0,694.7M512.1,538.3L510.5,538.3M461.7,583.3L463.2,583.7M414.2,591.4L416.2,592.2M467.8,691.2L466.0,692.4M497.3,570.9L495.5,572.1M501.2,679.8L499.7,682.2M406.5,693.7L406.6,695.6M432.0,552.6L431.7,554.1M404.6,557.8L407.2,559.2M416.6,644.7L414.4,646.7M489.9,646.1L488.9,648.7M503.0,596.2L500.9,596.5M452.5,546.2L451.8,548.1M440.4,587.4L441.1,590.1M419.1,495.6L419.1,497.6M408.0,582.2L409.2,582.7M493.2,483.8L494.7,484.9M499.5,659.1L499.4,661.1M498.8,603.6L497.4,604.7M418.5,691.1L420.1,692.4M482.4,593.3L482.8,594.1M455.6,497.2L455.4,499.0M413.0,562.1L413.3,563.4M514.0,548.3L514.9,548.5M411.5,579.3L413.3,579.5M511.8,538.7L510.7,540.3M424.2,580.2L425.9,580.3M416.8,506.1L417.0,507.7M425.5,514.6L427.3,516.8M515.0,551.0L516.8,551.1M507.8,535.5L506.1,535.6M435.5,497.0L436.7,498.5M438.9,567.6L437.7,569.0M414.9,500.4L413.9,500.9M451.2,638.3L449.3,638.4M491.8,621.1L490.3,622.2M430.2,604.0L429.8,605.1M472.6,584.5L473.3,586.2M447.9,563.9L446.4,564.0M458.8,479.9L460.3,482.0M464.1,636.9L461.8,637.5M513.3,678.1L515.1,679.4M408.7,626.3L406.4,627.0M507.3,611.1L506.3,611.9M436.3,499.7L438.6,500.7M416.0,656.7L417.8,658.6M516.6,488.5L516.0,490.7M458.1,484.2L458.1,486.6M465.1,516.2L465.0,517.0M425.2,556.3L425.3,557.9M434.2,695.0L435.3,695.4M492.1,552.8L489.7,553.9M462.5,624.7L463.4,627.0M516.2,622.6L517.3,625.2M406.3,653.5L405.0,653.6M477.8,503.4L478.7,506.1M414.5,523.1L415.5,523.6M431.1,699.1L430.5,700.9M498.4,631.3L496.9,631.4M465.3,687.2L466.9,689.5M448.4,583.8L448.8,584.8M446.4,642.0L444.6,643.0M412.2,613.8L411.2,615.7M434.8,493.4L434.7,494.7M498.7,677.0L501.1,677.5M456.7,577.5L457.1,580.1M416.5,696.4L414.8,696.9M517.7,663.5L516.6,665.1M487.8,612.2L486.8,613.0M452.5,541.4L454.9,541.4M475.8,534.4L473.8,535.8M492.3,613.8L493.6,615.6M435.3,602.2L433.7,603.3M504.1,668.8L504.3,670.4M435.6,586.8L438.1,587.5M432.4,497.1L433.9,497.7M442.8,621.7L443.4,622.8M459.8,596.0L459.7,597.6M467.3,705.1L468.3,707.2M454.2,642.6L455.0,645.1M519.3,642.9L518.6,643.6M482.7,638.8L484.9,639.9M499.3,690.5L499.6,691.7M428.3,481.5L428.2,484.4M446.5,599.9L448.7,600.9M446.8,545.1L444.9,546.3M470.0,644.0L472.2,644.9M470.4,622.5L471.4,624.0M415.6,584.2L415.8,586.3M461.8,619.2L461.4,622.2M424.2,628.0L422.4,629.9M425.5,538.4L424.2,540.1M442.0,667.2L442.3,668.5M459.9,528.1L457.8,530.2M486.7,612.1L489.5,613.0M505.6,670.5L504.9,671.2M441.7,591.2L441.3,592.4M507.5,592.2L505.7,594.3M434.5,524.1L434.3,525.2M409.3,487.3L407.2,488.9M449.4,587.0L449.1,588.4M443.0,568.0L444.6,569.8M467.7,505.4L470.0,506.1M461.2,676.6L459.9,678.3M434.2,619.2L434.5,621.7M435.8,706.8L432.9,707.2M449.1,523.4L449.5,525.9M479.0,482.1L481.2,484.0M466.7,494.7L466.1,497.1M509.9,506.2L509.2,507.0M477.9,604.6L479.1,604.7M453.9,642.6L452.5,642.7M436.7,637.5L437.0,639.5M502.7,652.2L503.1,653.7M485.0,617.5L484.0,619.1M489.7,533.4L488.3,534.3M454.3,490.9L452.6,491.9M477.0,555.5L479.0,555.9M464.2,524.1L463.4,524.6M502.1,689.6L504.8,690.5M512.7,560.0L513.3,562.5M410.9,667.6L413.1,667.7M410.9,583.4L409.7,584.9M445.9,540.6L447.3,541.0M428.9,533.9L430.1,534.4M452.3,502.7L451.3,503.8M495.1,608.3L493.6,610.2M444.8,636.4L447.4,636.7M487.5,692.0L488.1,693.0M489.9,521.2L488.5,521.7M503.3,496.1L504.8,498.1M413.4,646.4L414.1,648.3M426.5,535.3L424.3,536.2M417.5,498.7L418.7,499.1M436.7,599.7L438.3,602.1M414.6,593.6L413.6,595.9M459.2,624.5L460.5,625.1M503.8,484.0L503.4,486.8M512.0,523.9L510.1,524.0M420.1,665.4L419.8,668.4M419.1,673.4L419.6,674.2M424.5,657.9L422.1,658.5M480.2,577.4L481.2,578.7M412.3,511.2L414.4,513.2M510.3,544.3L509.2,544.4M481.2,504.3L480.5,507.2M490.3,636.0L489.0,638.3M462.7,684.1L461.1,685.9M432.7,661.5L431.8,661.6M457.2,638.4L455.1,639.9M442.5,587.1L440.4,589.2M419.0,483.4L418.3,483.8M413.3,563.9L416.1,564.0M408.1,496.2L408.1,497.9M489.8,678.7L492.7,678.9M412.4,564.7L413.2,565.5M413.7,663.8L414.5,665.1M507.0,569.6L508.0,570.1M446.8,493.3L446.0,494.7M481.7,580.9L484.6,581.4M490.1,614.0L492.1,615.0M465.1,643.1L467.3,643.6M514.5,664.6L513.9,665.7M476.4,636.0L478.4,638.0M437.7,493.4L437.9,496.2M485.3,538.5L486.2,541.1M512.8,582.6L512.8,584.0M481.9,683.6L483.2,685.9M463.1,638.3L461.6,639.9M424.4,702.1L425.6,702.3M417.6,633.6L418.0,636.5M423.9,500.1L425.3,500.1M498.5,561.8L498.4,563.2M436.6,648.0L438.6,648.0M513.3,551.2L513.4,553.4M438.7,524.2L438.0,524.5M431.2,589.7L432.1,589.9M505.3,663.4L505.1,666.3M499.2,648.0L500.2,650.2M444.3,559.8L445.0,560.2M497.3,658.1L495.8,658.9M485.0,617.2L486.2,618.5M417.9,668.6L417.4,669.3M484.5,642.4L487.5,642.9M518.8,591.8L519.1,592.6M492.7,646.9L493.4,647.4M450.8,662.2L451.9,663.9M484.1,521.3L483.8,522.4M498.0,589.5L496.3,590.0M450.9,580.2L451.4,582.7M439.8,483.0L439.3,484.0M422.5,557.9L422.6,559.2M510.6,550.4L509.2,550.7M406.5,672.5L406.7,673.3M475.8,659.3L476.5,661.5M519.7,541.8L518.6,544.5M437.5,671.6L439.7,672.3M466.4,650.8L466.3,653.1M417.2,677.8L417.0,680.1M493.6,595.3L491.4,596.3M435.2,499.7L433.4,501.8M444.4,552.6L442.8,555.0M475.8,497.1L475.8,499.0M428.3,626.9L427.9,628.6M475.8,506.8L474.3,507.2M444.1,681.9L443.3,684.8M496.6,651.2L494.3,651.5M412.1,607.1L412.2,609.1M518.4,704.7L516.8,706.8M405.3,582.6L405.5,583.9M512.3,485.7L509.7,487.1M443.8,485.7L444.0,486.7M513.5,599.4L515.4,600.8M463.1,606.4L465.4,608.2M507.0,683.2L504.6,684.7M431.6,657.7L432.0,658.9M486.4,596.5L487.7,597.9M452.3,612.8L450.5,614.5M436.3,561.6L438.5,563.5M517.5,531.9L518.2,533.7M418.3,626.9L417.7,628.0M439.1,635.1L438.1,635.2M489.1,678.5L487.0,680.7M435.1,523.6L433.3,523.8M483.9,601.9L483.7,602.7M413.1,499.8L412.2,500.2M448.3,509.3L447.3,511.3M497.5,650.0L496.6,650.8M456.2,701.4L456.8,704.0M468.3,552.0L467.4,552.3M479.3,655.0L478.5,655.5M475.9,551.5L475.4,552.3M458.5,592.0L459.5,593.1M489.4,610.7L490.0,612.4M477.5,616.6L476.0,619.0M517.3,510.5L517.4,512.5M418.7,540.4L420.2,541.3M444.2,497.4L442.8,499.4M430.4,515.9L431.7,517.9M419.1,642.0L417.8,642.2M431.9,615.1L430.8,615.7M411.6,576.9L412.0,577.9M497.7,494.1L497.0,495.3M417.5,566.9L418.0,568.4M477.5,586.9L478.2,588.0M474.4,674.6L473.2,675.2M483.1,559.1L482.7,559.9M493.9,575.5L492.0,577.4M420.5,673.0L419.2,673.2M479.3,679.4L481.5,679.7M439.7,589.7L441.2,590.6M507.6,542.9L507.9,543.9M447.1,525.8L447.9,527.3M465.8,622.5L465.5,623.3M462.2,708.0L460.2,708.9M483.5,555.6L484.8,555.7M512.5,569.9L512.6,571.4M406.2,606.1L408.7,606.7M470.6,506.5L471.3,507.1M423.3,546.3L423.9,547.8M410.7,695.1L411.5,697.9M427.0,634.5L425.5,635.2M491.1,540.5L490.4,541.4M502.0,692.3L502.9,693.4M487.2,554.8L486.7,556.4M512.8,622.5L511.0,623.3M472.1,664.6L469.9,665.7M455.4,625.4L454.6,626.3M418.0,620.6L419.6,622.4M406.2,637.8L407.1,637.9M423.5,559.2L425.5,560.0M503.3,620.5L505.5,622.1M518.1,573.2L516.0,573.5M404.1,486.8L406.7,488.2M428.1,684.0L426.2,686.2M479.4,535.8L478.8,536.3M444.9,559.3L443.6,560.4M420.5,509.3L421.9,510.2M466.5,480.2L464.4,480.4M435.8,620.2L434.7,620.2M413.7,537.4L413.0,540.1M468.1,503.0L466.4,505.3M482.0,524.7L481.4,526.7M479.3,552.6L479.0,554.3M490.8,512.2L489.1,514.4M453.1,539.2L454.2,540.3M475.5,599.3L477.1,600.3M431.0,529.7L432.0,531.8M455.6,534.7L456.8,534.8M473.4,625.7L474.5,626.7M482.6,502.3L481.9,504.1M436.8,609.1L438.5,609.9M446.4,520.8L447.1,523.5M502.4,597.2L500.5,598.6M460.2,530.5L461.2,531.8M417.5,613.3L417.5,615.6M409.2,688.3L408.2,690.1M438.4,644.0L440.7,645.7M425.8,592.6L427.6,594.9M430.7,615.9L433.4,616.6M511.5,640.0L512.8,640.4M421.0,574.2L420.2,574.6M415.8,564.7L415.8,565.9M456.9,664.5L457.1,666.2M487.9,638.5L488.4,641.2M491.8,646.1L491.5,647.3M490.1,651.0L489.4,653.0M467.1,639.7L468.3,641.1M510.4,689.6L509.9,690.3M457.9,493.4L455.8,494.1M489.7,617.2L491.5,618.0M498.8,526.3L498.0,527.1M435.3,584.6L436.9,584.8M465.9,600.7L463.5,601.5M434.0,685.7L433.4,688.2M415.9,573.9L416.8,575.6M507.6,494.6L508.3,495.5M491.8,594.0L491.7,596.1M428.0,610.8L427.1,613.3M430.4,592.1L430.4,593.0M496.2,526.2L495.3,527.2M492.0,698.2L493.3,698.5M489.3,538.0L490.5,539.2M485.4,675.0L484.9,676.1M460.6,490.5L459.5,492.6M428.0,485.8L426.7,488.0M513.1,484.5L510.8,485.3M428.7,491.0L427.9,491.4M455.4,560.7L455.1,561.7M467.9,648.0L468.2,648.9M475.1,553.9L473.7,554.2M425.1,594.7L425.5,595.6M474.6,547.8L473.5,548.0M419.0,597.6L417.0,599.6M485.3,688.9L485.3,691.4M452.6,594.1L451.9,594.7M487.0,591.9L485.7,593.2M407.3,637.5L409.5,637.6M506.4,601.8L507.2,604.1M427.4,687.4L430.2,687.7M409.2,683.6L409.6,685.5M440.5,649.3L439.4,649.4M467.1,513.3L466.4,513.9M443.3,529.5L442.5,530.4M505.7,664.7L508.4,665.8M506.1,649.0L505.2,650.1M433.7,552.1L431.1,552.2M425.2,533.9L424.3,535.5M434.1,509.7L435.1,510.8M435.7,549.0L434.8,551.3M471.1,555.1L471.9,555.6M519.6,526.6L519.0,528.0M416.1,634.3L415.9,635.1M479.8,690.1L480.5,691.8M515.9,645.8L514.3,646.6M495.4,554.3L496.7,555.1M434.3,540.9L433.3,541.1M491.5,545.3L492.4,548.2M473.0,627.6L472.2,628.1M445.2,503.1L443.2,504.1M501.6,609.4L503.5,609.8M502.9,696.9L502.1,697.3M509.8,592.8L509.4,593.7M518.2,646.1L517.7,648.7M447.9,559.0L448.6,559.9M492.0,611.2L490.8,613.4M455.2,588.4L455.2,589.7M507.8,653.5L508.7,654.5M503.3,539.1L503.6,540.4M460.6,512.1L461.1,512.9M476.6,622.1L478.4,624.2M515.1,696.8L516.8,698.6M487.9,506.8L488.7,509.4M475.0,492.1L476.8,492.6M510.7,663.8L509.2,663.9M429.8,658.6L430.3,661.4M483.5,551.7L482.6,551.8M515.1,692.0L514.8,693.0M428.5,491.5L428.5,492.5M500.6,597.2L499.2,597.8M458.5,599.9L459.6,600.0M477.6,524.0L475.3,525.1M433.4,604.0L432.7,604.9M482.7,489.0L484.9,489.0M451.7,624.2L454.2,625.4M450.8,661.8L449.5,662.4M427.7,570.1L427.5,573.1M456.6,518.4L454.4,520.0M510.8,682.8L511.8,684.1M434.5,663.1L433.0,663.7M473.3,487.4L475.3,487.7M435.6,564.6L438.3,565.8M497.1,677.0L497.7,677.9M420.8,690.2L420.9,691.5M508.9,683.1L511.0,684.6M424.5,504.1L426.3,505.5M457.9,566.6L457.0,567.4M493.6,647.0L494.1,647.7M438.4,553.4L439.2,553.5M488.7,480.2L487.9,480.2M443.3,611.2L442.1,611.6M432.2,706.0L431.7,706.9M491.7,507.8L492.2,510.1M437.8,676.9L438.9,677.1M480.9,705.9L479.9,707.9M481.2,566.5L482.1,568.7M415.3,705.0L415.3,706.5M429.5,641.1L428.2,642.0M445.0,589.2L447.5,590.6M411.5,642.1L409.4,643.3M411.1,528.7L413.6,528.7M479.1,701.4L481.5,702.2M445.5,632.2L444.1,632.3M485.8,505.0L487.5,505.2M421.1,651.9L420.9,653.2M418.8,586.2L416.8,587.3M504.4,584.1L503.1,584.8M520.4,566.6L518.1,567.6M473.2,563.5L474.5,564.7M505.2,630.7L504.4,632.1M440.5,646.7L441.5,647.1M467.6,692.5L468.7,692.5M472.4,563.9L470.8,565.2M469.8,489.1L470.5,490.3M458.2,531.9L460.8,532.0M457.3,572.2L458.0,572.8M433.9,660.1L431.6,661.1M506.8,692.4L506.6,693.9M420.0,672.0L420.7,674.0M429.1,570.1L430.8,570.2M418.9,589.5L416.6,589.6M442.8,501.9L445.0,502.6M405.2,708.5L406.7,710.2M430.4,644.8L428.6,646.9M494.4,599.5L493.0,600.4M414.9,496.0L416.5,496.6M458.5,686.9L456.2,688.7M425.6,490.8L425.3,492.5M478.4,678.0L476.9,679.8M407.5,653.1L410.2,653.6M440.6,550.6L441.5,553.3M440.5,654.7L439.5,654.8M463.9,495.4L465.2,495.9M517.7,662.7L520.6,662.8M466.8,481.1L466.3,482.6M472.3,706.8L473.7,707.4M464.0,647.2L466.3,648.8M449.1,483.4L447.5,483.5M422.5,616.1L421.4,617.1M438.2,619.4L437.0,621.0M481.3,656.8L483.8,658.2M493.1,598.9L494.6,599.2M474.3,614.3L476.2,615.8M409.1,689.8L411.1,691.8M471.7,517.8L472.8,518.6M410.9,570.3L410.9,571.3M445.7,630.9L443.7,632.3M410.9,565.6L411.7,566.9M516.9,611.6L516.3,612.8M446.4,679.8L445.1,682.0M471.6,492.3L470.5,492.5M430.5,570.5L429.7,572.4M461.9,641.5L463.1,641.8M440.7,651.9L440.7,653.2M487.5,556.7L486.5,557.4M406.3,659.1L408.8,660.2M472.8,581.9L475.3,582.4M406.8,621.3L407.8,623.2M414.5,598.8L414.7,599.7M406.5,530.1L406.3,530.9M417.6,512.3L416.8,515.1M425.9,592.4L427.1,592.9M425.1,628.4L424.8,631.2M482.8,495.1L481.2,495.3M499.8,702.2L500.0,704.8M494.9,492.7L493.9,495.0M501.3,484.9L501.1,486.6M511.6,497.6L512.5,499.1M466.4,537.1L468.3,538.5M512.7,555.7L512.3,557.3M428.7,702.5L427.2,705.1M511.8,592.7L510.6,594.4M517.0,489.9L516.9,492.6M451.4,488.6L452.1,490.6M514.3,520.3L515.3,521.2M426.9,574.3L425.2,575.1M438.1,696.2L438.2,697.4M494.2,514.6L493.8,515.4M468.6,653.3L469.7,654.5M489.2,649.6L487.9,650.8M512.9,598.6L513.2,599.6M491.4,582.5L489.2,584.4M441.9,569.1L440.2,571.2M510.5,564.9L512.1,566.4M498.1,677.8L499.3,679.0M467.1,536.7L469.0,537.2M434.0,608.9L435.0,610.5M510.5,503.7L511.0,504.4M479.2,675.3L476.6,676.6M428.1,507.7L427.0,509.9M504.6,633.9L506.0,634.8M469.6,651.7L467.1,653.0M511.8,629.6L511.0,631.2M486.7,565.0L485.3,565.5M465.4,556.7L465.2,559.0M434.4,584.1L434.1,586.3M472.7,646.1L474.4,646.7M462.7,675.2L462.1,676.3M433.7,509.8L434.8,510.6M483.6,573.6L481.9,574.3M497.7,631.1L496.2,631.6M442.8,676.3L442.0,677.9M499.2,530.2L500.9,531.4M496.2,573.1L498.3,573.1M507.4,618.5L508.9,618.5M519.9,547.3L519.2,548.3M477.2,594.9L480.2,595.4M428.4,591.9L430.0,593.6M431.1,502.9L428.4,504.2M427.4,685.5L430.2,686.1M419.1,518.5L417.8,520.0M458.7,658.4L456.1,658.7M430.3,672.1L427.9,672.4M476.9,707.9L477.5,710.7M494.2,653.1L494.4,654.6M499.8,557.3L501.0,557.8M488.0,490.2L490.2,490.8M456.2,497.1L457.9,497.7M500.2,499.0L499.4,499.2M514.8,548.8L515.3,550.6M451.2,544.4L451.4,546.3M469.3,568.0L471.1,569.2M408.2,505.2L409.2,506.9M414.7,697.7L413.6,699.2M469.0,557.3L471.8,557.5M463.2,686.7L463.6,687.8M480.3,705.4L482.0,706.4M410.1,613.1L410.4,614.7M509.3,588.9L509.9,591.4M510.3,517.2L513.0,518.4M487.1,656.5L484.2,656.7M473.6,525.0L472.6,526.4M479.1,585.2L479.4,587.2M489.3,575.6L488.7,576.2M413.9,625.5L415.6,627.7M454.2,645.4L455.7,647.1M481.2,595.0L480.2,595.7M461.9,539.1L460.2,541.5M496.3,597.2L497.6,597.2M422.0,532.8L419.5,533.2M466.0,501.4L467.6,502.8M494.8,646.8L494.0,649.5M460.8,497.3L461.5,498.4M507.0,670.7L506.3,672.0M500.9,521.8L499.4,522.3M437.8,575.2L435.8,576.5M506.5,485.3L504.8,485.4M515.4,650.2L515.4,652.1M505.6,681.1L506.6,683.8M518.6,631.3L520.0,632.1M460.1,480.6L459.7,482.1M508.2,549.2L511.2,549.7M500.2,626.2L500.4,628.0M465.9,546.6L464.9,546.9M473.3,488.2L472.0,488.6M427.3,659.5L428.8,660.0M409.7,551.7L412.2,552.5M429.8,565.7L428.9,566.2M485.0,485.9L483.9,486.3M502.4,555.8L500.9,557.7M450.9,525.0L451.0,527.1" stroke="#1a1a1a" stroke-width="0.95" clip-path="url(#cnb)"/>
<path d="M507.38,482.76 L508.54,483.23 L509.58,483.94 L510.51,484.88 L511.34,486.00 L512.07,487.28 L512.72,488.69 L513.28,490.20 L513.76,491.77 L514.16,493.38 L514.51,494.99 L514.79,496.58 L515.01,498.16 L515.17,499.73 L515.29,501.28 L515.36,502.81 L515.38,504.34 L515.36,505.85 L515.31,507.35 L515.22,508.85 L515.10,510.34 L514.96,511.82 L514.79,513.30 L514.61,514.77 L514.40,516.24 L514.19,517.71 L513.96,519.18 L513.72,520.65 L513.46,522.11 L513.20,523.58 L512.92,525.04 L512.63,526.51 L512.34,527.97 L512.03,529.43 L511.71,530.89 L511.39,532.34 L511.05,533.80 L510.71,535.26 L510.36,536.71 L510.00,538.17 L509.63,539.62 L509.26,541.07 L508.88,542.53 L508.49,543.98 L508.10,545.43 L507.70,546.88 L507.30,548.33 L506.89,549.78 L506.48,551.23 L506.07,552.68 L505.65,554.13 L505.23,555.58 L504.81,557.03 L504.38,558.48 L503.95,559.92 L503.53,561.37 L503.10,562.82 L502.67,564.27 L502.24,565.72 L501.81,567.17 L501.38,568.62 L500.95,570.07 L500.53,571.52 L500.10,572.97 L499.68,574.42 L499.26,575.87 L498.84,577.32 L498.41,578.77 L497.99,580.22 L497.56,581.66 L497.13,583.11 L496.69,584.55 L496.24,585.99 L495.79,587.43 L495.33,588.86 L494.86,590.29 L494.37,591.71 L493.88,593.13 L493.37,594.55 L492.84,595.95 L492.30,597.36 L491.74,598.75 L491.16,600.14 L490.57,601.53 L489.95,602.90 L489.31,604.27 L488.66,605.62 L487.98,606.97 L487.28,608.30 L486.57,609.63 L485.83,610.94 L485.08,612.24 L484.30,613.52 L483.51,614.79 L482.70,616.04 L481.87,617.27 L481.02,618.49 L480.15,619.69 L479.26,620.87 L478.36,622.03 L477.44,623.17 L476.49,624.29 L475.54,625.39 L474.56,626.46 L473.57,627.51 L472.55,628.53 L471.52,629.53 L470.48,630.50 L469.42,631.44 L468.34,632.36 L467.25,633.27 L466.14,634.15 L465.03,635.03 L463.90,635.89 L462.77,636.75 L461.63,637.61 L460.49,638.47 L459.35,639.34 L458.20,640.22 L457.05,641.11 L455.90,642.01 L454.76,642.94 L453.62,643.88 L452.49,644.86 L451.36,645.86 L450.25,646.90 L449.14,647.98 L448.05,649.10 L446.96,650.26 L445.90,651.48 L444.85,652.74 L443.82,654.06 L442.80,655.44 L441.81,656.88 L440.84,658.39 L439.90,659.96 L438.98,661.61 L438.09,663.33 L437.21,665.10 L436.36,666.92 L435.53,668.79 L434.73,670.69 L433.94,672.63 L433.16,674.58 L432.41,676.55 L431.67,678.52 L430.94,680.49 L430.23,682.46 L429.53,684.41 L428.84,686.33 L428.16,688.23 L427.49,690.09 L426.83,691.90 L426.17,693.66 L425.52,695.36 L424.88,696.99 L424.24,698.55 L423.60,700.02 L422.96,701.41 L422.32,702.69 L421.68,703.88 L421.04,704.95 L420.39,705.90 L419.74,706.72 L419.09,707.41 L418.43,707.96 L417.76,708.36 L417.08,708.60 L416.39,708.67 L415.69,708.58 L414.98,708.31 L414.25,707.85 L413.52,707.20 L412.82,706.38 L412.17,705.40 L411.62,704.29 L411.16,703.05 L410.80,701.71 L410.52,700.28 L410.32,698.77 L410.19,697.20 L410.13,695.58 L410.13,693.93 L410.18,692.26 L410.27,690.60 L410.41,688.95 L410.59,687.32 L410.81,685.72 L411.07,684.14 L411.37,682.59 L411.72,681.07 L412.12,679.58 L412.56,678.12 L413.06,676.70 L413.61,675.30 L414.21,673.95 L414.87,672.63 L415.59,671.35 L416.37,670.11 L417.21,668.90 L418.11,667.74 L419.08,666.63 L420.11,665.55 L421.18,664.50 L422.29,663.47 L423.41,662.45 L424.54,661.44 L425.67,660.41 L426.77,659.37 L427.84,658.31 L428.89,657.22 L429.90,656.11 L430.88,654.98 L431.84,653.82 L432.77,652.65 L433.68,651.46 L434.56,650.25 L435.41,649.02 L436.25,647.78 L437.06,646.52 L437.86,645.25 L438.63,643.97 L439.39,642.67 L440.13,641.36 L440.86,640.04 L441.57,638.72 L442.26,637.38 L442.95,636.04 L443.62,634.69 L444.28,633.34 L444.93,631.98 L445.57,630.62 L446.21,629.26 L446.83,627.89 L447.45,626.52 L448.06,625.15 L448.67,623.77 L449.26,622.39 L449.85,621.01 L450.43,619.63 L451.01,618.24 L451.58,616.85 L452.14,615.46 L452.69,614.06 L453.24,612.66 L453.79,611.27 L454.33,609.86 L454.86,608.46 L455.39,607.05 L455.91,605.64 L456.43,604.23 L456.94,602.82 L457.45,601.41 L457.96,599.99 L458.46,598.58 L458.96,597.16 L459.45,595.74 L459.95,594.32 L460.43,592.89 L460.92,591.47 L461.40,590.04 L461.88,588.62 L462.36,587.19 L462.84,585.76 L463.31,584.33 L463.78,582.90 L464.25,581.47 L464.72,580.03 L465.19,578.60 L465.66,577.17 L466.13,575.73 L466.59,574.30 L467.06,572.86 L467.53,571.43 L467.99,569.99 L468.46,568.56 L468.92,567.12 L469.39,565.69 L469.86,564.25 L470.32,562.82 L470.79,561.38 L471.26,559.95 L471.72,558.51 L472.19,557.08 L472.66,555.64 L473.13,554.21 L473.60,552.77 L474.07,551.34 L474.54,549.91 L475.01,548.48 L475.49,547.05 L475.96,545.62 L476.43,544.19 L476.91,542.76 L477.39,541.33 L477.87,539.91 L478.35,538.48 L478.83,537.06 L479.31,535.63 L479.80,534.21 L480.28,532.79 L480.77,531.37 L481.26,529.96 L481.75,528.54 L482.25,527.13 L482.74,525.71 L483.24,524.30 L483.74,522.89 L484.24,521.48 L484.74,520.08 L485.25,518.68 L485.76,517.27 L486.27,515.87 L486.78,514.48 L487.30,513.08 L487.82,511.69 L488.34,510.29 L488.87,508.90 L489.41,507.50 L489.95,506.10 L490.50,504.70 L491.05,503.29 L491.62,501.88 L492.19,500.46 L492.77,499.03 L493.36,497.60 L493.97,496.15 L494.58,494.70 L495.21,493.24 L495.85,491.77 L496.52,490.31 L497.24,488.90 L498.02,487.55 L498.89,486.31 L499.85,485.21 L500.93,484.26 L502.14,483.50 L503.44,482.96 L504.79,482.64 L506.12,482.57 L507.38,482.76 Z" fill="none" stroke="#1a1a1a" stroke-width="1.5"/>
<path d="M404.60,746.80 L404.77,745.40 L404.67,743.81 L404.60,742.23 L404.56,740.66 L404.55,739.10 L404.57,737.55 L404.63,736.01 L404.71,734.47 L404.83,732.94 L404.97,731.43 L405.14,729.92 L405.34,728.41 L405.57,726.92 L405.82,725.43 L406.10,723.95 L406.40,722.48 L406.73,721.02 L407.08,719.56 L407.46,718.11 L407.86,716.67 L408.28,715.23 L408.72,713.80 L409.19,712.38 L409.67,710.97 L410.18,709.56 L410.71,708.15 L411.25,706.76 L411.82,705.37 L412.40,703.98 L413.00,702.61 L413.62,701.23 L414.25,699.87 L414.90,698.51 L415.56,697.15 L416.24,695.80 L416.93,694.46 L417.64,693.12 L418.36,691.78 L419.09,690.45 L419.83,689.13 L420.59,687.81 L421.35,686.49 L422.13,685.18 L422.91,683.88 L423.71,682.57 L424.51,681.28 L425.32,679.98 L426.14,678.69 L426.96,677.40 L427.79,676.12 L428.63,674.84 L429.47,673.57 L430.31,672.30 L431.16,671.03 L432.02,669.76 L432.87,668.50 L433.73,667.24 L434.59,665.98 L435.45,664.73 L436.31,663.47 L437.17,662.22 L438.03,660.98 L438.89,659.73 L439.74,658.49 L440.60,657.25 L441.45,656.01 L442.30,654.77 L443.14,653.54 L443.98,652.30 L444.82,651.07 L445.65,649.84 L446.47,648.61 L447.29,647.38 L448.10,646.15 L448.90,644.92 L449.71,643.69 L450.51,642.46 L451.30,641.22 L452.10,639.99 L452.89,638.75 L453.68,637.50 L454.47,636.26 L455.26,635.00 L456.05,633.75 L456.85,632.48 L457.64,631.21 L458.44,629.93 L459.24,628.65 L460.05,627.36 L460.85,626.05 L461.67,624.74 L462.49,623.42 L463.31,622.09 L464.14,620.75 L464.98,619.39 L465.83,618.03 L466.68,616.65 L467.55,615.26 L468.42,613.85 L469.31,612.43 L470.20,611.00 L471.11,609.56 L472.03,608.14 L472.96,606.76 L473.91,605.43 L474.87,604.19 L475.86,603.05 L476.85,602.04 L477.87,601.17 L478.91,600.48 L479.97,599.97 L481.05,599.68 L482.16,599.63 L483.29,599.82 L484.44,600.28 L485.56,600.97 L486.62,601.86 L487.58,602.89 L488.40,604.06 L489.09,605.32 L489.65,606.68 L490.08,608.12 L490.41,609.63 L490.64,611.20 L490.77,612.82 L490.82,614.47 L490.79,616.14 L490.69,617.82 L490.54,619.50 L490.33,621.17 L490.08,622.82 L489.80,624.43 L489.49,625.99 L489.17,627.50 L488.82,628.98 L488.45,630.43 L488.07,631.84 L487.66,633.24 L487.25,634.62 L486.82,635.99 L486.37,637.36 L485.92,638.73 L485.45,640.11 L484.98,641.49 L484.49,642.87 L484.00,644.26 L483.49,645.65 L482.97,647.04 L482.44,648.43 L481.90,649.83 L481.35,651.22 L480.79,652.62 L480.22,654.01 L479.64,655.41 L479.04,656.80 L478.43,658.19 L477.82,659.58 L477.19,660.97 L476.54,662.35 L475.89,663.73 L475.23,665.11 L474.55,666.48 L473.86,667.84 L473.16,669.20 L472.45,670.56 L471.72,671.90 L470.99,673.24 L470.24,674.57 L469.48,675.90 L468.70,677.21 L467.92,678.52 L467.12,679.81 L466.31,681.10 L465.49,682.38 L464.66,683.65 L463.82,684.92 L462.97,686.17 L462.11,687.42 L461.24,688.67 L460.37,689.91 L459.49,691.14 L458.60,692.37 L457.71,693.59 L456.81,694.81 L455.91,696.03 L455.01,697.24 L454.10,698.45 L453.19,699.66 L452.28,700.87 L451.37,702.07 L450.45,703.28 L449.54,704.48 L448.63,705.68 L447.72,706.89 L446.81,708.09 L445.90,709.30 L445.00,710.50 L444.10,711.71 L443.20,712.93 L442.31,714.14 L441.43,715.36 L440.55,716.58 L439.68,717.81 L438.82,719.04 L437.96,720.27 L437.11,721.52 L436.27,722.76 L435.44,724.02 L434.63,725.28 L433.82,726.55 L433.03,727.82 L432.24,729.10 L431.47,730.40 L430.72,731.70 L429.97,733.01 L429.25,734.33 L428.53,735.66 L427.84,737.00 L427.16,738.35 L426.50,739.72 L425.85,741.09 L425.23,742.48 L424.62,743.88 L424.03,745.29 L423.70,746.80 L404.60,746.80 Z" fill="#888888" stroke="#1a1a1a" stroke-width="1.5"/>
</g>
<line x1="222.6" y1="180.4" x2="244.8" y2="197.9" stroke="#1a1a1a" stroke-width="1.4"/>
<line x1="599.5" y1="57.2" x2="606.7" y2="90.5" stroke="#1a1a1a" stroke-width="1.4"/>
<line x1="502.4" y1="216.8" x2="529.7" y2="225.3" stroke="#1a1a1a" stroke-width="1.4"/>
<line x1="380" y1="331" x2="407" y2="322.3" stroke="#1a1a1a" stroke-width="1.4"/>
<line x1="272.5" y1="523.4" x2="278.3" y2="500" stroke="#1a1a1a" stroke-width="1.4"/>
<line x1="581.9" y1="424.7" x2="608.4" y2="454.9" stroke="#1a1a1a" stroke-width="1.4"/>
<line x1="499.8" y1="572.8" x2="525.8" y2="578.5" stroke="#1a1a1a" stroke-width="1.4"/>
<line x1="453.1" y1="701.7" x2="480.9" y2="710.4" stroke="#1a1a1a" stroke-width="1.4"/>
<g stroke="#1a1a1a" stroke-width="1.5" fill="none">
<rect x="67.0" y="5.5" width="607.6" height="741.3"/>
<line x1="67.0" y1="376.2" x2="674.6" y2="376.2"/>
<path d="M67.0,51.84h6M67.0,422.52h6M67.0,98.17h6M67.0,468.85h6M67.0,144.51h6M67.0,515.17h6M67.0,190.85h6M67.0,561.50h6M67.0,237.19h6M67.0,607.82h6M67.0,283.52h6M67.0,654.15h6M67.0,329.86h6M67.0,700.47h6M134.51,376.2v-6.5M134.51,746.8v-6.5M202.02,376.2v-6.5M202.02,746.8v-6.5M269.53,376.2v-6.5M269.53,746.8v-6.5M337.04,376.2v-6.5M337.04,746.8v-6.5M404.56,376.2v-6.5M404.56,746.8v-6.5M472.07,376.2v-6.5M472.07,746.8v-6.5M539.58,376.2v-6.5M539.58,746.8v-6.5M607.09,376.2v-6.5M607.09,746.8v-6.5"/>
</g>
<g><path d="M386.35,159.4H399.25M392.8,152.95000000000002V165.85" stroke="#271b86" stroke-width="2"/><path d="M375.05,166H387.95M381.5,159.55V172.45" stroke="#271b86" stroke-width="2"/><path d="M375.05,177.2H387.95M381.5,170.75V183.64999999999998" stroke="#271b86" stroke-width="2"/><path d="M368.85,197.4H381.75M375.3,190.95000000000002V203.85" stroke="#271b86" stroke-width="2"/><path d="M371.25,207H384.15M377.7,200.55V213.45" stroke="#271b86" stroke-width="2"/><path d="M391.65000000000003,193H404.55M398.1,186.55V199.45" stroke="#271b86" stroke-width="2"/><path d="M389.25,211.2H402.15M395.7,204.75V217.64999999999998" stroke="#271b86" stroke-width="2"/><path d="M424.2,159.55L429.45,170.45L418.95,170.45Z" fill="none" stroke="#e2037f" stroke-width="1.85"/><path d="M428.7,157.75L433.95,168.64999999999998L423.45,168.64999999999998Z" fill="none" stroke="#e2037f" stroke-width="1.85"/><path d="M435.1,166.45000000000002L440.35,177.35L429.85,177.35Z" fill="none" stroke="#e2037f" stroke-width="1.85"/><path d="M412.1,172.05L417.35,182.95L406.85,182.95Z" fill="none" stroke="#e2037f" stroke-width="1.85"/><path d="M419.6,178.85000000000002L424.85,189.75L414.35,189.75Z" fill="none" stroke="#e2037f" stroke-width="1.85"/><path d="M411.7,179.55L416.95,190.45L406.45,190.45Z" fill="none" stroke="#e2037f" stroke-width="1.85"/><path d="M416,176.55L421.25,187.45L410.75,187.45Z" fill="none" stroke="#e2037f" stroke-width="1.85"/><circle cx="420.8" cy="169.9" r="5.5" fill="none" stroke="#a6297f" stroke-width="1.85"/><circle cx="417.5" cy="195.2" r="5.5" fill="none" stroke="#a6297f" stroke-width="1.85"/><path d="M415.7,164.1L427.3,175.70000000000002M415.7,175.70000000000002L427.3,164.1" stroke="#0f9b4f" stroke-width="2"/><path d="M452.7,152.5L458.09999999999997,160L452.7,167.5L447.3,160Z" fill="none" stroke="#d7130f" stroke-width="1.8"/><path d="M451.5,153.9L456.9,161.4L451.5,168.9L446.1,161.4Z" fill="none" stroke="#d7130f" stroke-width="1.8"/><path d="M450.3,155.3L455.7,162.8L450.3,170.3L444.90000000000003,162.8Z" fill="none" stroke="#d7130f" stroke-width="1.8"/><path d="M449.1,156.7L454.5,164.2L449.1,171.7L443.70000000000005,164.2Z" fill="none" stroke="#d7130f" stroke-width="1.8"/><path d="M447.9,158.1L453.29999999999995,165.6L447.9,173.1L442.5,165.6Z" fill="none" stroke="#d7130f" stroke-width="1.8"/><path d="M446.7,159.5L452.09999999999997,167L446.7,174.5L441.3,167Z" fill="none" stroke="#d7130f" stroke-width="1.8"/><path d="M449.5,158.5L454.9,166L449.5,173.5L444.1,166Z" fill="none" stroke="#d7130f" stroke-width="1.8"/><path d="M448.2,160.5L453.59999999999997,168L448.2,175.5L442.8,168Z" fill="none" stroke="#d7130f" stroke-width="1.8"/><path d="M446,167.0L451.4,174.5L446,182.0L440.6,174.5Z" fill="none" stroke="#d7130f" stroke-width="1.8"/><path d="M449.2,175.1L454.59999999999997,182.6L449.2,190.1L443.8,182.6Z" fill="none" stroke="#d7130f" stroke-width="1.8"/><rect x="465.1" y="151.0" width="11.0" height="11.0" fill="none" stroke="#0b8fcf" stroke-width="2"/><rect x="464.5" y="158.7" width="11.0" height="11.0" fill="none" stroke="#0b8fcf" stroke-width="2"/><rect x="464.0" y="169.5" width="11.0" height="11.0" fill="none" stroke="#0b8fcf" stroke-width="2"/><rect x="463.5" y="181.9" width="11.0" height="11.0" fill="none" stroke="#0b8fcf" stroke-width="2"/><rect x="460.2" y="200.0" width="11.0" height="11.0" fill="none" stroke="#0b8fcf" stroke-width="2"/><path d="M386.35,613.1H399.25M392.8,606.65V619.5500000000001" stroke="#271b86" stroke-width="2"/><path d="M375.45,622.6H388.34999999999997M381.9,616.15V629.0500000000001" stroke="#271b86" stroke-width="2"/><path d="M375.45,630.2H388.34999999999997M381.9,623.75V636.6500000000001" stroke="#271b86" stroke-width="2"/><path d="M392.55,623.8H405.45M399,617.3499999999999V630.25" stroke="#271b86" stroke-width="2"/><path d="M369.15000000000003,642.7H382.05M375.6,636.25V649.1500000000001" stroke="#271b86" stroke-width="2"/><path d="M370.65000000000003,642.7H383.55M377.1,636.25V649.1500000000001" stroke="#271b86" stroke-width="2"/><path d="M389.45,643.1H402.34999999999997M395.9,636.65V649.5500000000001" stroke="#271b86" stroke-width="2"/><path d="M418.3,489.95L423.55,500.84999999999997L413.05,500.84999999999997Z" fill="none" stroke="#e2037f" stroke-width="1.85"/><path d="M435.8,495.25L441.05,506.15L430.55,506.15Z" fill="none" stroke="#e2037f" stroke-width="1.85"/><path d="M412.8,504.25L418.05,515.15L407.55,515.15Z" fill="none" stroke="#e2037f" stroke-width="1.85"/><path d="M413.4,507.55L418.65,518.45L408.15,518.45Z" fill="none" stroke="#e2037f" stroke-width="1.85"/><path d="M429.7,502.55L434.95,513.45L424.45,513.45Z" fill="none" stroke="#e2037f" stroke-width="1.85"/><path d="M421,509.55L426.25,520.45L415.75,520.45Z" fill="none" stroke="#e2037f" stroke-width="1.85"/><path d="M424.4,510.05L429.65,520.95L419.15,520.95Z" fill="none" stroke="#e2037f" stroke-width="1.85"/><path d="M427.5,510.55L432.75,521.45L422.25,521.45Z" fill="none" stroke="#e2037f" stroke-width="1.85"/><path d="M418,510.55L423.25,521.45L412.75,521.45Z" fill="none" stroke="#e2037f" stroke-width="1.85"/><path d="M452.4,503.8L457.79999999999995,511.3L452.4,518.8L447.0,511.3Z" fill="none" stroke="#d7130f" stroke-width="1.8"/><path d="M450.8,506.29999999999995L456.2,513.8L450.8,521.3L445.40000000000003,513.8Z" fill="none" stroke="#d7130f" stroke-width="1.8"/><path d="M449.2,508.79999999999995L454.59999999999997,516.3L449.2,523.8L443.8,516.3Z" fill="none" stroke="#d7130f" stroke-width="1.8"/><path d="M447.4,511.70000000000005L452.79999999999995,519.2L447.4,526.7L442.0,519.2Z" fill="none" stroke="#d7130f" stroke-width="1.8"/><path d="M445.6,514.5L451.0,522L445.6,529.5L440.20000000000005,522Z" fill="none" stroke="#d7130f" stroke-width="1.8"/><path d="M443.7,517.2L449.09999999999997,524.7L443.7,532.2L438.3,524.7Z" fill="none" stroke="#d7130f" stroke-width="1.8"/><path d="M447.1,518.0L452.5,525.5L447.1,533.0L441.70000000000005,525.5Z" fill="none" stroke="#d7130f" stroke-width="1.8"/><path d="M450.1,516.7L455.5,524.2L450.1,531.7L444.70000000000005,524.2Z" fill="none" stroke="#d7130f" stroke-width="1.8"/><circle cx="419.8" cy="575.9" r="5.5" fill="none" stroke="#a6297f" stroke-width="1.85"/><circle cx="417.6" cy="592.5" r="5.5" fill="none" stroke="#a6297f" stroke-width="1.85"/><path d="M415.5,569.3000000000001L427.1,580.9M415.5,580.9L427.1,569.3000000000001" stroke="#0f9b4f" stroke-width="2"/><rect x="465.2" y="541.0" width="11.0" height="11.0" fill="none" stroke="#0b8fcf" stroke-width="2"/><rect x="464.5" y="547.0" width="11.0" height="11.0" fill="none" stroke="#0b8fcf" stroke-width="2"/><rect x="464.0" y="553.0" width="11.0" height="11.0" fill="none" stroke="#0b8fcf" stroke-width="2"/><rect x="463.8" y="558.7" width="11.0" height="11.0" fill="none" stroke="#0b8fcf" stroke-width="2"/><rect x="460.3" y="568.3" width="11.0" height="11.0" fill="none" stroke="#0b8fcf" stroke-width="2"/></g>
<g><path d="M91.45,17.05L96.85000000000001,24.55L91.45,32.05L86.05,24.55Z" fill="none" stroke="#d7130f" stroke-width="1.8"/><path d="M84.85,50.5H97.75M91.3,44.05V56.95" stroke="#271b86" stroke-width="2"/><path d="M91.35,71.05L96.6,81.95L86.1,81.95Z" fill="none" stroke="#e2037f" stroke-width="1.85"/><circle cx="260.6" cy="24.4" r="5.5" fill="none" stroke="#a6297f" stroke-width="1.85"/><path d="M254.8,44.75L266.40000000000003,56.349999999999994M254.8,56.349999999999994L266.40000000000003,44.75" stroke="#0f9b4f" stroke-width="2"/><rect x="255.10000000000002" y="71.1" width="11.0" height="11.0" fill="none" stroke="#0b8fcf" stroke-width="2"/></g>
<text x="106" y="31.3" text-anchor="start" font-family="'Liberation Serif', serif" font-size="18.4" fill="#111">Laurani ores</text>
<text x="105.5" y="56.8" text-anchor="start" font-family="'Liberation Serif', serif" font-size="18.4" fill="#111">San Cristobal ores</text>
<text x="106" y="81.8" text-anchor="start" font-family="'Liberation Serif', serif" font-size="18.4" fill="#111">Berenguela ores</text>
<text x="276.5" y="29" text-anchor="start" font-family="'Liberation Serif', serif" font-size="18.4" fill="#111">Negrillos ores</text>
<text x="275.8" y="54.6" text-anchor="start" font-family="'Liberation Serif', serif" font-size="18.4" fill="#111">Carangas ores</text>
<text x="275.8" y="82.5" text-anchor="start" font-family="'Liberation Serif', serif" font-size="18.4" fill="#111">Chinchilhuma ores</text>
<text x="177" y="172.7" text-anchor="middle" font-family="'Liberation Serif', serif" font-size="18.4" fill="#111">Arequipa Massif</text>
<text x="177" y="190.9" text-anchor="middle" font-family="'Liberation Serif', serif" font-size="18.4" fill="#111">basement</text>
<text x="604.5" y="108.3" text-anchor="middle" font-family="'Liberation Serif', serif" font-size="18.4" fill="#111">Pz, K and T</text>
<text x="604.5" y="126.5" text-anchor="middle" font-family="'Liberation Serif', serif" font-size="18.4" fill="#111">sedimentary rocks</text>
<text x="573.3" y="221.6" text-anchor="middle" font-family="'Liberation Serif', serif" font-size="18.4" fill="#111">Nazca Plate</text>
<text x="573.3" y="240.2" text-anchor="middle" font-family="'Liberation Serif', serif" font-size="18.4" fill="#111">sediments</text>
<text x="233" y="337.7" text-anchor="start" font-family="'Liberation Serif', serif" font-size="18.4" fill="#111">Nazca Plate MORB</text>
<text x="267" y="492.5" text-anchor="middle" font-family="'Liberation Serif', serif" font-size="18.4" fill="#111">Arequipa Massif basement</text>
<text x="603.5" y="470.6" text-anchor="middle" font-family="'Liberation Serif', serif" font-size="18.4" fill="#111">Pz, K and T</text>
<text x="603.5" y="488.5" text-anchor="middle" font-family="'Liberation Serif', serif" font-size="18.4" fill="#111">sedimentary rocks</text>
<text x="572" y="574.8" text-anchor="middle" font-family="'Liberation Serif', serif" font-size="18.4" fill="#111">Nazca Plate</text>
<text x="572" y="592.7" text-anchor="middle" font-family="'Liberation Serif', serif" font-size="18.4" fill="#111">sediments</text>
<text x="481.5" y="716.9" text-anchor="start" font-family="'Liberation Serif', serif" font-size="18.4" fill="#111">Nazca Plate MORB</text>
<text x="65.1" y="14.4" text-anchor="end" font-family="'Liberation Serif', serif" font-size="20.2" fill="#111">15.8</text>
<text x="65.1" y="106.3" text-anchor="end" font-family="'Liberation Serif', serif" font-size="20.2" fill="#111">15.7</text>
<text x="64.4" y="197.9" text-anchor="end" font-family="'Liberation Serif', serif" font-size="20.2" fill="#111">15.6</text>
<text x="62.5" y="291.1" text-anchor="end" font-family="'Liberation Serif', serif" font-size="20.2" fill="#111">15.5</text>
<text x="63.599999999999994" y="475.8" text-anchor="end" font-family="'Liberation Serif', serif" font-size="20.2" fill="#111">39.0</text>
<text x="62.5" y="569.2" text-anchor="end" font-family="'Liberation Serif', serif" font-size="20.2" fill="#111">38.5</text>
<text x="63.599999999999994" y="661.2" text-anchor="end" font-family="'Liberation Serif', serif" font-size="20.2" fill="#111">38.0</text>
<text x="63.599999999999994" y="752.9" text-anchor="end" font-family="'Liberation Serif', serif" font-size="20.2" fill="#111">37.5</text>
<text x="134.51111111111112" y="769.3" text-anchor="middle" font-family="'Liberation Serif', serif" font-size="20.2" fill="#111">16</text>
<text x="269.53333333333336" y="769.3" text-anchor="middle" font-family="'Liberation Serif', serif" font-size="20.2" fill="#111">17</text>
<text x="404.55555555555554" y="769.3" text-anchor="middle" font-family="'Liberation Serif', serif" font-size="20.2" fill="#111">18</text>
<text x="539.5777777777778" y="769.3" text-anchor="middle" font-family="'Liberation Serif', serif" font-size="20.2" fill="#111">19</text>
<text x="674.6" y="769.3" text-anchor="middle" font-family="'Liberation Serif', serif" font-size="20.2" fill="#111">20</text>
<text x="371" y="793.5" text-anchor="middle" font-family="'Liberation Serif', serif" font-size="18.4" fill="#111"><tspan font-size="13" dy="-12.3">206</tspan><tspan dy="12.3" font-size="19">Pb/</tspan><tspan font-size="13" dy="-12.3">204</tspan><tspan dy="12.3" font-size="19">Pb</tspan></text>
<text transform="translate(22.2,190.8) rotate(-90)" text-anchor="middle" font-family="'Liberation Serif', serif" font-size="18.4" fill="#111"><tspan font-size="13" dy="-12.3">207</tspan><tspan dy="12.3" font-size="19">Pb/</tspan><tspan font-size="13" dy="-12.3">204</tspan><tspan dy="12.3" font-size="19">Pb</tspan></text>
<text transform="translate(22.2,561.5) rotate(-90)" text-anchor="middle" font-family="'Liberation Serif', serif" font-size="18.4" fill="#111"><tspan font-size="13" dy="-12.3">208</tspan><tspan dy="12.3" font-size="19">Pb/</tspan><tspan font-size="13" dy="-12.3">204</tspan><tspan dy="12.3" font-size="19">Pb</tspan></text>
</svg></body></html>
